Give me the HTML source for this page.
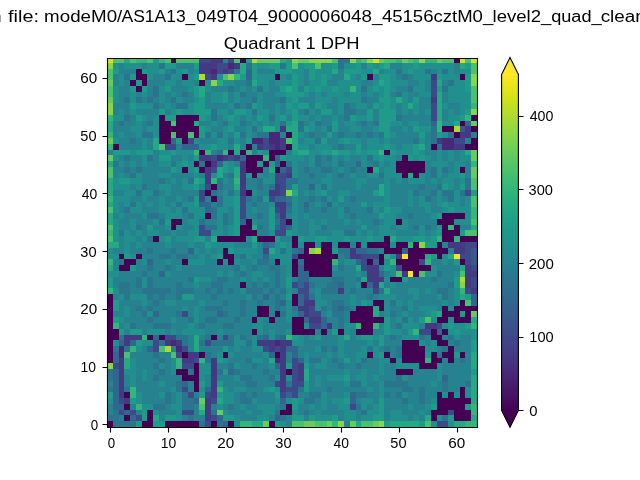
<!DOCTYPE html><html><head><meta charset="utf-8"><style>html,body{margin:0;padding:0;background:#fff;width:640px;height:480px;overflow:hidden}svg{display:block}text{font-family:"Liberation Sans",sans-serif;fill:#000}.tx{opacity:0.999;will-change:transform}</style></head><body>
<svg width="640" height="480" viewBox="0 0 640 480">
<rect width="640" height="480" fill="#fff"/>
<g shape-rendering="crispEdges">
<rect x="107" y="58" width="6" height="5" fill="#d2e21b"/>
<rect x="113" y="58" width="11" height="5" fill="#4ac16d"/>
<rect x="124" y="58" width="6" height="5" fill="#23a983"/>
<rect x="130" y="58" width="6" height="5" fill="#4ac16d"/>
<rect x="136" y="58" width="11" height="5" fill="#32b67a"/>
<rect x="147" y="58" width="6" height="5" fill="#4ac16d"/>
<rect x="153" y="58" width="6" height="5" fill="#1e9c89"/>
<rect x="159" y="58" width="6" height="5" fill="#32b67a"/>
<rect x="165" y="58" width="6" height="5" fill="#4ac16d"/>
<rect x="171" y="58" width="5" height="5" fill="#440154"/>
<rect x="176" y="58" width="23" height="5" fill="#4ac16d"/>
<rect x="199" y="58" width="12" height="5" fill="#3e4989"/>
<rect x="211" y="58" width="12" height="5" fill="#443983"/>
<rect x="223" y="58" width="5" height="5" fill="#26828e"/>
<rect x="228" y="58" width="6" height="5" fill="#3e4989"/>
<rect x="234" y="58" width="6" height="5" fill="#4ac16d"/>
<rect x="240" y="58" width="6" height="5" fill="#440154"/>
<rect x="246" y="58" width="6" height="5" fill="#1e9c89"/>
<rect x="252" y="58" width="5" height="5" fill="#addc30"/>
<rect x="257" y="58" width="23" height="5" fill="#67cc5c"/>
<rect x="280" y="58" width="6" height="5" fill="#23a983"/>
<rect x="286" y="58" width="6" height="5" fill="#1e9c89"/>
<rect x="292" y="58" width="6" height="5" fill="#89d548"/>
<rect x="298" y="58" width="11" height="5" fill="#67cc5c"/>
<rect x="309" y="58" width="23" height="5" fill="#89d548"/>
<rect x="332" y="58" width="6" height="5" fill="#4ac16d"/>
<rect x="338" y="58" width="12" height="5" fill="#2b748e"/>
<rect x="350" y="58" width="6" height="5" fill="#89d548"/>
<rect x="356" y="58" width="5" height="5" fill="#32b67a"/>
<rect x="361" y="58" width="6" height="5" fill="#4ac16d"/>
<rect x="367" y="58" width="6" height="5" fill="#89d548"/>
<rect x="373" y="58" width="6" height="5" fill="#d2e21b"/>
<rect x="379" y="58" width="5" height="5" fill="#67cc5c"/>
<rect x="384" y="58" width="12" height="5" fill="#4ac16d"/>
<rect x="396" y="58" width="6" height="5" fill="#32b67a"/>
<rect x="402" y="58" width="6" height="5" fill="#67cc5c"/>
<rect x="408" y="58" width="5" height="5" fill="#4ac16d"/>
<rect x="413" y="58" width="6" height="5" fill="#32b67a"/>
<rect x="419" y="58" width="6" height="5" fill="#89d548"/>
<rect x="425" y="58" width="12" height="5" fill="#32b67a"/>
<rect x="437" y="58" width="5" height="5" fill="#67cc5c"/>
<rect x="442" y="58" width="12" height="5" fill="#4ac16d"/>
<rect x="454" y="58" width="6" height="5" fill="#440154"/>
<rect x="460" y="58" width="5" height="5" fill="#d2e21b"/>
<rect x="465" y="58" width="6" height="5" fill="#4ac16d"/>
<rect x="471" y="58" width="6" height="5" fill="#d2e21b"/>
<rect x="107" y="63" width="6" height="6" fill="#89d548"/>
<rect x="113" y="63" width="6" height="6" fill="#218f8d"/>
<rect x="119" y="63" width="5" height="6" fill="#26828e"/>
<rect x="124" y="63" width="18" height="6" fill="#218f8d"/>
<rect x="142" y="63" width="5" height="6" fill="#26828e"/>
<rect x="147" y="63" width="12" height="6" fill="#218f8d"/>
<rect x="159" y="63" width="6" height="6" fill="#2b748e"/>
<rect x="165" y="63" width="11" height="6" fill="#1e9c89"/>
<rect x="176" y="63" width="18" height="6" fill="#26828e"/>
<rect x="194" y="63" width="5" height="6" fill="#1e9c89"/>
<rect x="199" y="63" width="18" height="6" fill="#443983"/>
<rect x="217" y="63" width="11" height="6" fill="#3e4989"/>
<rect x="228" y="63" width="6" height="6" fill="#482878"/>
<rect x="234" y="63" width="6" height="6" fill="#443983"/>
<rect x="240" y="63" width="6" height="6" fill="#23a983"/>
<rect x="246" y="63" width="6" height="6" fill="#2b748e"/>
<rect x="252" y="63" width="5" height="6" fill="#1e9c89"/>
<rect x="257" y="63" width="12" height="6" fill="#218f8d"/>
<rect x="269" y="63" width="11" height="6" fill="#1e9c89"/>
<rect x="280" y="63" width="6" height="6" fill="#2b748e"/>
<rect x="286" y="63" width="6" height="6" fill="#1e9c89"/>
<rect x="292" y="63" width="6" height="6" fill="#4ac16d"/>
<rect x="298" y="63" width="6" height="6" fill="#218f8d"/>
<rect x="304" y="63" width="11" height="6" fill="#1e9c89"/>
<rect x="315" y="63" width="6" height="6" fill="#4ac16d"/>
<rect x="321" y="63" width="11" height="6" fill="#218f8d"/>
<rect x="332" y="63" width="6" height="6" fill="#1e9c89"/>
<rect x="338" y="63" width="6" height="6" fill="#2b748e"/>
<rect x="344" y="63" width="12" height="6" fill="#218f8d"/>
<rect x="356" y="63" width="5" height="6" fill="#1e9c89"/>
<rect x="361" y="63" width="6" height="6" fill="#26828e"/>
<rect x="367" y="63" width="6" height="6" fill="#1e9c89"/>
<rect x="373" y="63" width="6" height="6" fill="#218f8d"/>
<rect x="379" y="63" width="5" height="6" fill="#1e9c89"/>
<rect x="384" y="63" width="6" height="6" fill="#23a983"/>
<rect x="390" y="63" width="12" height="6" fill="#26828e"/>
<rect x="402" y="63" width="11" height="6" fill="#218f8d"/>
<rect x="413" y="63" width="6" height="6" fill="#1e9c89"/>
<rect x="419" y="63" width="35" height="6" fill="#218f8d"/>
<rect x="454" y="63" width="6" height="6" fill="#26828e"/>
<rect x="460" y="63" width="5" height="6" fill="#23a983"/>
<rect x="465" y="63" width="6" height="6" fill="#1e9c89"/>
<rect x="471" y="63" width="6" height="6" fill="#4ac16d"/>
<rect x="107" y="69" width="6" height="5" fill="#4ac16d"/>
<rect x="113" y="69" width="6" height="5" fill="#1e9c89"/>
<rect x="119" y="69" width="17" height="5" fill="#26828e"/>
<rect x="136" y="69" width="6" height="5" fill="#440154"/>
<rect x="142" y="69" width="5" height="5" fill="#1e9c89"/>
<rect x="147" y="69" width="12" height="5" fill="#218f8d"/>
<rect x="159" y="69" width="6" height="5" fill="#1e9c89"/>
<rect x="165" y="69" width="6" height="5" fill="#26828e"/>
<rect x="171" y="69" width="5" height="5" fill="#2b748e"/>
<rect x="176" y="69" width="6" height="5" fill="#218f8d"/>
<rect x="182" y="69" width="6" height="5" fill="#1e9c89"/>
<rect x="188" y="69" width="6" height="5" fill="#26828e"/>
<rect x="194" y="69" width="5" height="5" fill="#218f8d"/>
<rect x="199" y="69" width="12" height="5" fill="#443983"/>
<rect x="211" y="69" width="6" height="5" fill="#482878"/>
<rect x="217" y="69" width="6" height="5" fill="#3e4989"/>
<rect x="223" y="69" width="5" height="5" fill="#443983"/>
<rect x="228" y="69" width="6" height="5" fill="#3e4989"/>
<rect x="234" y="69" width="6" height="5" fill="#2b748e"/>
<rect x="240" y="69" width="6" height="5" fill="#23a983"/>
<rect x="246" y="69" width="6" height="5" fill="#31678e"/>
<rect x="252" y="69" width="5" height="5" fill="#1e9c89"/>
<rect x="257" y="69" width="18" height="5" fill="#26828e"/>
<rect x="275" y="69" width="17" height="5" fill="#1e9c89"/>
<rect x="292" y="69" width="12" height="5" fill="#218f8d"/>
<rect x="304" y="69" width="5" height="5" fill="#26828e"/>
<rect x="309" y="69" width="6" height="5" fill="#1e9c89"/>
<rect x="315" y="69" width="17" height="5" fill="#218f8d"/>
<rect x="332" y="69" width="6" height="5" fill="#23a983"/>
<rect x="338" y="69" width="6" height="5" fill="#26828e"/>
<rect x="344" y="69" width="17" height="5" fill="#1e9c89"/>
<rect x="361" y="69" width="12" height="5" fill="#218f8d"/>
<rect x="373" y="69" width="6" height="5" fill="#23a983"/>
<rect x="379" y="69" width="5" height="5" fill="#26828e"/>
<rect x="384" y="69" width="12" height="5" fill="#218f8d"/>
<rect x="396" y="69" width="6" height="5" fill="#2b748e"/>
<rect x="402" y="69" width="6" height="5" fill="#218f8d"/>
<rect x="408" y="69" width="5" height="5" fill="#1e9c89"/>
<rect x="413" y="69" width="12" height="5" fill="#218f8d"/>
<rect x="425" y="69" width="6" height="5" fill="#2b748e"/>
<rect x="431" y="69" width="6" height="5" fill="#26828e"/>
<rect x="437" y="69" width="5" height="5" fill="#218f8d"/>
<rect x="442" y="69" width="6" height="5" fill="#2b748e"/>
<rect x="448" y="69" width="6" height="5" fill="#218f8d"/>
<rect x="454" y="69" width="6" height="5" fill="#26828e"/>
<rect x="460" y="69" width="11" height="5" fill="#218f8d"/>
<rect x="471" y="69" width="6" height="5" fill="#4ac16d"/>
<rect x="107" y="74" width="6" height="6" fill="#4ac16d"/>
<rect x="113" y="74" width="6" height="6" fill="#26828e"/>
<rect x="119" y="74" width="5" height="6" fill="#218f8d"/>
<rect x="124" y="74" width="6" height="6" fill="#2b748e"/>
<rect x="130" y="74" width="6" height="6" fill="#1e9c89"/>
<rect x="136" y="74" width="11" height="6" fill="#440154"/>
<rect x="147" y="74" width="6" height="6" fill="#218f8d"/>
<rect x="153" y="74" width="12" height="6" fill="#26828e"/>
<rect x="165" y="74" width="6" height="6" fill="#2b748e"/>
<rect x="171" y="74" width="11" height="6" fill="#218f8d"/>
<rect x="182" y="74" width="6" height="6" fill="#440154"/>
<rect x="188" y="74" width="6" height="6" fill="#218f8d"/>
<rect x="194" y="74" width="5" height="6" fill="#1e9c89"/>
<rect x="199" y="74" width="6" height="6" fill="#addc30"/>
<rect x="205" y="74" width="6" height="6" fill="#3e4989"/>
<rect x="211" y="74" width="6" height="6" fill="#443983"/>
<rect x="217" y="74" width="6" height="6" fill="#218f8d"/>
<rect x="223" y="74" width="5" height="6" fill="#4ac16d"/>
<rect x="228" y="74" width="6" height="6" fill="#89d548"/>
<rect x="234" y="74" width="6" height="6" fill="#32b67a"/>
<rect x="240" y="74" width="6" height="6" fill="#1e9c89"/>
<rect x="246" y="74" width="6" height="6" fill="#31678e"/>
<rect x="252" y="74" width="5" height="6" fill="#1e9c89"/>
<rect x="257" y="74" width="18" height="6" fill="#218f8d"/>
<rect x="275" y="74" width="5" height="6" fill="#440154"/>
<rect x="280" y="74" width="6" height="6" fill="#218f8d"/>
<rect x="286" y="74" width="6" height="6" fill="#26828e"/>
<rect x="292" y="74" width="6" height="6" fill="#1e9c89"/>
<rect x="298" y="74" width="6" height="6" fill="#218f8d"/>
<rect x="304" y="74" width="5" height="6" fill="#26828e"/>
<rect x="309" y="74" width="6" height="6" fill="#1e9c89"/>
<rect x="315" y="74" width="6" height="6" fill="#218f8d"/>
<rect x="321" y="74" width="6" height="6" fill="#1e9c89"/>
<rect x="327" y="74" width="5" height="6" fill="#218f8d"/>
<rect x="332" y="74" width="12" height="6" fill="#26828e"/>
<rect x="344" y="74" width="6" height="6" fill="#23a983"/>
<rect x="350" y="74" width="6" height="6" fill="#218f8d"/>
<rect x="356" y="74" width="5" height="6" fill="#26828e"/>
<rect x="361" y="74" width="6" height="6" fill="#1e9c89"/>
<rect x="367" y="74" width="6" height="6" fill="#440154"/>
<rect x="373" y="74" width="6" height="6" fill="#26828e"/>
<rect x="379" y="74" width="11" height="6" fill="#1e9c89"/>
<rect x="390" y="74" width="6" height="6" fill="#218f8d"/>
<rect x="396" y="74" width="6" height="6" fill="#26828e"/>
<rect x="402" y="74" width="6" height="6" fill="#2b748e"/>
<rect x="408" y="74" width="5" height="6" fill="#26828e"/>
<rect x="413" y="74" width="18" height="6" fill="#218f8d"/>
<rect x="431" y="74" width="6" height="6" fill="#443983"/>
<rect x="437" y="74" width="5" height="6" fill="#1e9c89"/>
<rect x="442" y="74" width="18" height="6" fill="#218f8d"/>
<rect x="460" y="74" width="5" height="6" fill="#440154"/>
<rect x="465" y="74" width="6" height="6" fill="#1e9c89"/>
<rect x="471" y="74" width="6" height="6" fill="#89d548"/>
<rect x="107" y="80" width="6" height="6" fill="#67cc5c"/>
<rect x="113" y="80" width="6" height="6" fill="#26828e"/>
<rect x="119" y="80" width="5" height="6" fill="#218f8d"/>
<rect x="124" y="80" width="6" height="6" fill="#26828e"/>
<rect x="130" y="80" width="6" height="6" fill="#440154"/>
<rect x="136" y="80" width="6" height="6" fill="#1e9c89"/>
<rect x="142" y="80" width="5" height="6" fill="#440154"/>
<rect x="147" y="80" width="18" height="6" fill="#26828e"/>
<rect x="165" y="80" width="11" height="6" fill="#218f8d"/>
<rect x="176" y="80" width="6" height="6" fill="#26828e"/>
<rect x="182" y="80" width="12" height="6" fill="#218f8d"/>
<rect x="194" y="80" width="5" height="6" fill="#26828e"/>
<rect x="199" y="80" width="6" height="6" fill="#440154"/>
<rect x="205" y="80" width="6" height="6" fill="#218f8d"/>
<rect x="211" y="80" width="6" height="6" fill="#89d548"/>
<rect x="217" y="80" width="6" height="6" fill="#23a983"/>
<rect x="223" y="80" width="11" height="6" fill="#218f8d"/>
<rect x="234" y="80" width="12" height="6" fill="#26828e"/>
<rect x="246" y="80" width="6" height="6" fill="#2b748e"/>
<rect x="252" y="80" width="5" height="6" fill="#23a983"/>
<rect x="257" y="80" width="12" height="6" fill="#218f8d"/>
<rect x="269" y="80" width="6" height="6" fill="#26828e"/>
<rect x="275" y="80" width="17" height="6" fill="#218f8d"/>
<rect x="292" y="80" width="6" height="6" fill="#1e9c89"/>
<rect x="298" y="80" width="6" height="6" fill="#218f8d"/>
<rect x="304" y="80" width="5" height="6" fill="#26828e"/>
<rect x="309" y="80" width="12" height="6" fill="#218f8d"/>
<rect x="321" y="80" width="6" height="6" fill="#1e9c89"/>
<rect x="327" y="80" width="11" height="6" fill="#26828e"/>
<rect x="338" y="80" width="23" height="6" fill="#218f8d"/>
<rect x="361" y="80" width="12" height="6" fill="#26828e"/>
<rect x="373" y="80" width="6" height="6" fill="#218f8d"/>
<rect x="379" y="80" width="5" height="6" fill="#23a983"/>
<rect x="384" y="80" width="6" height="6" fill="#1e9c89"/>
<rect x="390" y="80" width="18" height="6" fill="#218f8d"/>
<rect x="408" y="80" width="11" height="6" fill="#26828e"/>
<rect x="419" y="80" width="6" height="6" fill="#218f8d"/>
<rect x="425" y="80" width="6" height="6" fill="#26828e"/>
<rect x="431" y="80" width="6" height="6" fill="#3e4989"/>
<rect x="437" y="80" width="5" height="6" fill="#23a983"/>
<rect x="442" y="80" width="6" height="6" fill="#26828e"/>
<rect x="448" y="80" width="6" height="6" fill="#2b748e"/>
<rect x="454" y="80" width="11" height="6" fill="#218f8d"/>
<rect x="465" y="80" width="6" height="6" fill="#1e9c89"/>
<rect x="471" y="80" width="6" height="6" fill="#89d548"/>
<rect x="107" y="86" width="6" height="6" fill="#4ac16d"/>
<rect x="113" y="86" width="6" height="6" fill="#218f8d"/>
<rect x="119" y="86" width="11" height="6" fill="#26828e"/>
<rect x="130" y="86" width="6" height="6" fill="#1e9c89"/>
<rect x="136" y="86" width="6" height="6" fill="#440154"/>
<rect x="142" y="86" width="5" height="6" fill="#1e9c89"/>
<rect x="147" y="86" width="6" height="6" fill="#26828e"/>
<rect x="153" y="86" width="6" height="6" fill="#2b748e"/>
<rect x="159" y="86" width="6" height="6" fill="#218f8d"/>
<rect x="165" y="86" width="6" height="6" fill="#1e9c89"/>
<rect x="171" y="86" width="17" height="6" fill="#26828e"/>
<rect x="188" y="86" width="6" height="6" fill="#218f8d"/>
<rect x="194" y="86" width="5" height="6" fill="#1e9c89"/>
<rect x="199" y="86" width="6" height="6" fill="#23a983"/>
<rect x="205" y="86" width="6" height="6" fill="#218f8d"/>
<rect x="211" y="86" width="17" height="6" fill="#26828e"/>
<rect x="228" y="86" width="6" height="6" fill="#2b748e"/>
<rect x="234" y="86" width="6" height="6" fill="#26828e"/>
<rect x="240" y="86" width="6" height="6" fill="#218f8d"/>
<rect x="246" y="86" width="6" height="6" fill="#26828e"/>
<rect x="252" y="86" width="5" height="6" fill="#218f8d"/>
<rect x="257" y="86" width="6" height="6" fill="#2b748e"/>
<rect x="263" y="86" width="6" height="6" fill="#218f8d"/>
<rect x="269" y="86" width="11" height="6" fill="#26828e"/>
<rect x="280" y="86" width="6" height="6" fill="#1e9c89"/>
<rect x="286" y="86" width="6" height="6" fill="#23a983"/>
<rect x="292" y="86" width="6" height="6" fill="#1e9c89"/>
<rect x="298" y="86" width="6" height="6" fill="#26828e"/>
<rect x="304" y="86" width="5" height="6" fill="#1e9c89"/>
<rect x="309" y="86" width="6" height="6" fill="#218f8d"/>
<rect x="315" y="86" width="6" height="6" fill="#1e9c89"/>
<rect x="321" y="86" width="11" height="6" fill="#218f8d"/>
<rect x="332" y="86" width="6" height="6" fill="#1e9c89"/>
<rect x="338" y="86" width="12" height="6" fill="#218f8d"/>
<rect x="350" y="86" width="6" height="6" fill="#32b67a"/>
<rect x="356" y="86" width="5" height="6" fill="#218f8d"/>
<rect x="361" y="86" width="6" height="6" fill="#2b748e"/>
<rect x="367" y="86" width="6" height="6" fill="#218f8d"/>
<rect x="373" y="86" width="6" height="6" fill="#1e9c89"/>
<rect x="379" y="86" width="5" height="6" fill="#218f8d"/>
<rect x="384" y="86" width="6" height="6" fill="#1e9c89"/>
<rect x="390" y="86" width="6" height="6" fill="#218f8d"/>
<rect x="396" y="86" width="12" height="6" fill="#26828e"/>
<rect x="408" y="86" width="5" height="6" fill="#2b748e"/>
<rect x="413" y="86" width="12" height="6" fill="#218f8d"/>
<rect x="425" y="86" width="6" height="6" fill="#26828e"/>
<rect x="431" y="86" width="6" height="6" fill="#3e4989"/>
<rect x="437" y="86" width="5" height="6" fill="#1e9c89"/>
<rect x="442" y="86" width="6" height="6" fill="#2b748e"/>
<rect x="448" y="86" width="17" height="6" fill="#218f8d"/>
<rect x="465" y="86" width="6" height="6" fill="#1e9c89"/>
<rect x="471" y="86" width="6" height="6" fill="#4ac16d"/>
<rect x="107" y="92" width="6" height="5" fill="#4ac16d"/>
<rect x="113" y="92" width="6" height="5" fill="#218f8d"/>
<rect x="119" y="92" width="11" height="5" fill="#26828e"/>
<rect x="130" y="92" width="6" height="5" fill="#218f8d"/>
<rect x="136" y="92" width="6" height="5" fill="#26828e"/>
<rect x="142" y="92" width="5" height="5" fill="#218f8d"/>
<rect x="147" y="92" width="6" height="5" fill="#26828e"/>
<rect x="153" y="92" width="6" height="5" fill="#2b748e"/>
<rect x="159" y="92" width="6" height="5" fill="#218f8d"/>
<rect x="165" y="92" width="6" height="5" fill="#26828e"/>
<rect x="171" y="92" width="5" height="5" fill="#218f8d"/>
<rect x="176" y="92" width="6" height="5" fill="#26828e"/>
<rect x="182" y="92" width="6" height="5" fill="#2b748e"/>
<rect x="188" y="92" width="6" height="5" fill="#26828e"/>
<rect x="194" y="92" width="5" height="5" fill="#1e9c89"/>
<rect x="199" y="92" width="6" height="5" fill="#23a983"/>
<rect x="205" y="92" width="6" height="5" fill="#26828e"/>
<rect x="211" y="92" width="12" height="5" fill="#218f8d"/>
<rect x="223" y="92" width="5" height="5" fill="#1e9c89"/>
<rect x="228" y="92" width="6" height="5" fill="#26828e"/>
<rect x="234" y="92" width="6" height="5" fill="#218f8d"/>
<rect x="240" y="92" width="6" height="5" fill="#2b748e"/>
<rect x="246" y="92" width="11" height="5" fill="#26828e"/>
<rect x="257" y="92" width="6" height="5" fill="#218f8d"/>
<rect x="263" y="92" width="12" height="5" fill="#26828e"/>
<rect x="275" y="92" width="11" height="5" fill="#218f8d"/>
<rect x="286" y="92" width="18" height="5" fill="#1e9c89"/>
<rect x="304" y="92" width="5" height="5" fill="#218f8d"/>
<rect x="309" y="92" width="6" height="5" fill="#26828e"/>
<rect x="315" y="92" width="6" height="5" fill="#218f8d"/>
<rect x="321" y="92" width="6" height="5" fill="#26828e"/>
<rect x="327" y="92" width="17" height="5" fill="#218f8d"/>
<rect x="344" y="92" width="6" height="5" fill="#26828e"/>
<rect x="350" y="92" width="11" height="5" fill="#218f8d"/>
<rect x="361" y="92" width="6" height="5" fill="#26828e"/>
<rect x="367" y="92" width="6" height="5" fill="#218f8d"/>
<rect x="373" y="92" width="6" height="5" fill="#26828e"/>
<rect x="379" y="92" width="5" height="5" fill="#218f8d"/>
<rect x="384" y="92" width="6" height="5" fill="#1e9c89"/>
<rect x="390" y="92" width="6" height="5" fill="#26828e"/>
<rect x="396" y="92" width="6" height="5" fill="#2b748e"/>
<rect x="402" y="92" width="6" height="5" fill="#218f8d"/>
<rect x="408" y="92" width="11" height="5" fill="#26828e"/>
<rect x="419" y="92" width="12" height="5" fill="#218f8d"/>
<rect x="431" y="92" width="6" height="5" fill="#3e4989"/>
<rect x="437" y="92" width="5" height="5" fill="#23a983"/>
<rect x="442" y="92" width="6" height="5" fill="#26828e"/>
<rect x="448" y="92" width="23" height="5" fill="#218f8d"/>
<rect x="471" y="92" width="6" height="5" fill="#4ac16d"/>
<rect x="107" y="97" width="6" height="6" fill="#67cc5c"/>
<rect x="113" y="97" width="6" height="6" fill="#218f8d"/>
<rect x="119" y="97" width="5" height="6" fill="#26828e"/>
<rect x="124" y="97" width="6" height="6" fill="#2b748e"/>
<rect x="130" y="97" width="6" height="6" fill="#218f8d"/>
<rect x="136" y="97" width="6" height="6" fill="#2b748e"/>
<rect x="142" y="97" width="5" height="6" fill="#26828e"/>
<rect x="147" y="97" width="6" height="6" fill="#2b748e"/>
<rect x="153" y="97" width="6" height="6" fill="#26828e"/>
<rect x="159" y="97" width="6" height="6" fill="#218f8d"/>
<rect x="165" y="97" width="6" height="6" fill="#26828e"/>
<rect x="171" y="97" width="5" height="6" fill="#2b748e"/>
<rect x="176" y="97" width="6" height="6" fill="#218f8d"/>
<rect x="182" y="97" width="12" height="6" fill="#26828e"/>
<rect x="194" y="97" width="5" height="6" fill="#218f8d"/>
<rect x="199" y="97" width="6" height="6" fill="#1e9c89"/>
<rect x="205" y="97" width="6" height="6" fill="#26828e"/>
<rect x="211" y="97" width="12" height="6" fill="#218f8d"/>
<rect x="223" y="97" width="5" height="6" fill="#1e9c89"/>
<rect x="228" y="97" width="6" height="6" fill="#26828e"/>
<rect x="234" y="97" width="6" height="6" fill="#218f8d"/>
<rect x="240" y="97" width="12" height="6" fill="#26828e"/>
<rect x="252" y="97" width="5" height="6" fill="#2b748e"/>
<rect x="257" y="97" width="6" height="6" fill="#218f8d"/>
<rect x="263" y="97" width="17" height="6" fill="#26828e"/>
<rect x="280" y="97" width="6" height="6" fill="#2b748e"/>
<rect x="286" y="97" width="6" height="6" fill="#218f8d"/>
<rect x="292" y="97" width="6" height="6" fill="#1e9c89"/>
<rect x="298" y="97" width="17" height="6" fill="#26828e"/>
<rect x="315" y="97" width="17" height="6" fill="#218f8d"/>
<rect x="332" y="97" width="6" height="6" fill="#26828e"/>
<rect x="338" y="97" width="23" height="6" fill="#218f8d"/>
<rect x="361" y="97" width="6" height="6" fill="#2b748e"/>
<rect x="367" y="97" width="12" height="6" fill="#26828e"/>
<rect x="379" y="97" width="11" height="6" fill="#1e9c89"/>
<rect x="390" y="97" width="6" height="6" fill="#218f8d"/>
<rect x="396" y="97" width="6" height="6" fill="#23a983"/>
<rect x="402" y="97" width="6" height="6" fill="#218f8d"/>
<rect x="408" y="97" width="5" height="6" fill="#26828e"/>
<rect x="413" y="97" width="6" height="6" fill="#1e9c89"/>
<rect x="419" y="97" width="12" height="6" fill="#26828e"/>
<rect x="431" y="97" width="6" height="6" fill="#443983"/>
<rect x="437" y="97" width="5" height="6" fill="#23a983"/>
<rect x="442" y="97" width="6" height="6" fill="#26828e"/>
<rect x="448" y="97" width="23" height="6" fill="#218f8d"/>
<rect x="471" y="97" width="6" height="6" fill="#4ac16d"/>
<rect x="107" y="103" width="6" height="6" fill="#89d548"/>
<rect x="113" y="103" width="17" height="6" fill="#26828e"/>
<rect x="130" y="103" width="6" height="6" fill="#1e9c89"/>
<rect x="136" y="103" width="17" height="6" fill="#218f8d"/>
<rect x="153" y="103" width="6" height="6" fill="#2b748e"/>
<rect x="159" y="103" width="6" height="6" fill="#26828e"/>
<rect x="165" y="103" width="6" height="6" fill="#218f8d"/>
<rect x="171" y="103" width="5" height="6" fill="#26828e"/>
<rect x="176" y="103" width="12" height="6" fill="#2b748e"/>
<rect x="188" y="103" width="6" height="6" fill="#218f8d"/>
<rect x="194" y="103" width="11" height="6" fill="#1e9c89"/>
<rect x="205" y="103" width="23" height="6" fill="#26828e"/>
<rect x="228" y="103" width="6" height="6" fill="#218f8d"/>
<rect x="234" y="103" width="6" height="6" fill="#2b748e"/>
<rect x="240" y="103" width="6" height="6" fill="#26828e"/>
<rect x="246" y="103" width="6" height="6" fill="#2b748e"/>
<rect x="252" y="103" width="5" height="6" fill="#1e9c89"/>
<rect x="257" y="103" width="6" height="6" fill="#218f8d"/>
<rect x="263" y="103" width="12" height="6" fill="#26828e"/>
<rect x="275" y="103" width="5" height="6" fill="#218f8d"/>
<rect x="280" y="103" width="6" height="6" fill="#26828e"/>
<rect x="286" y="103" width="6" height="6" fill="#1e9c89"/>
<rect x="292" y="103" width="6" height="6" fill="#218f8d"/>
<rect x="298" y="103" width="11" height="6" fill="#1e9c89"/>
<rect x="309" y="103" width="6" height="6" fill="#26828e"/>
<rect x="315" y="103" width="6" height="6" fill="#1e9c89"/>
<rect x="321" y="103" width="6" height="6" fill="#218f8d"/>
<rect x="327" y="103" width="11" height="6" fill="#26828e"/>
<rect x="338" y="103" width="6" height="6" fill="#218f8d"/>
<rect x="344" y="103" width="6" height="6" fill="#2b748e"/>
<rect x="350" y="103" width="6" height="6" fill="#26828e"/>
<rect x="356" y="103" width="11" height="6" fill="#218f8d"/>
<rect x="367" y="103" width="6" height="6" fill="#26828e"/>
<rect x="373" y="103" width="6" height="6" fill="#1e9c89"/>
<rect x="379" y="103" width="5" height="6" fill="#218f8d"/>
<rect x="384" y="103" width="6" height="6" fill="#1e9c89"/>
<rect x="390" y="103" width="6" height="6" fill="#218f8d"/>
<rect x="396" y="103" width="6" height="6" fill="#26828e"/>
<rect x="402" y="103" width="6" height="6" fill="#218f8d"/>
<rect x="408" y="103" width="5" height="6" fill="#23a983"/>
<rect x="413" y="103" width="6" height="6" fill="#218f8d"/>
<rect x="419" y="103" width="12" height="6" fill="#26828e"/>
<rect x="431" y="103" width="6" height="6" fill="#3e4989"/>
<rect x="437" y="103" width="5" height="6" fill="#23a983"/>
<rect x="442" y="103" width="6" height="6" fill="#218f8d"/>
<rect x="448" y="103" width="12" height="6" fill="#26828e"/>
<rect x="460" y="103" width="11" height="6" fill="#218f8d"/>
<rect x="471" y="103" width="6" height="6" fill="#32b67a"/>
<rect x="107" y="109" width="6" height="6" fill="#89d548"/>
<rect x="113" y="109" width="6" height="6" fill="#26828e"/>
<rect x="119" y="109" width="5" height="6" fill="#218f8d"/>
<rect x="124" y="109" width="6" height="6" fill="#26828e"/>
<rect x="130" y="109" width="6" height="6" fill="#218f8d"/>
<rect x="136" y="109" width="23" height="6" fill="#26828e"/>
<rect x="159" y="109" width="6" height="6" fill="#1e9c89"/>
<rect x="165" y="109" width="6" height="6" fill="#26828e"/>
<rect x="171" y="109" width="5" height="6" fill="#218f8d"/>
<rect x="176" y="109" width="6" height="6" fill="#1e9c89"/>
<rect x="182" y="109" width="12" height="6" fill="#218f8d"/>
<rect x="194" y="109" width="17" height="6" fill="#1e9c89"/>
<rect x="211" y="109" width="6" height="6" fill="#2b748e"/>
<rect x="217" y="109" width="11" height="6" fill="#218f8d"/>
<rect x="228" y="109" width="6" height="6" fill="#26828e"/>
<rect x="234" y="109" width="12" height="6" fill="#1e9c89"/>
<rect x="246" y="109" width="6" height="6" fill="#218f8d"/>
<rect x="252" y="109" width="5" height="6" fill="#2b748e"/>
<rect x="257" y="109" width="12" height="6" fill="#218f8d"/>
<rect x="269" y="109" width="6" height="6" fill="#26828e"/>
<rect x="275" y="109" width="5" height="6" fill="#218f8d"/>
<rect x="280" y="109" width="6" height="6" fill="#26828e"/>
<rect x="286" y="109" width="6" height="6" fill="#218f8d"/>
<rect x="292" y="109" width="6" height="6" fill="#1e9c89"/>
<rect x="298" y="109" width="6" height="6" fill="#26828e"/>
<rect x="304" y="109" width="5" height="6" fill="#2b748e"/>
<rect x="309" y="109" width="6" height="6" fill="#218f8d"/>
<rect x="315" y="109" width="6" height="6" fill="#26828e"/>
<rect x="321" y="109" width="11" height="6" fill="#1e9c89"/>
<rect x="332" y="109" width="6" height="6" fill="#26828e"/>
<rect x="338" y="109" width="6" height="6" fill="#218f8d"/>
<rect x="344" y="109" width="12" height="6" fill="#2b748e"/>
<rect x="356" y="109" width="11" height="6" fill="#26828e"/>
<rect x="367" y="109" width="6" height="6" fill="#1e9c89"/>
<rect x="373" y="109" width="6" height="6" fill="#26828e"/>
<rect x="379" y="109" width="17" height="6" fill="#1e9c89"/>
<rect x="396" y="109" width="6" height="6" fill="#26828e"/>
<rect x="402" y="109" width="6" height="6" fill="#218f8d"/>
<rect x="408" y="109" width="5" height="6" fill="#26828e"/>
<rect x="413" y="109" width="6" height="6" fill="#218f8d"/>
<rect x="419" y="109" width="6" height="6" fill="#26828e"/>
<rect x="425" y="109" width="6" height="6" fill="#218f8d"/>
<rect x="431" y="109" width="6" height="6" fill="#3e4989"/>
<rect x="437" y="109" width="5" height="6" fill="#23a983"/>
<rect x="442" y="109" width="6" height="6" fill="#26828e"/>
<rect x="448" y="109" width="6" height="6" fill="#218f8d"/>
<rect x="454" y="109" width="6" height="6" fill="#26828e"/>
<rect x="460" y="109" width="5" height="6" fill="#218f8d"/>
<rect x="465" y="109" width="6" height="6" fill="#1e9c89"/>
<rect x="471" y="109" width="6" height="6" fill="#89d548"/>
<rect x="107" y="115" width="6" height="6" fill="#32b67a"/>
<rect x="113" y="115" width="11" height="6" fill="#218f8d"/>
<rect x="124" y="115" width="6" height="6" fill="#2b748e"/>
<rect x="130" y="115" width="6" height="6" fill="#26828e"/>
<rect x="136" y="115" width="6" height="6" fill="#1e9c89"/>
<rect x="142" y="115" width="5" height="6" fill="#218f8d"/>
<rect x="147" y="115" width="6" height="6" fill="#26828e"/>
<rect x="153" y="115" width="6" height="6" fill="#218f8d"/>
<rect x="159" y="115" width="6" height="6" fill="#440154"/>
<rect x="165" y="115" width="11" height="6" fill="#1e9c89"/>
<rect x="176" y="115" width="23" height="6" fill="#440154"/>
<rect x="199" y="115" width="6" height="6" fill="#1e9c89"/>
<rect x="205" y="115" width="6" height="6" fill="#218f8d"/>
<rect x="211" y="115" width="6" height="6" fill="#2b748e"/>
<rect x="217" y="115" width="6" height="6" fill="#26828e"/>
<rect x="223" y="115" width="5" height="6" fill="#218f8d"/>
<rect x="228" y="115" width="6" height="6" fill="#1e9c89"/>
<rect x="234" y="115" width="6" height="6" fill="#218f8d"/>
<rect x="240" y="115" width="6" height="6" fill="#26828e"/>
<rect x="246" y="115" width="6" height="6" fill="#218f8d"/>
<rect x="252" y="115" width="5" height="6" fill="#26828e"/>
<rect x="257" y="115" width="6" height="6" fill="#1e9c89"/>
<rect x="263" y="115" width="6" height="6" fill="#218f8d"/>
<rect x="269" y="115" width="6" height="6" fill="#2b748e"/>
<rect x="275" y="115" width="5" height="6" fill="#218f8d"/>
<rect x="280" y="115" width="6" height="6" fill="#1e9c89"/>
<rect x="286" y="115" width="6" height="6" fill="#26828e"/>
<rect x="292" y="115" width="6" height="6" fill="#1e9c89"/>
<rect x="298" y="115" width="11" height="6" fill="#218f8d"/>
<rect x="309" y="115" width="6" height="6" fill="#26828e"/>
<rect x="315" y="115" width="6" height="6" fill="#218f8d"/>
<rect x="321" y="115" width="11" height="6" fill="#26828e"/>
<rect x="332" y="115" width="6" height="6" fill="#218f8d"/>
<rect x="338" y="115" width="6" height="6" fill="#26828e"/>
<rect x="344" y="115" width="6" height="6" fill="#2b748e"/>
<rect x="350" y="115" width="6" height="6" fill="#1e9c89"/>
<rect x="356" y="115" width="11" height="6" fill="#218f8d"/>
<rect x="367" y="115" width="6" height="6" fill="#1e9c89"/>
<rect x="373" y="115" width="6" height="6" fill="#26828e"/>
<rect x="379" y="115" width="17" height="6" fill="#1e9c89"/>
<rect x="396" y="115" width="6" height="6" fill="#2b748e"/>
<rect x="402" y="115" width="29" height="6" fill="#26828e"/>
<rect x="431" y="115" width="6" height="6" fill="#3e4989"/>
<rect x="437" y="115" width="5" height="6" fill="#23a983"/>
<rect x="442" y="115" width="6" height="6" fill="#26828e"/>
<rect x="448" y="115" width="12" height="6" fill="#218f8d"/>
<rect x="460" y="115" width="5" height="6" fill="#1e9c89"/>
<rect x="465" y="115" width="6" height="6" fill="#32b67a"/>
<rect x="471" y="115" width="6" height="6" fill="#440154"/>
<rect x="107" y="121" width="6" height="5" fill="#23a983"/>
<rect x="113" y="121" width="6" height="5" fill="#26828e"/>
<rect x="119" y="121" width="5" height="5" fill="#2b748e"/>
<rect x="124" y="121" width="12" height="5" fill="#26828e"/>
<rect x="136" y="121" width="6" height="5" fill="#218f8d"/>
<rect x="142" y="121" width="5" height="5" fill="#26828e"/>
<rect x="147" y="121" width="6" height="5" fill="#2b748e"/>
<rect x="153" y="121" width="6" height="5" fill="#218f8d"/>
<rect x="159" y="121" width="12" height="5" fill="#440154"/>
<rect x="171" y="121" width="5" height="5" fill="#4ac16d"/>
<rect x="176" y="121" width="18" height="5" fill="#440154"/>
<rect x="194" y="121" width="5" height="5" fill="#23a983"/>
<rect x="199" y="121" width="12" height="5" fill="#26828e"/>
<rect x="211" y="121" width="6" height="5" fill="#218f8d"/>
<rect x="217" y="121" width="6" height="5" fill="#26828e"/>
<rect x="223" y="121" width="5" height="5" fill="#2b748e"/>
<rect x="228" y="121" width="12" height="5" fill="#218f8d"/>
<rect x="240" y="121" width="6" height="5" fill="#2b748e"/>
<rect x="246" y="121" width="6" height="5" fill="#26828e"/>
<rect x="252" y="121" width="5" height="5" fill="#218f8d"/>
<rect x="257" y="121" width="6" height="5" fill="#26828e"/>
<rect x="263" y="121" width="6" height="5" fill="#218f8d"/>
<rect x="269" y="121" width="6" height="5" fill="#26828e"/>
<rect x="275" y="121" width="5" height="5" fill="#218f8d"/>
<rect x="280" y="121" width="6" height="5" fill="#2b748e"/>
<rect x="286" y="121" width="6" height="5" fill="#1e9c89"/>
<rect x="292" y="121" width="6" height="5" fill="#23a983"/>
<rect x="298" y="121" width="6" height="5" fill="#2b748e"/>
<rect x="304" y="121" width="5" height="5" fill="#26828e"/>
<rect x="309" y="121" width="6" height="5" fill="#218f8d"/>
<rect x="315" y="121" width="6" height="5" fill="#2b748e"/>
<rect x="321" y="121" width="11" height="5" fill="#26828e"/>
<rect x="332" y="121" width="6" height="5" fill="#1e9c89"/>
<rect x="338" y="121" width="6" height="5" fill="#26828e"/>
<rect x="344" y="121" width="12" height="5" fill="#218f8d"/>
<rect x="356" y="121" width="5" height="5" fill="#26828e"/>
<rect x="361" y="121" width="6" height="5" fill="#2b748e"/>
<rect x="367" y="121" width="6" height="5" fill="#26828e"/>
<rect x="373" y="121" width="6" height="5" fill="#2b748e"/>
<rect x="379" y="121" width="11" height="5" fill="#1e9c89"/>
<rect x="390" y="121" width="12" height="5" fill="#218f8d"/>
<rect x="402" y="121" width="6" height="5" fill="#26828e"/>
<rect x="408" y="121" width="11" height="5" fill="#218f8d"/>
<rect x="419" y="121" width="12" height="5" fill="#26828e"/>
<rect x="431" y="121" width="6" height="5" fill="#31678e"/>
<rect x="437" y="121" width="5" height="5" fill="#32b67a"/>
<rect x="442" y="121" width="12" height="5" fill="#218f8d"/>
<rect x="454" y="121" width="6" height="5" fill="#23a983"/>
<rect x="460" y="121" width="5" height="5" fill="#440154"/>
<rect x="465" y="121" width="6" height="5" fill="#31678e"/>
<rect x="471" y="121" width="6" height="5" fill="#67cc5c"/>
<rect x="107" y="126" width="6" height="6" fill="#23a983"/>
<rect x="113" y="126" width="17" height="6" fill="#26828e"/>
<rect x="130" y="126" width="12" height="6" fill="#218f8d"/>
<rect x="142" y="126" width="5" height="6" fill="#26828e"/>
<rect x="147" y="126" width="12" height="6" fill="#218f8d"/>
<rect x="159" y="126" width="40" height="6" fill="#440154"/>
<rect x="199" y="126" width="6" height="6" fill="#1e9c89"/>
<rect x="205" y="126" width="6" height="6" fill="#218f8d"/>
<rect x="211" y="126" width="12" height="6" fill="#26828e"/>
<rect x="223" y="126" width="5" height="6" fill="#218f8d"/>
<rect x="228" y="126" width="6" height="6" fill="#1e9c89"/>
<rect x="234" y="126" width="12" height="6" fill="#26828e"/>
<rect x="246" y="126" width="6" height="6" fill="#218f8d"/>
<rect x="252" y="126" width="5" height="6" fill="#2b748e"/>
<rect x="257" y="126" width="6" height="6" fill="#218f8d"/>
<rect x="263" y="126" width="12" height="6" fill="#23a983"/>
<rect x="275" y="126" width="5" height="6" fill="#218f8d"/>
<rect x="280" y="126" width="6" height="6" fill="#443983"/>
<rect x="286" y="126" width="12" height="6" fill="#23a983"/>
<rect x="298" y="126" width="6" height="6" fill="#2b748e"/>
<rect x="304" y="126" width="5" height="6" fill="#1e9c89"/>
<rect x="309" y="126" width="6" height="6" fill="#218f8d"/>
<rect x="315" y="126" width="6" height="6" fill="#26828e"/>
<rect x="321" y="126" width="6" height="6" fill="#218f8d"/>
<rect x="327" y="126" width="5" height="6" fill="#2b748e"/>
<rect x="332" y="126" width="6" height="6" fill="#1e9c89"/>
<rect x="338" y="126" width="12" height="6" fill="#26828e"/>
<rect x="350" y="126" width="11" height="6" fill="#218f8d"/>
<rect x="361" y="126" width="12" height="6" fill="#26828e"/>
<rect x="373" y="126" width="6" height="6" fill="#218f8d"/>
<rect x="379" y="126" width="11" height="6" fill="#1e9c89"/>
<rect x="390" y="126" width="12" height="6" fill="#26828e"/>
<rect x="402" y="126" width="6" height="6" fill="#218f8d"/>
<rect x="408" y="126" width="5" height="6" fill="#26828e"/>
<rect x="413" y="126" width="6" height="6" fill="#1e9c89"/>
<rect x="419" y="126" width="12" height="6" fill="#218f8d"/>
<rect x="431" y="126" width="6" height="6" fill="#2b748e"/>
<rect x="437" y="126" width="5" height="6" fill="#32b67a"/>
<rect x="442" y="126" width="12" height="6" fill="#440154"/>
<rect x="454" y="126" width="6" height="6" fill="#addc30"/>
<rect x="460" y="126" width="5" height="6" fill="#38598c"/>
<rect x="465" y="126" width="6" height="6" fill="#443983"/>
<rect x="471" y="126" width="6" height="6" fill="#440154"/>
<rect x="107" y="132" width="6" height="6" fill="#32b67a"/>
<rect x="113" y="132" width="6" height="6" fill="#26828e"/>
<rect x="119" y="132" width="5" height="6" fill="#218f8d"/>
<rect x="124" y="132" width="12" height="6" fill="#26828e"/>
<rect x="136" y="132" width="6" height="6" fill="#218f8d"/>
<rect x="142" y="132" width="11" height="6" fill="#2b748e"/>
<rect x="153" y="132" width="6" height="6" fill="#218f8d"/>
<rect x="159" y="132" width="12" height="6" fill="#440154"/>
<rect x="171" y="132" width="5" height="6" fill="#4ac16d"/>
<rect x="176" y="132" width="12" height="6" fill="#440154"/>
<rect x="188" y="132" width="6" height="6" fill="#4ac16d"/>
<rect x="194" y="132" width="5" height="6" fill="#440154"/>
<rect x="199" y="132" width="6" height="6" fill="#1e9c89"/>
<rect x="205" y="132" width="6" height="6" fill="#2b748e"/>
<rect x="211" y="132" width="6" height="6" fill="#218f8d"/>
<rect x="217" y="132" width="6" height="6" fill="#2b748e"/>
<rect x="223" y="132" width="5" height="6" fill="#218f8d"/>
<rect x="228" y="132" width="6" height="6" fill="#26828e"/>
<rect x="234" y="132" width="6" height="6" fill="#1e9c89"/>
<rect x="240" y="132" width="6" height="6" fill="#2b748e"/>
<rect x="246" y="132" width="6" height="6" fill="#218f8d"/>
<rect x="252" y="132" width="5" height="6" fill="#26828e"/>
<rect x="257" y="132" width="12" height="6" fill="#2b748e"/>
<rect x="269" y="132" width="11" height="6" fill="#482878"/>
<rect x="280" y="132" width="6" height="6" fill="#26828e"/>
<rect x="286" y="132" width="6" height="6" fill="#440154"/>
<rect x="292" y="132" width="6" height="6" fill="#23a983"/>
<rect x="298" y="132" width="6" height="6" fill="#218f8d"/>
<rect x="304" y="132" width="5" height="6" fill="#26828e"/>
<rect x="309" y="132" width="6" height="6" fill="#2b748e"/>
<rect x="315" y="132" width="12" height="6" fill="#26828e"/>
<rect x="327" y="132" width="5" height="6" fill="#1e9c89"/>
<rect x="332" y="132" width="6" height="6" fill="#26828e"/>
<rect x="338" y="132" width="6" height="6" fill="#2b748e"/>
<rect x="344" y="132" width="12" height="6" fill="#26828e"/>
<rect x="356" y="132" width="5" height="6" fill="#2b748e"/>
<rect x="361" y="132" width="6" height="6" fill="#26828e"/>
<rect x="367" y="132" width="6" height="6" fill="#2b748e"/>
<rect x="373" y="132" width="6" height="6" fill="#26828e"/>
<rect x="379" y="132" width="5" height="6" fill="#2b748e"/>
<rect x="384" y="132" width="6" height="6" fill="#1e9c89"/>
<rect x="390" y="132" width="6" height="6" fill="#218f8d"/>
<rect x="396" y="132" width="23" height="6" fill="#26828e"/>
<rect x="419" y="132" width="6" height="6" fill="#1e9c89"/>
<rect x="425" y="132" width="6" height="6" fill="#26828e"/>
<rect x="431" y="132" width="6" height="6" fill="#2b748e"/>
<rect x="437" y="132" width="5" height="6" fill="#1e9c89"/>
<rect x="442" y="132" width="6" height="6" fill="#218f8d"/>
<rect x="448" y="132" width="6" height="6" fill="#2b748e"/>
<rect x="454" y="132" width="6" height="6" fill="#440154"/>
<rect x="460" y="132" width="11" height="6" fill="#443983"/>
<rect x="471" y="132" width="6" height="6" fill="#26828e"/>
<rect x="107" y="138" width="6" height="6" fill="#67cc5c"/>
<rect x="113" y="138" width="6" height="6" fill="#218f8d"/>
<rect x="119" y="138" width="11" height="6" fill="#26828e"/>
<rect x="130" y="138" width="6" height="6" fill="#2b748e"/>
<rect x="136" y="138" width="6" height="6" fill="#26828e"/>
<rect x="142" y="138" width="5" height="6" fill="#218f8d"/>
<rect x="147" y="138" width="6" height="6" fill="#26828e"/>
<rect x="153" y="138" width="6" height="6" fill="#23a983"/>
<rect x="159" y="138" width="12" height="6" fill="#440154"/>
<rect x="171" y="138" width="5" height="6" fill="#31678e"/>
<rect x="176" y="138" width="6" height="6" fill="#1e9c89"/>
<rect x="182" y="138" width="6" height="6" fill="#440154"/>
<rect x="188" y="138" width="6" height="6" fill="#3e4989"/>
<rect x="194" y="138" width="5" height="6" fill="#218f8d"/>
<rect x="199" y="138" width="18" height="6" fill="#26828e"/>
<rect x="217" y="138" width="11" height="6" fill="#218f8d"/>
<rect x="228" y="138" width="6" height="6" fill="#2b748e"/>
<rect x="234" y="138" width="6" height="6" fill="#218f8d"/>
<rect x="240" y="138" width="6" height="6" fill="#26828e"/>
<rect x="246" y="138" width="6" height="6" fill="#1e9c89"/>
<rect x="252" y="138" width="11" height="6" fill="#482878"/>
<rect x="263" y="138" width="6" height="6" fill="#3e4989"/>
<rect x="269" y="138" width="11" height="6" fill="#482878"/>
<rect x="280" y="138" width="6" height="6" fill="#443983"/>
<rect x="286" y="138" width="6" height="6" fill="#4ac16d"/>
<rect x="292" y="138" width="6" height="6" fill="#23a983"/>
<rect x="298" y="138" width="6" height="6" fill="#26828e"/>
<rect x="304" y="138" width="11" height="6" fill="#218f8d"/>
<rect x="315" y="138" width="6" height="6" fill="#2b748e"/>
<rect x="321" y="138" width="6" height="6" fill="#1e9c89"/>
<rect x="327" y="138" width="11" height="6" fill="#26828e"/>
<rect x="338" y="138" width="6" height="6" fill="#218f8d"/>
<rect x="344" y="138" width="6" height="6" fill="#1e9c89"/>
<rect x="350" y="138" width="11" height="6" fill="#218f8d"/>
<rect x="361" y="138" width="6" height="6" fill="#26828e"/>
<rect x="367" y="138" width="12" height="6" fill="#218f8d"/>
<rect x="379" y="138" width="5" height="6" fill="#26828e"/>
<rect x="384" y="138" width="6" height="6" fill="#218f8d"/>
<rect x="390" y="138" width="23" height="6" fill="#26828e"/>
<rect x="413" y="138" width="6" height="6" fill="#2b748e"/>
<rect x="419" y="138" width="6" height="6" fill="#218f8d"/>
<rect x="425" y="138" width="6" height="6" fill="#26828e"/>
<rect x="431" y="138" width="6" height="6" fill="#2b748e"/>
<rect x="437" y="138" width="5" height="6" fill="#443983"/>
<rect x="442" y="138" width="12" height="6" fill="#482878"/>
<rect x="454" y="138" width="11" height="6" fill="#3e4989"/>
<rect x="465" y="138" width="6" height="6" fill="#26828e"/>
<rect x="471" y="138" width="6" height="6" fill="#440154"/>
<rect x="107" y="144" width="6" height="6" fill="#32b67a"/>
<rect x="113" y="144" width="6" height="6" fill="#440154"/>
<rect x="119" y="144" width="23" height="6" fill="#26828e"/>
<rect x="142" y="144" width="5" height="6" fill="#218f8d"/>
<rect x="147" y="144" width="6" height="6" fill="#26828e"/>
<rect x="153" y="144" width="6" height="6" fill="#23a983"/>
<rect x="159" y="144" width="6" height="6" fill="#4ac16d"/>
<rect x="165" y="144" width="11" height="6" fill="#3e4989"/>
<rect x="176" y="144" width="6" height="6" fill="#26828e"/>
<rect x="182" y="144" width="17" height="6" fill="#31678e"/>
<rect x="199" y="144" width="12" height="6" fill="#218f8d"/>
<rect x="211" y="144" width="6" height="6" fill="#1e9c89"/>
<rect x="217" y="144" width="11" height="6" fill="#218f8d"/>
<rect x="228" y="144" width="6" height="6" fill="#26828e"/>
<rect x="234" y="144" width="6" height="6" fill="#23a983"/>
<rect x="240" y="144" width="6" height="6" fill="#26828e"/>
<rect x="246" y="144" width="6" height="6" fill="#440154"/>
<rect x="252" y="144" width="5" height="6" fill="#26828e"/>
<rect x="257" y="144" width="6" height="6" fill="#443983"/>
<rect x="263" y="144" width="6" height="6" fill="#3e4989"/>
<rect x="269" y="144" width="6" height="6" fill="#443983"/>
<rect x="275" y="144" width="5" height="6" fill="#482878"/>
<rect x="280" y="144" width="6" height="6" fill="#443983"/>
<rect x="286" y="144" width="6" height="6" fill="#440154"/>
<rect x="292" y="144" width="6" height="6" fill="#23a983"/>
<rect x="298" y="144" width="11" height="6" fill="#218f8d"/>
<rect x="309" y="144" width="6" height="6" fill="#26828e"/>
<rect x="315" y="144" width="17" height="6" fill="#218f8d"/>
<rect x="332" y="144" width="6" height="6" fill="#26828e"/>
<rect x="338" y="144" width="6" height="6" fill="#2b748e"/>
<rect x="344" y="144" width="12" height="6" fill="#26828e"/>
<rect x="356" y="144" width="5" height="6" fill="#1e9c89"/>
<rect x="361" y="144" width="6" height="6" fill="#26828e"/>
<rect x="367" y="144" width="17" height="6" fill="#218f8d"/>
<rect x="384" y="144" width="6" height="6" fill="#1e9c89"/>
<rect x="390" y="144" width="6" height="6" fill="#218f8d"/>
<rect x="396" y="144" width="6" height="6" fill="#26828e"/>
<rect x="402" y="144" width="11" height="6" fill="#218f8d"/>
<rect x="413" y="144" width="6" height="6" fill="#1e9c89"/>
<rect x="419" y="144" width="6" height="6" fill="#23a983"/>
<rect x="425" y="144" width="6" height="6" fill="#26828e"/>
<rect x="431" y="144" width="6" height="6" fill="#440154"/>
<rect x="437" y="144" width="5" height="6" fill="#2b748e"/>
<rect x="442" y="144" width="12" height="6" fill="#482878"/>
<rect x="454" y="144" width="11" height="6" fill="#443983"/>
<rect x="465" y="144" width="12" height="6" fill="#440154"/>
<rect x="107" y="150" width="6" height="5" fill="#26828e"/>
<rect x="113" y="150" width="17" height="5" fill="#1e9c89"/>
<rect x="130" y="150" width="6" height="5" fill="#218f8d"/>
<rect x="136" y="150" width="17" height="5" fill="#1e9c89"/>
<rect x="153" y="150" width="6" height="5" fill="#26828e"/>
<rect x="159" y="150" width="12" height="5" fill="#218f8d"/>
<rect x="171" y="150" width="5" height="5" fill="#1e9c89"/>
<rect x="176" y="150" width="18" height="5" fill="#218f8d"/>
<rect x="194" y="150" width="5" height="5" fill="#32b67a"/>
<rect x="199" y="150" width="6" height="5" fill="#440154"/>
<rect x="205" y="150" width="6" height="5" fill="#32b67a"/>
<rect x="211" y="150" width="6" height="5" fill="#26828e"/>
<rect x="217" y="150" width="6" height="5" fill="#2b748e"/>
<rect x="223" y="150" width="5" height="5" fill="#32b67a"/>
<rect x="228" y="150" width="6" height="5" fill="#440154"/>
<rect x="234" y="150" width="6" height="5" fill="#23a983"/>
<rect x="240" y="150" width="6" height="5" fill="#440154"/>
<rect x="246" y="150" width="6" height="5" fill="#32b67a"/>
<rect x="252" y="150" width="5" height="5" fill="#26828e"/>
<rect x="257" y="150" width="6" height="5" fill="#1e9c89"/>
<rect x="263" y="150" width="6" height="5" fill="#218f8d"/>
<rect x="269" y="150" width="17" height="5" fill="#440154"/>
<rect x="286" y="150" width="6" height="5" fill="#26828e"/>
<rect x="292" y="150" width="6" height="5" fill="#1e9c89"/>
<rect x="298" y="150" width="11" height="5" fill="#23a983"/>
<rect x="309" y="150" width="12" height="5" fill="#218f8d"/>
<rect x="321" y="150" width="11" height="5" fill="#1e9c89"/>
<rect x="332" y="150" width="6" height="5" fill="#23a983"/>
<rect x="338" y="150" width="12" height="5" fill="#1e9c89"/>
<rect x="350" y="150" width="6" height="5" fill="#218f8d"/>
<rect x="356" y="150" width="5" height="5" fill="#1e9c89"/>
<rect x="361" y="150" width="6" height="5" fill="#218f8d"/>
<rect x="367" y="150" width="12" height="5" fill="#1e9c89"/>
<rect x="379" y="150" width="5" height="5" fill="#32b67a"/>
<rect x="384" y="150" width="6" height="5" fill="#440154"/>
<rect x="390" y="150" width="6" height="5" fill="#1e9c89"/>
<rect x="396" y="150" width="17" height="5" fill="#218f8d"/>
<rect x="413" y="150" width="6" height="5" fill="#1e9c89"/>
<rect x="419" y="150" width="6" height="5" fill="#218f8d"/>
<rect x="425" y="150" width="12" height="5" fill="#26828e"/>
<rect x="437" y="150" width="5" height="5" fill="#218f8d"/>
<rect x="442" y="150" width="6" height="5" fill="#26828e"/>
<rect x="448" y="150" width="6" height="5" fill="#218f8d"/>
<rect x="454" y="150" width="6" height="5" fill="#26828e"/>
<rect x="460" y="150" width="5" height="5" fill="#218f8d"/>
<rect x="465" y="150" width="6" height="5" fill="#23a983"/>
<rect x="471" y="150" width="6" height="5" fill="#67cc5c"/>
<rect x="107" y="155" width="6" height="6" fill="#67cc5c"/>
<rect x="113" y="155" width="6" height="6" fill="#218f8d"/>
<rect x="119" y="155" width="5" height="6" fill="#26828e"/>
<rect x="124" y="155" width="6" height="6" fill="#2b748e"/>
<rect x="130" y="155" width="12" height="6" fill="#26828e"/>
<rect x="142" y="155" width="5" height="6" fill="#218f8d"/>
<rect x="147" y="155" width="6" height="6" fill="#2b748e"/>
<rect x="153" y="155" width="6" height="6" fill="#26828e"/>
<rect x="159" y="155" width="12" height="6" fill="#1e9c89"/>
<rect x="171" y="155" width="11" height="6" fill="#26828e"/>
<rect x="182" y="155" width="6" height="6" fill="#218f8d"/>
<rect x="188" y="155" width="6" height="6" fill="#26828e"/>
<rect x="194" y="155" width="5" height="6" fill="#1e9c89"/>
<rect x="199" y="155" width="12" height="6" fill="#443983"/>
<rect x="211" y="155" width="6" height="6" fill="#3e4989"/>
<rect x="217" y="155" width="6" height="6" fill="#482878"/>
<rect x="223" y="155" width="5" height="6" fill="#443983"/>
<rect x="228" y="155" width="6" height="6" fill="#3e4989"/>
<rect x="234" y="155" width="6" height="6" fill="#443983"/>
<rect x="240" y="155" width="6" height="6" fill="#31678e"/>
<rect x="246" y="155" width="17" height="6" fill="#440154"/>
<rect x="263" y="155" width="6" height="6" fill="#32b67a"/>
<rect x="269" y="155" width="6" height="6" fill="#440154"/>
<rect x="275" y="155" width="5" height="6" fill="#31678e"/>
<rect x="280" y="155" width="6" height="6" fill="#1e9c89"/>
<rect x="286" y="155" width="18" height="6" fill="#218f8d"/>
<rect x="304" y="155" width="5" height="6" fill="#26828e"/>
<rect x="309" y="155" width="6" height="6" fill="#218f8d"/>
<rect x="315" y="155" width="6" height="6" fill="#2b748e"/>
<rect x="321" y="155" width="6" height="6" fill="#26828e"/>
<rect x="327" y="155" width="5" height="6" fill="#2b748e"/>
<rect x="332" y="155" width="6" height="6" fill="#218f8d"/>
<rect x="338" y="155" width="6" height="6" fill="#26828e"/>
<rect x="344" y="155" width="6" height="6" fill="#218f8d"/>
<rect x="350" y="155" width="11" height="6" fill="#26828e"/>
<rect x="361" y="155" width="6" height="6" fill="#218f8d"/>
<rect x="367" y="155" width="6" height="6" fill="#2b748e"/>
<rect x="373" y="155" width="6" height="6" fill="#218f8d"/>
<rect x="379" y="155" width="5" height="6" fill="#1e9c89"/>
<rect x="384" y="155" width="12" height="6" fill="#218f8d"/>
<rect x="396" y="155" width="6" height="6" fill="#26828e"/>
<rect x="402" y="155" width="6" height="6" fill="#440154"/>
<rect x="408" y="155" width="5" height="6" fill="#1e9c89"/>
<rect x="413" y="155" width="6" height="6" fill="#218f8d"/>
<rect x="419" y="155" width="6" height="6" fill="#1e9c89"/>
<rect x="425" y="155" width="6" height="6" fill="#218f8d"/>
<rect x="431" y="155" width="6" height="6" fill="#26828e"/>
<rect x="437" y="155" width="5" height="6" fill="#218f8d"/>
<rect x="442" y="155" width="6" height="6" fill="#26828e"/>
<rect x="448" y="155" width="6" height="6" fill="#218f8d"/>
<rect x="454" y="155" width="6" height="6" fill="#26828e"/>
<rect x="460" y="155" width="11" height="6" fill="#218f8d"/>
<rect x="471" y="155" width="6" height="6" fill="#67cc5c"/>
<rect x="107" y="161" width="6" height="6" fill="#23a983"/>
<rect x="113" y="161" width="6" height="6" fill="#2b748e"/>
<rect x="119" y="161" width="5" height="6" fill="#218f8d"/>
<rect x="124" y="161" width="6" height="6" fill="#26828e"/>
<rect x="130" y="161" width="6" height="6" fill="#218f8d"/>
<rect x="136" y="161" width="6" height="6" fill="#26828e"/>
<rect x="142" y="161" width="5" height="6" fill="#218f8d"/>
<rect x="147" y="161" width="12" height="6" fill="#26828e"/>
<rect x="159" y="161" width="12" height="6" fill="#218f8d"/>
<rect x="171" y="161" width="5" height="6" fill="#2b748e"/>
<rect x="176" y="161" width="6" height="6" fill="#218f8d"/>
<rect x="182" y="161" width="6" height="6" fill="#1e9c89"/>
<rect x="188" y="161" width="6" height="6" fill="#218f8d"/>
<rect x="194" y="161" width="5" height="6" fill="#440154"/>
<rect x="199" y="161" width="6" height="6" fill="#2b748e"/>
<rect x="205" y="161" width="6" height="6" fill="#440154"/>
<rect x="211" y="161" width="6" height="6" fill="#443983"/>
<rect x="217" y="161" width="6" height="6" fill="#31678e"/>
<rect x="223" y="161" width="5" height="6" fill="#1e9c89"/>
<rect x="228" y="161" width="6" height="6" fill="#218f8d"/>
<rect x="234" y="161" width="6" height="6" fill="#26828e"/>
<rect x="240" y="161" width="6" height="6" fill="#443983"/>
<rect x="246" y="161" width="11" height="6" fill="#440154"/>
<rect x="257" y="161" width="6" height="6" fill="#1e9c89"/>
<rect x="263" y="161" width="6" height="6" fill="#440154"/>
<rect x="269" y="161" width="6" height="6" fill="#1e9c89"/>
<rect x="275" y="161" width="5" height="6" fill="#31678e"/>
<rect x="280" y="161" width="6" height="6" fill="#440154"/>
<rect x="286" y="161" width="6" height="6" fill="#2b748e"/>
<rect x="292" y="161" width="6" height="6" fill="#218f8d"/>
<rect x="298" y="161" width="11" height="6" fill="#26828e"/>
<rect x="309" y="161" width="6" height="6" fill="#218f8d"/>
<rect x="315" y="161" width="6" height="6" fill="#2b748e"/>
<rect x="321" y="161" width="11" height="6" fill="#26828e"/>
<rect x="332" y="161" width="6" height="6" fill="#218f8d"/>
<rect x="338" y="161" width="6" height="6" fill="#2b748e"/>
<rect x="344" y="161" width="12" height="6" fill="#26828e"/>
<rect x="356" y="161" width="5" height="6" fill="#31678e"/>
<rect x="361" y="161" width="6" height="6" fill="#218f8d"/>
<rect x="367" y="161" width="6" height="6" fill="#26828e"/>
<rect x="373" y="161" width="6" height="6" fill="#2b748e"/>
<rect x="379" y="161" width="5" height="6" fill="#218f8d"/>
<rect x="384" y="161" width="6" height="6" fill="#26828e"/>
<rect x="390" y="161" width="6" height="6" fill="#218f8d"/>
<rect x="396" y="161" width="29" height="6" fill="#440154"/>
<rect x="425" y="161" width="6" height="6" fill="#26828e"/>
<rect x="431" y="161" width="17" height="6" fill="#218f8d"/>
<rect x="448" y="161" width="6" height="6" fill="#26828e"/>
<rect x="454" y="161" width="11" height="6" fill="#218f8d"/>
<rect x="465" y="161" width="6" height="6" fill="#26828e"/>
<rect x="471" y="161" width="6" height="6" fill="#32b67a"/>
<rect x="107" y="167" width="6" height="6" fill="#4ac16d"/>
<rect x="113" y="167" width="11" height="6" fill="#26828e"/>
<rect x="124" y="167" width="6" height="6" fill="#2b748e"/>
<rect x="130" y="167" width="6" height="6" fill="#26828e"/>
<rect x="136" y="167" width="6" height="6" fill="#2b748e"/>
<rect x="142" y="167" width="29" height="6" fill="#26828e"/>
<rect x="171" y="167" width="5" height="6" fill="#1e9c89"/>
<rect x="176" y="167" width="6" height="6" fill="#218f8d"/>
<rect x="182" y="167" width="6" height="6" fill="#440154"/>
<rect x="188" y="167" width="6" height="6" fill="#218f8d"/>
<rect x="194" y="167" width="5" height="6" fill="#1e9c89"/>
<rect x="199" y="167" width="6" height="6" fill="#440154"/>
<rect x="205" y="167" width="6" height="6" fill="#443983"/>
<rect x="211" y="167" width="6" height="6" fill="#3e4989"/>
<rect x="217" y="167" width="6" height="6" fill="#23a983"/>
<rect x="223" y="167" width="5" height="6" fill="#1e9c89"/>
<rect x="228" y="167" width="6" height="6" fill="#218f8d"/>
<rect x="234" y="167" width="6" height="6" fill="#23a983"/>
<rect x="240" y="167" width="6" height="6" fill="#443983"/>
<rect x="246" y="167" width="17" height="6" fill="#440154"/>
<rect x="263" y="167" width="6" height="6" fill="#26828e"/>
<rect x="269" y="167" width="6" height="6" fill="#23a983"/>
<rect x="275" y="167" width="5" height="6" fill="#440154"/>
<rect x="280" y="167" width="6" height="6" fill="#31678e"/>
<rect x="286" y="167" width="6" height="6" fill="#3e4989"/>
<rect x="292" y="167" width="6" height="6" fill="#218f8d"/>
<rect x="298" y="167" width="6" height="6" fill="#26828e"/>
<rect x="304" y="167" width="5" height="6" fill="#2b748e"/>
<rect x="309" y="167" width="12" height="6" fill="#26828e"/>
<rect x="321" y="167" width="11" height="6" fill="#2b748e"/>
<rect x="332" y="167" width="6" height="6" fill="#26828e"/>
<rect x="338" y="167" width="6" height="6" fill="#218f8d"/>
<rect x="344" y="167" width="6" height="6" fill="#26828e"/>
<rect x="350" y="167" width="6" height="6" fill="#2b748e"/>
<rect x="356" y="167" width="11" height="6" fill="#26828e"/>
<rect x="367" y="167" width="6" height="6" fill="#440154"/>
<rect x="373" y="167" width="6" height="6" fill="#23a983"/>
<rect x="379" y="167" width="5" height="6" fill="#26828e"/>
<rect x="384" y="167" width="12" height="6" fill="#218f8d"/>
<rect x="396" y="167" width="29" height="6" fill="#440154"/>
<rect x="425" y="167" width="6" height="6" fill="#26828e"/>
<rect x="431" y="167" width="6" height="6" fill="#2b748e"/>
<rect x="437" y="167" width="5" height="6" fill="#218f8d"/>
<rect x="442" y="167" width="6" height="6" fill="#2b748e"/>
<rect x="448" y="167" width="6" height="6" fill="#26828e"/>
<rect x="454" y="167" width="6" height="6" fill="#218f8d"/>
<rect x="460" y="167" width="5" height="6" fill="#440154"/>
<rect x="465" y="167" width="6" height="6" fill="#26828e"/>
<rect x="471" y="167" width="6" height="6" fill="#67cc5c"/>
<rect x="107" y="173" width="6" height="5" fill="#4ac16d"/>
<rect x="113" y="173" width="6" height="5" fill="#26828e"/>
<rect x="119" y="173" width="5" height="5" fill="#218f8d"/>
<rect x="124" y="173" width="6" height="5" fill="#26828e"/>
<rect x="130" y="173" width="6" height="5" fill="#2b748e"/>
<rect x="136" y="173" width="6" height="5" fill="#218f8d"/>
<rect x="142" y="173" width="17" height="5" fill="#26828e"/>
<rect x="159" y="173" width="12" height="5" fill="#218f8d"/>
<rect x="171" y="173" width="23" height="5" fill="#26828e"/>
<rect x="194" y="173" width="5" height="5" fill="#218f8d"/>
<rect x="199" y="173" width="6" height="5" fill="#26828e"/>
<rect x="205" y="173" width="6" height="5" fill="#443983"/>
<rect x="211" y="173" width="6" height="5" fill="#218f8d"/>
<rect x="217" y="173" width="6" height="5" fill="#23a983"/>
<rect x="223" y="173" width="5" height="5" fill="#26828e"/>
<rect x="228" y="173" width="6" height="5" fill="#2b748e"/>
<rect x="234" y="173" width="6" height="5" fill="#23a983"/>
<rect x="240" y="173" width="6" height="5" fill="#443983"/>
<rect x="246" y="173" width="6" height="5" fill="#1e9c89"/>
<rect x="252" y="173" width="5" height="5" fill="#440154"/>
<rect x="257" y="173" width="6" height="5" fill="#218f8d"/>
<rect x="263" y="173" width="6" height="5" fill="#26828e"/>
<rect x="269" y="173" width="6" height="5" fill="#218f8d"/>
<rect x="275" y="173" width="11" height="5" fill="#3e4989"/>
<rect x="286" y="173" width="6" height="5" fill="#443983"/>
<rect x="292" y="173" width="6" height="5" fill="#218f8d"/>
<rect x="298" y="173" width="11" height="5" fill="#26828e"/>
<rect x="309" y="173" width="6" height="5" fill="#2b748e"/>
<rect x="315" y="173" width="12" height="5" fill="#26828e"/>
<rect x="327" y="173" width="5" height="5" fill="#218f8d"/>
<rect x="332" y="173" width="6" height="5" fill="#26828e"/>
<rect x="338" y="173" width="6" height="5" fill="#2b748e"/>
<rect x="344" y="173" width="6" height="5" fill="#26828e"/>
<rect x="350" y="173" width="6" height="5" fill="#218f8d"/>
<rect x="356" y="173" width="11" height="5" fill="#26828e"/>
<rect x="367" y="173" width="12" height="5" fill="#218f8d"/>
<rect x="379" y="173" width="5" height="5" fill="#2b748e"/>
<rect x="384" y="173" width="18" height="5" fill="#218f8d"/>
<rect x="402" y="173" width="6" height="5" fill="#440154"/>
<rect x="408" y="173" width="5" height="5" fill="#23a983"/>
<rect x="413" y="173" width="6" height="5" fill="#440154"/>
<rect x="419" y="173" width="6" height="5" fill="#218f8d"/>
<rect x="425" y="173" width="6" height="5" fill="#26828e"/>
<rect x="431" y="173" width="6" height="5" fill="#2b748e"/>
<rect x="437" y="173" width="5" height="5" fill="#218f8d"/>
<rect x="442" y="173" width="6" height="5" fill="#26828e"/>
<rect x="448" y="173" width="12" height="5" fill="#218f8d"/>
<rect x="460" y="173" width="5" height="5" fill="#1e9c89"/>
<rect x="465" y="173" width="6" height="5" fill="#26828e"/>
<rect x="471" y="173" width="6" height="5" fill="#67cc5c"/>
<rect x="107" y="178" width="6" height="6" fill="#23a983"/>
<rect x="113" y="178" width="6" height="6" fill="#218f8d"/>
<rect x="119" y="178" width="11" height="6" fill="#1e9c89"/>
<rect x="130" y="178" width="12" height="6" fill="#218f8d"/>
<rect x="142" y="178" width="17" height="6" fill="#26828e"/>
<rect x="159" y="178" width="6" height="6" fill="#2b748e"/>
<rect x="165" y="178" width="6" height="6" fill="#26828e"/>
<rect x="171" y="178" width="5" height="6" fill="#218f8d"/>
<rect x="176" y="178" width="6" height="6" fill="#26828e"/>
<rect x="182" y="178" width="6" height="6" fill="#218f8d"/>
<rect x="188" y="178" width="6" height="6" fill="#2b748e"/>
<rect x="194" y="178" width="5" height="6" fill="#23a983"/>
<rect x="199" y="178" width="6" height="6" fill="#1e9c89"/>
<rect x="205" y="178" width="6" height="6" fill="#443983"/>
<rect x="211" y="178" width="6" height="6" fill="#32b67a"/>
<rect x="217" y="178" width="6" height="6" fill="#2b748e"/>
<rect x="223" y="178" width="5" height="6" fill="#218f8d"/>
<rect x="228" y="178" width="6" height="6" fill="#26828e"/>
<rect x="234" y="178" width="6" height="6" fill="#32b67a"/>
<rect x="240" y="178" width="6" height="6" fill="#443983"/>
<rect x="246" y="178" width="11" height="6" fill="#26828e"/>
<rect x="257" y="178" width="6" height="6" fill="#2b748e"/>
<rect x="263" y="178" width="12" height="6" fill="#218f8d"/>
<rect x="275" y="178" width="11" height="6" fill="#3e4989"/>
<rect x="286" y="178" width="12" height="6" fill="#2b748e"/>
<rect x="298" y="178" width="23" height="6" fill="#26828e"/>
<rect x="321" y="178" width="11" height="6" fill="#218f8d"/>
<rect x="332" y="178" width="24" height="6" fill="#26828e"/>
<rect x="356" y="178" width="11" height="6" fill="#218f8d"/>
<rect x="367" y="178" width="17" height="6" fill="#26828e"/>
<rect x="384" y="178" width="6" height="6" fill="#218f8d"/>
<rect x="390" y="178" width="6" height="6" fill="#26828e"/>
<rect x="396" y="178" width="6" height="6" fill="#218f8d"/>
<rect x="402" y="178" width="6" height="6" fill="#26828e"/>
<rect x="408" y="178" width="17" height="6" fill="#218f8d"/>
<rect x="425" y="178" width="6" height="6" fill="#26828e"/>
<rect x="431" y="178" width="6" height="6" fill="#218f8d"/>
<rect x="437" y="178" width="5" height="6" fill="#26828e"/>
<rect x="442" y="178" width="12" height="6" fill="#218f8d"/>
<rect x="454" y="178" width="6" height="6" fill="#26828e"/>
<rect x="460" y="178" width="5" height="6" fill="#218f8d"/>
<rect x="465" y="178" width="6" height="6" fill="#2b748e"/>
<rect x="471" y="178" width="6" height="6" fill="#4ac16d"/>
<rect x="107" y="184" width="6" height="6" fill="#23a983"/>
<rect x="113" y="184" width="17" height="6" fill="#218f8d"/>
<rect x="130" y="184" width="6" height="6" fill="#26828e"/>
<rect x="136" y="184" width="6" height="6" fill="#218f8d"/>
<rect x="142" y="184" width="5" height="6" fill="#2b748e"/>
<rect x="147" y="184" width="12" height="6" fill="#26828e"/>
<rect x="159" y="184" width="12" height="6" fill="#218f8d"/>
<rect x="171" y="184" width="11" height="6" fill="#26828e"/>
<rect x="182" y="184" width="12" height="6" fill="#218f8d"/>
<rect x="194" y="184" width="5" height="6" fill="#1e9c89"/>
<rect x="199" y="184" width="6" height="6" fill="#26828e"/>
<rect x="205" y="184" width="6" height="6" fill="#3e4989"/>
<rect x="211" y="184" width="6" height="6" fill="#440154"/>
<rect x="217" y="184" width="6" height="6" fill="#2b748e"/>
<rect x="223" y="184" width="11" height="6" fill="#26828e"/>
<rect x="234" y="184" width="6" height="6" fill="#23a983"/>
<rect x="240" y="184" width="6" height="6" fill="#443983"/>
<rect x="246" y="184" width="11" height="6" fill="#26828e"/>
<rect x="257" y="184" width="6" height="6" fill="#2b748e"/>
<rect x="263" y="184" width="6" height="6" fill="#26828e"/>
<rect x="269" y="184" width="6" height="6" fill="#2b748e"/>
<rect x="275" y="184" width="5" height="6" fill="#443983"/>
<rect x="280" y="184" width="6" height="6" fill="#3e4989"/>
<rect x="286" y="184" width="6" height="6" fill="#2b748e"/>
<rect x="292" y="184" width="6" height="6" fill="#1e9c89"/>
<rect x="298" y="184" width="11" height="6" fill="#26828e"/>
<rect x="309" y="184" width="6" height="6" fill="#31678e"/>
<rect x="315" y="184" width="6" height="6" fill="#218f8d"/>
<rect x="321" y="184" width="6" height="6" fill="#2b748e"/>
<rect x="327" y="184" width="5" height="6" fill="#218f8d"/>
<rect x="332" y="184" width="24" height="6" fill="#26828e"/>
<rect x="356" y="184" width="5" height="6" fill="#218f8d"/>
<rect x="361" y="184" width="18" height="6" fill="#26828e"/>
<rect x="379" y="184" width="5" height="6" fill="#23a983"/>
<rect x="384" y="184" width="6" height="6" fill="#218f8d"/>
<rect x="390" y="184" width="29" height="6" fill="#26828e"/>
<rect x="419" y="184" width="6" height="6" fill="#2b748e"/>
<rect x="425" y="184" width="12" height="6" fill="#26828e"/>
<rect x="437" y="184" width="5" height="6" fill="#2b748e"/>
<rect x="442" y="184" width="6" height="6" fill="#1e9c89"/>
<rect x="448" y="184" width="6" height="6" fill="#218f8d"/>
<rect x="454" y="184" width="6" height="6" fill="#26828e"/>
<rect x="460" y="184" width="5" height="6" fill="#1e9c89"/>
<rect x="465" y="184" width="6" height="6" fill="#2b748e"/>
<rect x="471" y="184" width="6" height="6" fill="#4ac16d"/>
<rect x="107" y="190" width="6" height="6" fill="#23a983"/>
<rect x="113" y="190" width="11" height="6" fill="#26828e"/>
<rect x="124" y="190" width="12" height="6" fill="#218f8d"/>
<rect x="136" y="190" width="6" height="6" fill="#2b748e"/>
<rect x="142" y="190" width="11" height="6" fill="#218f8d"/>
<rect x="153" y="190" width="6" height="6" fill="#2b748e"/>
<rect x="159" y="190" width="6" height="6" fill="#26828e"/>
<rect x="165" y="190" width="6" height="6" fill="#218f8d"/>
<rect x="171" y="190" width="28" height="6" fill="#26828e"/>
<rect x="199" y="190" width="6" height="6" fill="#3e4989"/>
<rect x="205" y="190" width="6" height="6" fill="#440154"/>
<rect x="211" y="190" width="6" height="6" fill="#2b748e"/>
<rect x="217" y="190" width="6" height="6" fill="#26828e"/>
<rect x="223" y="190" width="5" height="6" fill="#218f8d"/>
<rect x="228" y="190" width="6" height="6" fill="#2b748e"/>
<rect x="234" y="190" width="6" height="6" fill="#218f8d"/>
<rect x="240" y="190" width="6" height="6" fill="#443983"/>
<rect x="246" y="190" width="6" height="6" fill="#440154"/>
<rect x="252" y="190" width="5" height="6" fill="#218f8d"/>
<rect x="257" y="190" width="12" height="6" fill="#26828e"/>
<rect x="269" y="190" width="11" height="6" fill="#443983"/>
<rect x="280" y="190" width="6" height="6" fill="#3e4989"/>
<rect x="286" y="190" width="6" height="6" fill="#89d548"/>
<rect x="292" y="190" width="6" height="6" fill="#23a983"/>
<rect x="298" y="190" width="6" height="6" fill="#26828e"/>
<rect x="304" y="190" width="5" height="6" fill="#218f8d"/>
<rect x="309" y="190" width="6" height="6" fill="#26828e"/>
<rect x="315" y="190" width="6" height="6" fill="#218f8d"/>
<rect x="321" y="190" width="6" height="6" fill="#1e9c89"/>
<rect x="327" y="190" width="11" height="6" fill="#26828e"/>
<rect x="338" y="190" width="12" height="6" fill="#218f8d"/>
<rect x="350" y="190" width="23" height="6" fill="#26828e"/>
<rect x="373" y="190" width="6" height="6" fill="#1e9c89"/>
<rect x="379" y="190" width="5" height="6" fill="#23a983"/>
<rect x="384" y="190" width="6" height="6" fill="#218f8d"/>
<rect x="390" y="190" width="18" height="6" fill="#26828e"/>
<rect x="408" y="190" width="5" height="6" fill="#218f8d"/>
<rect x="413" y="190" width="6" height="6" fill="#2b748e"/>
<rect x="419" y="190" width="12" height="6" fill="#26828e"/>
<rect x="431" y="190" width="6" height="6" fill="#2b748e"/>
<rect x="437" y="190" width="5" height="6" fill="#218f8d"/>
<rect x="442" y="190" width="12" height="6" fill="#2b748e"/>
<rect x="454" y="190" width="6" height="6" fill="#218f8d"/>
<rect x="460" y="190" width="5" height="6" fill="#2b748e"/>
<rect x="465" y="190" width="6" height="6" fill="#3e4989"/>
<rect x="471" y="190" width="6" height="6" fill="#1e9c89"/>
<rect x="107" y="196" width="6" height="6" fill="#32b67a"/>
<rect x="113" y="196" width="17" height="6" fill="#218f8d"/>
<rect x="130" y="196" width="12" height="6" fill="#26828e"/>
<rect x="142" y="196" width="5" height="6" fill="#218f8d"/>
<rect x="147" y="196" width="12" height="6" fill="#26828e"/>
<rect x="159" y="196" width="6" height="6" fill="#218f8d"/>
<rect x="165" y="196" width="11" height="6" fill="#26828e"/>
<rect x="176" y="196" width="6" height="6" fill="#218f8d"/>
<rect x="182" y="196" width="6" height="6" fill="#26828e"/>
<rect x="188" y="196" width="6" height="6" fill="#2b748e"/>
<rect x="194" y="196" width="5" height="6" fill="#1e9c89"/>
<rect x="199" y="196" width="6" height="6" fill="#3e4989"/>
<rect x="205" y="196" width="6" height="6" fill="#26828e"/>
<rect x="211" y="196" width="6" height="6" fill="#440154"/>
<rect x="217" y="196" width="6" height="6" fill="#2b748e"/>
<rect x="223" y="196" width="11" height="6" fill="#218f8d"/>
<rect x="234" y="196" width="6" height="6" fill="#1e9c89"/>
<rect x="240" y="196" width="6" height="6" fill="#3e4989"/>
<rect x="246" y="196" width="6" height="6" fill="#2b748e"/>
<rect x="252" y="196" width="5" height="6" fill="#26828e"/>
<rect x="257" y="196" width="6" height="6" fill="#2b748e"/>
<rect x="263" y="196" width="6" height="6" fill="#1e9c89"/>
<rect x="269" y="196" width="6" height="6" fill="#3e4989"/>
<rect x="275" y="196" width="11" height="6" fill="#31678e"/>
<rect x="286" y="196" width="6" height="6" fill="#2b748e"/>
<rect x="292" y="196" width="6" height="6" fill="#218f8d"/>
<rect x="298" y="196" width="11" height="6" fill="#26828e"/>
<rect x="309" y="196" width="6" height="6" fill="#2b748e"/>
<rect x="315" y="196" width="6" height="6" fill="#26828e"/>
<rect x="321" y="196" width="6" height="6" fill="#2b748e"/>
<rect x="327" y="196" width="5" height="6" fill="#218f8d"/>
<rect x="332" y="196" width="6" height="6" fill="#26828e"/>
<rect x="338" y="196" width="6" height="6" fill="#1e9c89"/>
<rect x="344" y="196" width="6" height="6" fill="#26828e"/>
<rect x="350" y="196" width="6" height="6" fill="#2b748e"/>
<rect x="356" y="196" width="28" height="6" fill="#26828e"/>
<rect x="384" y="196" width="6" height="6" fill="#218f8d"/>
<rect x="390" y="196" width="18" height="6" fill="#26828e"/>
<rect x="408" y="196" width="5" height="6" fill="#218f8d"/>
<rect x="413" y="196" width="6" height="6" fill="#26828e"/>
<rect x="419" y="196" width="6" height="6" fill="#218f8d"/>
<rect x="425" y="196" width="6" height="6" fill="#2b748e"/>
<rect x="431" y="196" width="6" height="6" fill="#26828e"/>
<rect x="437" y="196" width="5" height="6" fill="#218f8d"/>
<rect x="442" y="196" width="6" height="6" fill="#26828e"/>
<rect x="448" y="196" width="6" height="6" fill="#2b748e"/>
<rect x="454" y="196" width="6" height="6" fill="#218f8d"/>
<rect x="460" y="196" width="5" height="6" fill="#26828e"/>
<rect x="465" y="196" width="6" height="6" fill="#218f8d"/>
<rect x="471" y="196" width="6" height="6" fill="#4ac16d"/>
<rect x="107" y="202" width="6" height="5" fill="#23a983"/>
<rect x="113" y="202" width="6" height="5" fill="#218f8d"/>
<rect x="119" y="202" width="5" height="5" fill="#26828e"/>
<rect x="124" y="202" width="6" height="5" fill="#218f8d"/>
<rect x="130" y="202" width="6" height="5" fill="#2b748e"/>
<rect x="136" y="202" width="6" height="5" fill="#218f8d"/>
<rect x="142" y="202" width="5" height="5" fill="#26828e"/>
<rect x="147" y="202" width="6" height="5" fill="#218f8d"/>
<rect x="153" y="202" width="6" height="5" fill="#26828e"/>
<rect x="159" y="202" width="6" height="5" fill="#218f8d"/>
<rect x="165" y="202" width="6" height="5" fill="#26828e"/>
<rect x="171" y="202" width="5" height="5" fill="#218f8d"/>
<rect x="176" y="202" width="6" height="5" fill="#2b748e"/>
<rect x="182" y="202" width="12" height="5" fill="#218f8d"/>
<rect x="194" y="202" width="5" height="5" fill="#1e9c89"/>
<rect x="199" y="202" width="12" height="5" fill="#31678e"/>
<rect x="211" y="202" width="6" height="5" fill="#26828e"/>
<rect x="217" y="202" width="6" height="5" fill="#2b748e"/>
<rect x="223" y="202" width="11" height="5" fill="#218f8d"/>
<rect x="234" y="202" width="6" height="5" fill="#1e9c89"/>
<rect x="240" y="202" width="6" height="5" fill="#3e4989"/>
<rect x="246" y="202" width="6" height="5" fill="#26828e"/>
<rect x="252" y="202" width="5" height="5" fill="#2b748e"/>
<rect x="257" y="202" width="12" height="5" fill="#26828e"/>
<rect x="269" y="202" width="6" height="5" fill="#218f8d"/>
<rect x="275" y="202" width="11" height="5" fill="#443983"/>
<rect x="286" y="202" width="6" height="5" fill="#31678e"/>
<rect x="292" y="202" width="6" height="5" fill="#218f8d"/>
<rect x="298" y="202" width="6" height="5" fill="#26828e"/>
<rect x="304" y="202" width="5" height="5" fill="#31678e"/>
<rect x="309" y="202" width="6" height="5" fill="#26828e"/>
<rect x="315" y="202" width="6" height="5" fill="#218f8d"/>
<rect x="321" y="202" width="6" height="5" fill="#26828e"/>
<rect x="327" y="202" width="5" height="5" fill="#31678e"/>
<rect x="332" y="202" width="6" height="5" fill="#218f8d"/>
<rect x="338" y="202" width="23" height="5" fill="#26828e"/>
<rect x="361" y="202" width="6" height="5" fill="#1e9c89"/>
<rect x="367" y="202" width="6" height="5" fill="#26828e"/>
<rect x="373" y="202" width="17" height="5" fill="#218f8d"/>
<rect x="390" y="202" width="18" height="5" fill="#26828e"/>
<rect x="408" y="202" width="5" height="5" fill="#218f8d"/>
<rect x="413" y="202" width="6" height="5" fill="#26828e"/>
<rect x="419" y="202" width="12" height="5" fill="#218f8d"/>
<rect x="431" y="202" width="6" height="5" fill="#26828e"/>
<rect x="437" y="202" width="5" height="5" fill="#218f8d"/>
<rect x="442" y="202" width="6" height="5" fill="#1e9c89"/>
<rect x="448" y="202" width="12" height="5" fill="#218f8d"/>
<rect x="460" y="202" width="5" height="5" fill="#26828e"/>
<rect x="465" y="202" width="6" height="5" fill="#218f8d"/>
<rect x="471" y="202" width="6" height="5" fill="#4ac16d"/>
<rect x="107" y="207" width="6" height="6" fill="#4ac16d"/>
<rect x="113" y="207" width="6" height="6" fill="#218f8d"/>
<rect x="119" y="207" width="5" height="6" fill="#26828e"/>
<rect x="124" y="207" width="6" height="6" fill="#2b748e"/>
<rect x="130" y="207" width="12" height="6" fill="#218f8d"/>
<rect x="142" y="207" width="17" height="6" fill="#26828e"/>
<rect x="159" y="207" width="12" height="6" fill="#218f8d"/>
<rect x="171" y="207" width="5" height="6" fill="#26828e"/>
<rect x="176" y="207" width="6" height="6" fill="#218f8d"/>
<rect x="182" y="207" width="6" height="6" fill="#2b748e"/>
<rect x="188" y="207" width="17" height="6" fill="#218f8d"/>
<rect x="205" y="207" width="6" height="6" fill="#31678e"/>
<rect x="211" y="207" width="6" height="6" fill="#2b748e"/>
<rect x="217" y="207" width="11" height="6" fill="#218f8d"/>
<rect x="228" y="207" width="6" height="6" fill="#26828e"/>
<rect x="234" y="207" width="6" height="6" fill="#1e9c89"/>
<rect x="240" y="207" width="6" height="6" fill="#3e4989"/>
<rect x="246" y="207" width="6" height="6" fill="#26828e"/>
<rect x="252" y="207" width="5" height="6" fill="#218f8d"/>
<rect x="257" y="207" width="12" height="6" fill="#26828e"/>
<rect x="269" y="207" width="6" height="6" fill="#1e9c89"/>
<rect x="275" y="207" width="5" height="6" fill="#3e4989"/>
<rect x="280" y="207" width="6" height="6" fill="#443983"/>
<rect x="286" y="207" width="6" height="6" fill="#2b748e"/>
<rect x="292" y="207" width="6" height="6" fill="#218f8d"/>
<rect x="298" y="207" width="6" height="6" fill="#26828e"/>
<rect x="304" y="207" width="5" height="6" fill="#2b748e"/>
<rect x="309" y="207" width="12" height="6" fill="#26828e"/>
<rect x="321" y="207" width="6" height="6" fill="#2b748e"/>
<rect x="327" y="207" width="11" height="6" fill="#26828e"/>
<rect x="338" y="207" width="6" height="6" fill="#218f8d"/>
<rect x="344" y="207" width="6" height="6" fill="#2b748e"/>
<rect x="350" y="207" width="17" height="6" fill="#26828e"/>
<rect x="367" y="207" width="6" height="6" fill="#2b748e"/>
<rect x="373" y="207" width="6" height="6" fill="#218f8d"/>
<rect x="379" y="207" width="5" height="6" fill="#26828e"/>
<rect x="384" y="207" width="6" height="6" fill="#1e9c89"/>
<rect x="390" y="207" width="12" height="6" fill="#218f8d"/>
<rect x="402" y="207" width="23" height="6" fill="#26828e"/>
<rect x="425" y="207" width="6" height="6" fill="#218f8d"/>
<rect x="431" y="207" width="11" height="6" fill="#26828e"/>
<rect x="442" y="207" width="6" height="6" fill="#218f8d"/>
<rect x="448" y="207" width="6" height="6" fill="#1e9c89"/>
<rect x="454" y="207" width="17" height="6" fill="#218f8d"/>
<rect x="471" y="207" width="6" height="6" fill="#32b67a"/>
<rect x="107" y="213" width="6" height="6" fill="#23a983"/>
<rect x="113" y="213" width="6" height="6" fill="#26828e"/>
<rect x="119" y="213" width="5" height="6" fill="#218f8d"/>
<rect x="124" y="213" width="18" height="6" fill="#26828e"/>
<rect x="142" y="213" width="5" height="6" fill="#218f8d"/>
<rect x="147" y="213" width="12" height="6" fill="#2b748e"/>
<rect x="159" y="213" width="6" height="6" fill="#26828e"/>
<rect x="165" y="213" width="17" height="6" fill="#218f8d"/>
<rect x="182" y="213" width="6" height="6" fill="#26828e"/>
<rect x="188" y="213" width="6" height="6" fill="#2b748e"/>
<rect x="194" y="213" width="11" height="6" fill="#218f8d"/>
<rect x="205" y="213" width="6" height="6" fill="#440154"/>
<rect x="211" y="213" width="6" height="6" fill="#2b748e"/>
<rect x="217" y="213" width="6" height="6" fill="#218f8d"/>
<rect x="223" y="213" width="5" height="6" fill="#2b748e"/>
<rect x="228" y="213" width="6" height="6" fill="#26828e"/>
<rect x="234" y="213" width="6" height="6" fill="#1e9c89"/>
<rect x="240" y="213" width="6" height="6" fill="#3e4989"/>
<rect x="246" y="213" width="11" height="6" fill="#26828e"/>
<rect x="257" y="213" width="6" height="6" fill="#2b748e"/>
<rect x="263" y="213" width="6" height="6" fill="#26828e"/>
<rect x="269" y="213" width="6" height="6" fill="#1e9c89"/>
<rect x="275" y="213" width="5" height="6" fill="#31678e"/>
<rect x="280" y="213" width="6" height="6" fill="#443983"/>
<rect x="286" y="213" width="6" height="6" fill="#26828e"/>
<rect x="292" y="213" width="6" height="6" fill="#218f8d"/>
<rect x="298" y="213" width="6" height="6" fill="#26828e"/>
<rect x="304" y="213" width="5" height="6" fill="#218f8d"/>
<rect x="309" y="213" width="29" height="6" fill="#26828e"/>
<rect x="338" y="213" width="6" height="6" fill="#218f8d"/>
<rect x="344" y="213" width="6" height="6" fill="#26828e"/>
<rect x="350" y="213" width="6" height="6" fill="#2b748e"/>
<rect x="356" y="213" width="23" height="6" fill="#26828e"/>
<rect x="379" y="213" width="5" height="6" fill="#1e9c89"/>
<rect x="384" y="213" width="12" height="6" fill="#218f8d"/>
<rect x="396" y="213" width="12" height="6" fill="#26828e"/>
<rect x="408" y="213" width="5" height="6" fill="#2b748e"/>
<rect x="413" y="213" width="18" height="6" fill="#26828e"/>
<rect x="431" y="213" width="6" height="6" fill="#218f8d"/>
<rect x="437" y="213" width="5" height="6" fill="#1e9c89"/>
<rect x="442" y="213" width="23" height="6" fill="#440154"/>
<rect x="465" y="213" width="6" height="6" fill="#218f8d"/>
<rect x="471" y="213" width="6" height="6" fill="#32b67a"/>
<rect x="107" y="219" width="6" height="6" fill="#23a983"/>
<rect x="113" y="219" width="6" height="6" fill="#218f8d"/>
<rect x="119" y="219" width="11" height="6" fill="#26828e"/>
<rect x="130" y="219" width="6" height="6" fill="#218f8d"/>
<rect x="136" y="219" width="17" height="6" fill="#26828e"/>
<rect x="153" y="219" width="6" height="6" fill="#218f8d"/>
<rect x="159" y="219" width="6" height="6" fill="#2b748e"/>
<rect x="165" y="219" width="6" height="6" fill="#1e9c89"/>
<rect x="171" y="219" width="11" height="6" fill="#440154"/>
<rect x="182" y="219" width="6" height="6" fill="#26828e"/>
<rect x="188" y="219" width="11" height="6" fill="#218f8d"/>
<rect x="199" y="219" width="6" height="6" fill="#2b748e"/>
<rect x="205" y="219" width="12" height="6" fill="#26828e"/>
<rect x="217" y="219" width="6" height="6" fill="#218f8d"/>
<rect x="223" y="219" width="5" height="6" fill="#2b748e"/>
<rect x="228" y="219" width="6" height="6" fill="#26828e"/>
<rect x="234" y="219" width="6" height="6" fill="#1e9c89"/>
<rect x="240" y="219" width="6" height="6" fill="#31678e"/>
<rect x="246" y="219" width="6" height="6" fill="#440154"/>
<rect x="252" y="219" width="5" height="6" fill="#218f8d"/>
<rect x="257" y="219" width="12" height="6" fill="#26828e"/>
<rect x="269" y="219" width="6" height="6" fill="#1e9c89"/>
<rect x="275" y="219" width="5" height="6" fill="#2b748e"/>
<rect x="280" y="219" width="6" height="6" fill="#3e4989"/>
<rect x="286" y="219" width="6" height="6" fill="#440154"/>
<rect x="292" y="219" width="6" height="6" fill="#218f8d"/>
<rect x="298" y="219" width="11" height="6" fill="#26828e"/>
<rect x="309" y="219" width="6" height="6" fill="#218f8d"/>
<rect x="315" y="219" width="6" height="6" fill="#26828e"/>
<rect x="321" y="219" width="6" height="6" fill="#218f8d"/>
<rect x="327" y="219" width="17" height="6" fill="#26828e"/>
<rect x="344" y="219" width="6" height="6" fill="#218f8d"/>
<rect x="350" y="219" width="6" height="6" fill="#26828e"/>
<rect x="356" y="219" width="5" height="6" fill="#218f8d"/>
<rect x="361" y="219" width="12" height="6" fill="#26828e"/>
<rect x="373" y="219" width="6" height="6" fill="#2b748e"/>
<rect x="379" y="219" width="5" height="6" fill="#26828e"/>
<rect x="384" y="219" width="12" height="6" fill="#218f8d"/>
<rect x="396" y="219" width="6" height="6" fill="#440154"/>
<rect x="402" y="219" width="6" height="6" fill="#218f8d"/>
<rect x="408" y="219" width="29" height="6" fill="#26828e"/>
<rect x="437" y="219" width="17" height="6" fill="#440154"/>
<rect x="454" y="219" width="17" height="6" fill="#218f8d"/>
<rect x="471" y="219" width="6" height="6" fill="#4ac16d"/>
<rect x="107" y="225" width="6" height="5" fill="#4ac16d"/>
<rect x="113" y="225" width="6" height="5" fill="#218f8d"/>
<rect x="119" y="225" width="11" height="5" fill="#26828e"/>
<rect x="130" y="225" width="6" height="5" fill="#218f8d"/>
<rect x="136" y="225" width="6" height="5" fill="#2b748e"/>
<rect x="142" y="225" width="5" height="5" fill="#26828e"/>
<rect x="147" y="225" width="6" height="5" fill="#1e9c89"/>
<rect x="153" y="225" width="12" height="5" fill="#26828e"/>
<rect x="165" y="225" width="6" height="5" fill="#218f8d"/>
<rect x="171" y="225" width="5" height="5" fill="#440154"/>
<rect x="176" y="225" width="6" height="5" fill="#218f8d"/>
<rect x="182" y="225" width="12" height="5" fill="#26828e"/>
<rect x="194" y="225" width="5" height="5" fill="#218f8d"/>
<rect x="199" y="225" width="6" height="5" fill="#3e4989"/>
<rect x="205" y="225" width="12" height="5" fill="#2b748e"/>
<rect x="217" y="225" width="6" height="5" fill="#218f8d"/>
<rect x="223" y="225" width="5" height="5" fill="#26828e"/>
<rect x="228" y="225" width="6" height="5" fill="#218f8d"/>
<rect x="234" y="225" width="6" height="5" fill="#1e9c89"/>
<rect x="240" y="225" width="12" height="5" fill="#440154"/>
<rect x="252" y="225" width="5" height="5" fill="#23a983"/>
<rect x="257" y="225" width="6" height="5" fill="#2b748e"/>
<rect x="263" y="225" width="6" height="5" fill="#26828e"/>
<rect x="269" y="225" width="6" height="5" fill="#1e9c89"/>
<rect x="275" y="225" width="5" height="5" fill="#31678e"/>
<rect x="280" y="225" width="6" height="5" fill="#3e4989"/>
<rect x="286" y="225" width="6" height="5" fill="#31678e"/>
<rect x="292" y="225" width="6" height="5" fill="#218f8d"/>
<rect x="298" y="225" width="11" height="5" fill="#26828e"/>
<rect x="309" y="225" width="12" height="5" fill="#218f8d"/>
<rect x="321" y="225" width="6" height="5" fill="#2b748e"/>
<rect x="327" y="225" width="34" height="5" fill="#26828e"/>
<rect x="361" y="225" width="6" height="5" fill="#1e9c89"/>
<rect x="367" y="225" width="12" height="5" fill="#26828e"/>
<rect x="379" y="225" width="11" height="5" fill="#218f8d"/>
<rect x="390" y="225" width="6" height="5" fill="#26828e"/>
<rect x="396" y="225" width="12" height="5" fill="#218f8d"/>
<rect x="408" y="225" width="5" height="5" fill="#26828e"/>
<rect x="413" y="225" width="6" height="5" fill="#2b748e"/>
<rect x="419" y="225" width="6" height="5" fill="#218f8d"/>
<rect x="425" y="225" width="6" height="5" fill="#2b748e"/>
<rect x="431" y="225" width="6" height="5" fill="#26828e"/>
<rect x="437" y="225" width="5" height="5" fill="#1e9c89"/>
<rect x="442" y="225" width="6" height="5" fill="#440154"/>
<rect x="448" y="225" width="6" height="5" fill="#32b67a"/>
<rect x="454" y="225" width="6" height="5" fill="#440154"/>
<rect x="460" y="225" width="11" height="5" fill="#26828e"/>
<rect x="471" y="225" width="6" height="5" fill="#23a983"/>
<rect x="107" y="230" width="6" height="6" fill="#32b67a"/>
<rect x="113" y="230" width="6" height="6" fill="#218f8d"/>
<rect x="119" y="230" width="5" height="6" fill="#2b748e"/>
<rect x="124" y="230" width="6" height="6" fill="#218f8d"/>
<rect x="130" y="230" width="6" height="6" fill="#26828e"/>
<rect x="136" y="230" width="6" height="6" fill="#218f8d"/>
<rect x="142" y="230" width="5" height="6" fill="#26828e"/>
<rect x="147" y="230" width="12" height="6" fill="#218f8d"/>
<rect x="159" y="230" width="12" height="6" fill="#26828e"/>
<rect x="171" y="230" width="5" height="6" fill="#218f8d"/>
<rect x="176" y="230" width="12" height="6" fill="#26828e"/>
<rect x="188" y="230" width="11" height="6" fill="#218f8d"/>
<rect x="199" y="230" width="12" height="6" fill="#3e4989"/>
<rect x="211" y="230" width="12" height="6" fill="#218f8d"/>
<rect x="223" y="230" width="5" height="6" fill="#26828e"/>
<rect x="228" y="230" width="6" height="6" fill="#218f8d"/>
<rect x="234" y="230" width="6" height="6" fill="#1e9c89"/>
<rect x="240" y="230" width="17" height="6" fill="#440154"/>
<rect x="257" y="230" width="12" height="6" fill="#26828e"/>
<rect x="269" y="230" width="6" height="6" fill="#218f8d"/>
<rect x="275" y="230" width="11" height="6" fill="#3e4989"/>
<rect x="286" y="230" width="6" height="6" fill="#1e9c89"/>
<rect x="292" y="230" width="6" height="6" fill="#218f8d"/>
<rect x="298" y="230" width="11" height="6" fill="#26828e"/>
<rect x="309" y="230" width="6" height="6" fill="#218f8d"/>
<rect x="315" y="230" width="17" height="6" fill="#26828e"/>
<rect x="332" y="230" width="12" height="6" fill="#218f8d"/>
<rect x="344" y="230" width="12" height="6" fill="#2b748e"/>
<rect x="356" y="230" width="5" height="6" fill="#218f8d"/>
<rect x="361" y="230" width="6" height="6" fill="#26828e"/>
<rect x="367" y="230" width="6" height="6" fill="#218f8d"/>
<rect x="373" y="230" width="6" height="6" fill="#26828e"/>
<rect x="379" y="230" width="17" height="6" fill="#218f8d"/>
<rect x="396" y="230" width="23" height="6" fill="#26828e"/>
<rect x="419" y="230" width="6" height="6" fill="#218f8d"/>
<rect x="425" y="230" width="6" height="6" fill="#26828e"/>
<rect x="431" y="230" width="6" height="6" fill="#218f8d"/>
<rect x="437" y="230" width="5" height="6" fill="#1e9c89"/>
<rect x="442" y="230" width="18" height="6" fill="#440154"/>
<rect x="460" y="230" width="5" height="6" fill="#1e9c89"/>
<rect x="465" y="230" width="12" height="6" fill="#4ac16d"/>
<rect x="107" y="236" width="6" height="6" fill="#4ac16d"/>
<rect x="113" y="236" width="6" height="6" fill="#218f8d"/>
<rect x="119" y="236" width="5" height="6" fill="#26828e"/>
<rect x="124" y="236" width="12" height="6" fill="#218f8d"/>
<rect x="136" y="236" width="6" height="6" fill="#26828e"/>
<rect x="142" y="236" width="5" height="6" fill="#218f8d"/>
<rect x="147" y="236" width="6" height="6" fill="#2b748e"/>
<rect x="153" y="236" width="6" height="6" fill="#440154"/>
<rect x="159" y="236" width="6" height="6" fill="#218f8d"/>
<rect x="165" y="236" width="6" height="6" fill="#1e9c89"/>
<rect x="171" y="236" width="5" height="6" fill="#26828e"/>
<rect x="176" y="236" width="18" height="6" fill="#218f8d"/>
<rect x="194" y="236" width="11" height="6" fill="#1e9c89"/>
<rect x="205" y="236" width="6" height="6" fill="#26828e"/>
<rect x="211" y="236" width="6" height="6" fill="#23a983"/>
<rect x="217" y="236" width="29" height="6" fill="#440154"/>
<rect x="246" y="236" width="6" height="6" fill="#218f8d"/>
<rect x="252" y="236" width="5" height="6" fill="#23a983"/>
<rect x="257" y="236" width="18" height="6" fill="#440154"/>
<rect x="275" y="236" width="5" height="6" fill="#1e9c89"/>
<rect x="280" y="236" width="12" height="6" fill="#26828e"/>
<rect x="292" y="236" width="6" height="6" fill="#440154"/>
<rect x="298" y="236" width="6" height="6" fill="#1e9c89"/>
<rect x="304" y="236" width="11" height="6" fill="#218f8d"/>
<rect x="315" y="236" width="12" height="6" fill="#1e9c89"/>
<rect x="327" y="236" width="17" height="6" fill="#218f8d"/>
<rect x="344" y="236" width="6" height="6" fill="#1e9c89"/>
<rect x="350" y="236" width="17" height="6" fill="#218f8d"/>
<rect x="367" y="236" width="6" height="6" fill="#1e9c89"/>
<rect x="373" y="236" width="11" height="6" fill="#218f8d"/>
<rect x="384" y="236" width="6" height="6" fill="#440154"/>
<rect x="390" y="236" width="6" height="6" fill="#23a983"/>
<rect x="396" y="236" width="17" height="6" fill="#218f8d"/>
<rect x="413" y="236" width="12" height="6" fill="#1e9c89"/>
<rect x="425" y="236" width="6" height="6" fill="#218f8d"/>
<rect x="431" y="236" width="6" height="6" fill="#1e9c89"/>
<rect x="437" y="236" width="5" height="6" fill="#32b67a"/>
<rect x="442" y="236" width="12" height="6" fill="#440154"/>
<rect x="454" y="236" width="6" height="6" fill="#32b67a"/>
<rect x="460" y="236" width="17" height="6" fill="#440154"/>
<rect x="107" y="242" width="12" height="6" fill="#23a983"/>
<rect x="119" y="242" width="5" height="6" fill="#26828e"/>
<rect x="124" y="242" width="6" height="6" fill="#218f8d"/>
<rect x="130" y="242" width="6" height="6" fill="#26828e"/>
<rect x="136" y="242" width="6" height="6" fill="#218f8d"/>
<rect x="142" y="242" width="23" height="6" fill="#26828e"/>
<rect x="165" y="242" width="6" height="6" fill="#218f8d"/>
<rect x="171" y="242" width="17" height="6" fill="#26828e"/>
<rect x="188" y="242" width="6" height="6" fill="#218f8d"/>
<rect x="194" y="242" width="11" height="6" fill="#26828e"/>
<rect x="205" y="242" width="6" height="6" fill="#1e9c89"/>
<rect x="211" y="242" width="23" height="6" fill="#218f8d"/>
<rect x="234" y="242" width="18" height="6" fill="#26828e"/>
<rect x="252" y="242" width="5" height="6" fill="#1e9c89"/>
<rect x="257" y="242" width="6" height="6" fill="#26828e"/>
<rect x="263" y="242" width="6" height="6" fill="#31678e"/>
<rect x="269" y="242" width="6" height="6" fill="#2b748e"/>
<rect x="275" y="242" width="5" height="6" fill="#218f8d"/>
<rect x="280" y="242" width="6" height="6" fill="#1e9c89"/>
<rect x="286" y="242" width="6" height="6" fill="#218f8d"/>
<rect x="292" y="242" width="6" height="6" fill="#440154"/>
<rect x="298" y="242" width="6" height="6" fill="#218f8d"/>
<rect x="304" y="242" width="11" height="6" fill="#440154"/>
<rect x="315" y="242" width="6" height="6" fill="#218f8d"/>
<rect x="321" y="242" width="11" height="6" fill="#440154"/>
<rect x="332" y="242" width="6" height="6" fill="#218f8d"/>
<rect x="338" y="242" width="12" height="6" fill="#440154"/>
<rect x="350" y="242" width="6" height="6" fill="#26828e"/>
<rect x="356" y="242" width="5" height="6" fill="#440154"/>
<rect x="361" y="242" width="6" height="6" fill="#218f8d"/>
<rect x="367" y="242" width="23" height="6" fill="#440154"/>
<rect x="390" y="242" width="6" height="6" fill="#218f8d"/>
<rect x="396" y="242" width="12" height="6" fill="#440154"/>
<rect x="408" y="242" width="5" height="6" fill="#32b67a"/>
<rect x="413" y="242" width="6" height="6" fill="#440154"/>
<rect x="419" y="242" width="6" height="6" fill="#89d548"/>
<rect x="425" y="242" width="12" height="6" fill="#1e9c89"/>
<rect x="437" y="242" width="5" height="6" fill="#440154"/>
<rect x="442" y="242" width="6" height="6" fill="#26828e"/>
<rect x="448" y="242" width="17" height="6" fill="#443983"/>
<rect x="465" y="242" width="12" height="6" fill="#3e4989"/>
<rect x="107" y="248" width="6" height="6" fill="#218f8d"/>
<rect x="113" y="248" width="11" height="6" fill="#26828e"/>
<rect x="124" y="248" width="6" height="6" fill="#218f8d"/>
<rect x="130" y="248" width="17" height="6" fill="#26828e"/>
<rect x="147" y="248" width="6" height="6" fill="#2b748e"/>
<rect x="153" y="248" width="18" height="6" fill="#26828e"/>
<rect x="171" y="248" width="5" height="6" fill="#2b748e"/>
<rect x="176" y="248" width="12" height="6" fill="#26828e"/>
<rect x="188" y="248" width="6" height="6" fill="#31678e"/>
<rect x="194" y="248" width="5" height="6" fill="#218f8d"/>
<rect x="199" y="248" width="6" height="6" fill="#26828e"/>
<rect x="205" y="248" width="6" height="6" fill="#218f8d"/>
<rect x="211" y="248" width="6" height="6" fill="#26828e"/>
<rect x="217" y="248" width="6" height="6" fill="#218f8d"/>
<rect x="223" y="248" width="5" height="6" fill="#440154"/>
<rect x="228" y="248" width="6" height="6" fill="#1e9c89"/>
<rect x="234" y="248" width="23" height="6" fill="#218f8d"/>
<rect x="257" y="248" width="6" height="6" fill="#26828e"/>
<rect x="263" y="248" width="6" height="6" fill="#3e4989"/>
<rect x="269" y="248" width="6" height="6" fill="#23a983"/>
<rect x="275" y="248" width="5" height="6" fill="#218f8d"/>
<rect x="280" y="248" width="6" height="6" fill="#2b748e"/>
<rect x="286" y="248" width="6" height="6" fill="#218f8d"/>
<rect x="292" y="248" width="6" height="6" fill="#2b748e"/>
<rect x="298" y="248" width="6" height="6" fill="#31678e"/>
<rect x="304" y="248" width="5" height="6" fill="#440154"/>
<rect x="309" y="248" width="6" height="6" fill="#89d548"/>
<rect x="315" y="248" width="6" height="6" fill="#addc30"/>
<rect x="321" y="248" width="11" height="6" fill="#440154"/>
<rect x="332" y="248" width="6" height="6" fill="#1e9c89"/>
<rect x="338" y="248" width="12" height="6" fill="#2b748e"/>
<rect x="350" y="248" width="6" height="6" fill="#443983"/>
<rect x="356" y="248" width="11" height="6" fill="#31678e"/>
<rect x="367" y="248" width="12" height="6" fill="#2b748e"/>
<rect x="379" y="248" width="5" height="6" fill="#26828e"/>
<rect x="384" y="248" width="18" height="6" fill="#440154"/>
<rect x="402" y="248" width="6" height="6" fill="#31678e"/>
<rect x="408" y="248" width="40" height="6" fill="#440154"/>
<rect x="448" y="248" width="6" height="6" fill="#26828e"/>
<rect x="454" y="248" width="11" height="6" fill="#443983"/>
<rect x="465" y="248" width="6" height="6" fill="#3e4989"/>
<rect x="471" y="248" width="6" height="6" fill="#38598c"/>
<rect x="107" y="254" width="12" height="5" fill="#218f8d"/>
<rect x="119" y="254" width="5" height="5" fill="#440154"/>
<rect x="124" y="254" width="6" height="5" fill="#1e9c89"/>
<rect x="130" y="254" width="6" height="5" fill="#218f8d"/>
<rect x="136" y="254" width="6" height="5" fill="#440154"/>
<rect x="142" y="254" width="17" height="5" fill="#26828e"/>
<rect x="159" y="254" width="12" height="5" fill="#2b748e"/>
<rect x="171" y="254" width="5" height="5" fill="#26828e"/>
<rect x="176" y="254" width="12" height="5" fill="#2b748e"/>
<rect x="188" y="254" width="11" height="5" fill="#26828e"/>
<rect x="199" y="254" width="6" height="5" fill="#218f8d"/>
<rect x="205" y="254" width="6" height="5" fill="#26828e"/>
<rect x="211" y="254" width="6" height="5" fill="#218f8d"/>
<rect x="217" y="254" width="6" height="5" fill="#1e9c89"/>
<rect x="223" y="254" width="11" height="5" fill="#440154"/>
<rect x="234" y="254" width="6" height="5" fill="#26828e"/>
<rect x="240" y="254" width="6" height="5" fill="#2b748e"/>
<rect x="246" y="254" width="6" height="5" fill="#218f8d"/>
<rect x="252" y="254" width="11" height="5" fill="#26828e"/>
<rect x="263" y="254" width="6" height="5" fill="#31678e"/>
<rect x="269" y="254" width="23" height="5" fill="#218f8d"/>
<rect x="292" y="254" width="6" height="5" fill="#3e4989"/>
<rect x="298" y="254" width="40" height="5" fill="#440154"/>
<rect x="338" y="254" width="6" height="5" fill="#26828e"/>
<rect x="344" y="254" width="6" height="5" fill="#2b748e"/>
<rect x="350" y="254" width="11" height="5" fill="#443983"/>
<rect x="361" y="254" width="18" height="5" fill="#3e4989"/>
<rect x="379" y="254" width="5" height="5" fill="#440154"/>
<rect x="384" y="254" width="6" height="5" fill="#23a983"/>
<rect x="390" y="254" width="6" height="5" fill="#218f8d"/>
<rect x="396" y="254" width="6" height="5" fill="#443983"/>
<rect x="402" y="254" width="6" height="5" fill="#f6e620"/>
<rect x="408" y="254" width="17" height="5" fill="#440154"/>
<rect x="425" y="254" width="6" height="5" fill="#23a983"/>
<rect x="431" y="254" width="6" height="5" fill="#1e9c89"/>
<rect x="437" y="254" width="5" height="5" fill="#440154"/>
<rect x="442" y="254" width="6" height="5" fill="#218f8d"/>
<rect x="448" y="254" width="6" height="5" fill="#23a983"/>
<rect x="454" y="254" width="6" height="5" fill="#f6e620"/>
<rect x="460" y="254" width="11" height="5" fill="#3e4989"/>
<rect x="471" y="254" width="6" height="5" fill="#38598c"/>
<rect x="107" y="259" width="6" height="6" fill="#32b67a"/>
<rect x="113" y="259" width="6" height="6" fill="#26828e"/>
<rect x="119" y="259" width="5" height="6" fill="#2b748e"/>
<rect x="124" y="259" width="12" height="6" fill="#440154"/>
<rect x="136" y="259" width="6" height="6" fill="#26828e"/>
<rect x="142" y="259" width="5" height="6" fill="#218f8d"/>
<rect x="147" y="259" width="6" height="6" fill="#31678e"/>
<rect x="153" y="259" width="12" height="6" fill="#26828e"/>
<rect x="165" y="259" width="6" height="6" fill="#218f8d"/>
<rect x="171" y="259" width="11" height="6" fill="#26828e"/>
<rect x="182" y="259" width="6" height="6" fill="#440154"/>
<rect x="188" y="259" width="17" height="6" fill="#218f8d"/>
<rect x="205" y="259" width="12" height="6" fill="#26828e"/>
<rect x="217" y="259" width="6" height="6" fill="#440154"/>
<rect x="223" y="259" width="5" height="6" fill="#218f8d"/>
<rect x="228" y="259" width="6" height="6" fill="#440154"/>
<rect x="234" y="259" width="6" height="6" fill="#218f8d"/>
<rect x="240" y="259" width="12" height="6" fill="#26828e"/>
<rect x="252" y="259" width="5" height="6" fill="#218f8d"/>
<rect x="257" y="259" width="12" height="6" fill="#2b748e"/>
<rect x="269" y="259" width="6" height="6" fill="#26828e"/>
<rect x="275" y="259" width="5" height="6" fill="#440154"/>
<rect x="280" y="259" width="12" height="6" fill="#218f8d"/>
<rect x="292" y="259" width="6" height="6" fill="#440154"/>
<rect x="298" y="259" width="6" height="6" fill="#2b748e"/>
<rect x="304" y="259" width="28" height="6" fill="#440154"/>
<rect x="332" y="259" width="6" height="6" fill="#32b67a"/>
<rect x="338" y="259" width="6" height="6" fill="#26828e"/>
<rect x="344" y="259" width="12" height="6" fill="#218f8d"/>
<rect x="356" y="259" width="5" height="6" fill="#31678e"/>
<rect x="361" y="259" width="6" height="6" fill="#3e4989"/>
<rect x="367" y="259" width="6" height="6" fill="#440154"/>
<rect x="373" y="259" width="6" height="6" fill="#31678e"/>
<rect x="379" y="259" width="5" height="6" fill="#440154"/>
<rect x="384" y="259" width="6" height="6" fill="#218f8d"/>
<rect x="390" y="259" width="6" height="6" fill="#32b67a"/>
<rect x="396" y="259" width="23" height="6" fill="#440154"/>
<rect x="419" y="259" width="6" height="6" fill="#3e4989"/>
<rect x="425" y="259" width="6" height="6" fill="#32b67a"/>
<rect x="431" y="259" width="11" height="6" fill="#26828e"/>
<rect x="442" y="259" width="6" height="6" fill="#218f8d"/>
<rect x="448" y="259" width="6" height="6" fill="#26828e"/>
<rect x="454" y="259" width="6" height="6" fill="#1e9c89"/>
<rect x="460" y="259" width="5" height="6" fill="#440154"/>
<rect x="465" y="259" width="6" height="6" fill="#3e4989"/>
<rect x="471" y="259" width="6" height="6" fill="#38598c"/>
<rect x="107" y="265" width="6" height="6" fill="#23a983"/>
<rect x="113" y="265" width="6" height="6" fill="#26828e"/>
<rect x="119" y="265" width="11" height="6" fill="#440154"/>
<rect x="130" y="265" width="6" height="6" fill="#1e9c89"/>
<rect x="136" y="265" width="11" height="6" fill="#26828e"/>
<rect x="147" y="265" width="6" height="6" fill="#2b748e"/>
<rect x="153" y="265" width="12" height="6" fill="#26828e"/>
<rect x="165" y="265" width="6" height="6" fill="#2b748e"/>
<rect x="171" y="265" width="5" height="6" fill="#26828e"/>
<rect x="176" y="265" width="6" height="6" fill="#218f8d"/>
<rect x="182" y="265" width="52" height="6" fill="#26828e"/>
<rect x="234" y="265" width="6" height="6" fill="#2b748e"/>
<rect x="240" y="265" width="6" height="6" fill="#218f8d"/>
<rect x="246" y="265" width="6" height="6" fill="#26828e"/>
<rect x="252" y="265" width="5" height="6" fill="#2b748e"/>
<rect x="257" y="265" width="12" height="6" fill="#26828e"/>
<rect x="269" y="265" width="11" height="6" fill="#2b748e"/>
<rect x="280" y="265" width="6" height="6" fill="#26828e"/>
<rect x="286" y="265" width="6" height="6" fill="#218f8d"/>
<rect x="292" y="265" width="6" height="6" fill="#440154"/>
<rect x="298" y="265" width="6" height="6" fill="#31678e"/>
<rect x="304" y="265" width="28" height="6" fill="#440154"/>
<rect x="332" y="265" width="6" height="6" fill="#218f8d"/>
<rect x="338" y="265" width="6" height="6" fill="#2b748e"/>
<rect x="344" y="265" width="12" height="6" fill="#26828e"/>
<rect x="356" y="265" width="5" height="6" fill="#23a983"/>
<rect x="361" y="265" width="6" height="6" fill="#3e4989"/>
<rect x="367" y="265" width="12" height="6" fill="#443983"/>
<rect x="379" y="265" width="5" height="6" fill="#26828e"/>
<rect x="384" y="265" width="6" height="6" fill="#1e9c89"/>
<rect x="390" y="265" width="6" height="6" fill="#218f8d"/>
<rect x="396" y="265" width="6" height="6" fill="#3e4989"/>
<rect x="402" y="265" width="29" height="6" fill="#440154"/>
<rect x="431" y="265" width="6" height="6" fill="#218f8d"/>
<rect x="437" y="265" width="23" height="6" fill="#26828e"/>
<rect x="460" y="265" width="5" height="6" fill="#23a983"/>
<rect x="465" y="265" width="6" height="6" fill="#443983"/>
<rect x="471" y="265" width="6" height="6" fill="#3e4989"/>
<rect x="107" y="271" width="12" height="6" fill="#218f8d"/>
<rect x="119" y="271" width="23" height="6" fill="#26828e"/>
<rect x="142" y="271" width="5" height="6" fill="#2b748e"/>
<rect x="147" y="271" width="12" height="6" fill="#26828e"/>
<rect x="159" y="271" width="6" height="6" fill="#31678e"/>
<rect x="165" y="271" width="6" height="6" fill="#218f8d"/>
<rect x="171" y="271" width="46" height="6" fill="#26828e"/>
<rect x="217" y="271" width="6" height="6" fill="#218f8d"/>
<rect x="223" y="271" width="5" height="6" fill="#26828e"/>
<rect x="228" y="271" width="6" height="6" fill="#218f8d"/>
<rect x="234" y="271" width="6" height="6" fill="#26828e"/>
<rect x="240" y="271" width="6" height="6" fill="#2b748e"/>
<rect x="246" y="271" width="6" height="6" fill="#26828e"/>
<rect x="252" y="271" width="11" height="6" fill="#218f8d"/>
<rect x="263" y="271" width="12" height="6" fill="#26828e"/>
<rect x="275" y="271" width="5" height="6" fill="#2b748e"/>
<rect x="280" y="271" width="6" height="6" fill="#26828e"/>
<rect x="286" y="271" width="6" height="6" fill="#218f8d"/>
<rect x="292" y="271" width="6" height="6" fill="#440154"/>
<rect x="298" y="271" width="11" height="6" fill="#31678e"/>
<rect x="309" y="271" width="23" height="6" fill="#440154"/>
<rect x="332" y="271" width="24" height="6" fill="#26828e"/>
<rect x="356" y="271" width="5" height="6" fill="#218f8d"/>
<rect x="361" y="271" width="6" height="6" fill="#26828e"/>
<rect x="367" y="271" width="12" height="6" fill="#443983"/>
<rect x="379" y="271" width="5" height="6" fill="#31678e"/>
<rect x="384" y="271" width="6" height="6" fill="#26828e"/>
<rect x="390" y="271" width="6" height="6" fill="#218f8d"/>
<rect x="396" y="271" width="6" height="6" fill="#4ac16d"/>
<rect x="402" y="271" width="6" height="6" fill="#443983"/>
<rect x="408" y="271" width="5" height="6" fill="#f6e620"/>
<rect x="413" y="271" width="6" height="6" fill="#440154"/>
<rect x="419" y="271" width="6" height="6" fill="#4ac16d"/>
<rect x="425" y="271" width="12" height="6" fill="#218f8d"/>
<rect x="437" y="271" width="5" height="6" fill="#2b748e"/>
<rect x="442" y="271" width="12" height="6" fill="#26828e"/>
<rect x="454" y="271" width="6" height="6" fill="#218f8d"/>
<rect x="460" y="271" width="5" height="6" fill="#4ac16d"/>
<rect x="465" y="271" width="12" height="6" fill="#443983"/>
<rect x="107" y="277" width="6" height="5" fill="#1e9c89"/>
<rect x="113" y="277" width="23" height="5" fill="#26828e"/>
<rect x="136" y="277" width="6" height="5" fill="#2b748e"/>
<rect x="142" y="277" width="5" height="5" fill="#218f8d"/>
<rect x="147" y="277" width="6" height="5" fill="#2b748e"/>
<rect x="153" y="277" width="35" height="5" fill="#26828e"/>
<rect x="188" y="277" width="6" height="5" fill="#2b748e"/>
<rect x="194" y="277" width="5" height="5" fill="#1e9c89"/>
<rect x="199" y="277" width="12" height="5" fill="#218f8d"/>
<rect x="211" y="277" width="6" height="5" fill="#26828e"/>
<rect x="217" y="277" width="11" height="5" fill="#2b748e"/>
<rect x="228" y="277" width="12" height="5" fill="#26828e"/>
<rect x="240" y="277" width="6" height="5" fill="#218f8d"/>
<rect x="246" y="277" width="6" height="5" fill="#26828e"/>
<rect x="252" y="277" width="5" height="5" fill="#218f8d"/>
<rect x="257" y="277" width="6" height="5" fill="#26828e"/>
<rect x="263" y="277" width="6" height="5" fill="#218f8d"/>
<rect x="269" y="277" width="6" height="5" fill="#26828e"/>
<rect x="275" y="277" width="5" height="5" fill="#2b748e"/>
<rect x="280" y="277" width="6" height="5" fill="#26828e"/>
<rect x="286" y="277" width="6" height="5" fill="#1e9c89"/>
<rect x="292" y="277" width="6" height="5" fill="#26828e"/>
<rect x="298" y="277" width="11" height="5" fill="#31678e"/>
<rect x="309" y="277" width="23" height="5" fill="#26828e"/>
<rect x="332" y="277" width="12" height="5" fill="#2b748e"/>
<rect x="344" y="277" width="12" height="5" fill="#26828e"/>
<rect x="356" y="277" width="5" height="5" fill="#2b748e"/>
<rect x="361" y="277" width="6" height="5" fill="#23a983"/>
<rect x="367" y="277" width="17" height="5" fill="#443983"/>
<rect x="384" y="277" width="6" height="5" fill="#218f8d"/>
<rect x="390" y="277" width="12" height="5" fill="#440154"/>
<rect x="402" y="277" width="6" height="5" fill="#1e9c89"/>
<rect x="408" y="277" width="23" height="5" fill="#26828e"/>
<rect x="431" y="277" width="6" height="5" fill="#2b748e"/>
<rect x="437" y="277" width="17" height="5" fill="#26828e"/>
<rect x="454" y="277" width="6" height="5" fill="#1e9c89"/>
<rect x="460" y="277" width="5" height="5" fill="#addc30"/>
<rect x="465" y="277" width="6" height="5" fill="#443983"/>
<rect x="471" y="277" width="6" height="5" fill="#3e4989"/>
<rect x="107" y="282" width="6" height="6" fill="#1e9c89"/>
<rect x="113" y="282" width="6" height="6" fill="#26828e"/>
<rect x="119" y="282" width="11" height="6" fill="#2b748e"/>
<rect x="130" y="282" width="6" height="6" fill="#26828e"/>
<rect x="136" y="282" width="6" height="6" fill="#2b748e"/>
<rect x="142" y="282" width="5" height="6" fill="#218f8d"/>
<rect x="147" y="282" width="6" height="6" fill="#2b748e"/>
<rect x="153" y="282" width="23" height="6" fill="#26828e"/>
<rect x="176" y="282" width="6" height="6" fill="#2b748e"/>
<rect x="182" y="282" width="12" height="6" fill="#26828e"/>
<rect x="194" y="282" width="5" height="6" fill="#218f8d"/>
<rect x="199" y="282" width="12" height="6" fill="#26828e"/>
<rect x="211" y="282" width="12" height="6" fill="#2b748e"/>
<rect x="223" y="282" width="17" height="6" fill="#26828e"/>
<rect x="240" y="282" width="6" height="6" fill="#440154"/>
<rect x="246" y="282" width="6" height="6" fill="#26828e"/>
<rect x="252" y="282" width="5" height="6" fill="#2b748e"/>
<rect x="257" y="282" width="6" height="6" fill="#26828e"/>
<rect x="263" y="282" width="6" height="6" fill="#2b748e"/>
<rect x="269" y="282" width="6" height="6" fill="#26828e"/>
<rect x="275" y="282" width="5" height="6" fill="#2b748e"/>
<rect x="280" y="282" width="6" height="6" fill="#26828e"/>
<rect x="286" y="282" width="6" height="6" fill="#1e9c89"/>
<rect x="292" y="282" width="6" height="6" fill="#3e4989"/>
<rect x="298" y="282" width="6" height="6" fill="#31678e"/>
<rect x="304" y="282" width="5" height="6" fill="#3e4989"/>
<rect x="309" y="282" width="6" height="6" fill="#2b748e"/>
<rect x="315" y="282" width="12" height="6" fill="#26828e"/>
<rect x="327" y="282" width="11" height="6" fill="#2b748e"/>
<rect x="338" y="282" width="6" height="6" fill="#31678e"/>
<rect x="344" y="282" width="12" height="6" fill="#26828e"/>
<rect x="356" y="282" width="5" height="6" fill="#218f8d"/>
<rect x="361" y="282" width="6" height="6" fill="#440154"/>
<rect x="367" y="282" width="6" height="6" fill="#31678e"/>
<rect x="373" y="282" width="6" height="6" fill="#443983"/>
<rect x="379" y="282" width="5" height="6" fill="#23a983"/>
<rect x="384" y="282" width="6" height="6" fill="#26828e"/>
<rect x="390" y="282" width="6" height="6" fill="#218f8d"/>
<rect x="396" y="282" width="52" height="6" fill="#26828e"/>
<rect x="448" y="282" width="6" height="6" fill="#2b748e"/>
<rect x="454" y="282" width="6" height="6" fill="#1e9c89"/>
<rect x="460" y="282" width="5" height="6" fill="#89d548"/>
<rect x="465" y="282" width="6" height="6" fill="#443983"/>
<rect x="471" y="282" width="6" height="6" fill="#3e4989"/>
<rect x="107" y="288" width="6" height="6" fill="#32b67a"/>
<rect x="113" y="288" width="6" height="6" fill="#218f8d"/>
<rect x="119" y="288" width="11" height="6" fill="#2b748e"/>
<rect x="130" y="288" width="12" height="6" fill="#26828e"/>
<rect x="142" y="288" width="29" height="6" fill="#2b748e"/>
<rect x="171" y="288" width="5" height="6" fill="#26828e"/>
<rect x="176" y="288" width="18" height="6" fill="#2b748e"/>
<rect x="194" y="288" width="11" height="6" fill="#26828e"/>
<rect x="205" y="288" width="6" height="6" fill="#2b748e"/>
<rect x="211" y="288" width="6" height="6" fill="#26828e"/>
<rect x="217" y="288" width="6" height="6" fill="#2b748e"/>
<rect x="223" y="288" width="5" height="6" fill="#26828e"/>
<rect x="228" y="288" width="6" height="6" fill="#2b748e"/>
<rect x="234" y="288" width="6" height="6" fill="#26828e"/>
<rect x="240" y="288" width="6" height="6" fill="#218f8d"/>
<rect x="246" y="288" width="17" height="6" fill="#2b748e"/>
<rect x="263" y="288" width="6" height="6" fill="#26828e"/>
<rect x="269" y="288" width="6" height="6" fill="#2b748e"/>
<rect x="275" y="288" width="5" height="6" fill="#26828e"/>
<rect x="280" y="288" width="6" height="6" fill="#2b748e"/>
<rect x="286" y="288" width="6" height="6" fill="#218f8d"/>
<rect x="292" y="288" width="6" height="6" fill="#26828e"/>
<rect x="298" y="288" width="11" height="6" fill="#3e4989"/>
<rect x="309" y="288" width="6" height="6" fill="#26828e"/>
<rect x="315" y="288" width="6" height="6" fill="#218f8d"/>
<rect x="321" y="288" width="17" height="6" fill="#2b748e"/>
<rect x="338" y="288" width="6" height="6" fill="#443983"/>
<rect x="344" y="288" width="6" height="6" fill="#26828e"/>
<rect x="350" y="288" width="6" height="6" fill="#2b748e"/>
<rect x="356" y="288" width="17" height="6" fill="#26828e"/>
<rect x="373" y="288" width="6" height="6" fill="#3e4989"/>
<rect x="379" y="288" width="5" height="6" fill="#2b748e"/>
<rect x="384" y="288" width="6" height="6" fill="#23a983"/>
<rect x="390" y="288" width="18" height="6" fill="#26828e"/>
<rect x="408" y="288" width="11" height="6" fill="#218f8d"/>
<rect x="419" y="288" width="6" height="6" fill="#26828e"/>
<rect x="425" y="288" width="6" height="6" fill="#218f8d"/>
<rect x="431" y="288" width="6" height="6" fill="#26828e"/>
<rect x="437" y="288" width="11" height="6" fill="#2b748e"/>
<rect x="448" y="288" width="6" height="6" fill="#26828e"/>
<rect x="454" y="288" width="6" height="6" fill="#218f8d"/>
<rect x="460" y="288" width="5" height="6" fill="#32b67a"/>
<rect x="465" y="288" width="6" height="6" fill="#3e4989"/>
<rect x="471" y="288" width="6" height="6" fill="#443983"/>
<rect x="107" y="294" width="6" height="6" fill="#440154"/>
<rect x="113" y="294" width="6" height="6" fill="#26828e"/>
<rect x="119" y="294" width="5" height="6" fill="#218f8d"/>
<rect x="124" y="294" width="6" height="6" fill="#2b748e"/>
<rect x="130" y="294" width="17" height="6" fill="#218f8d"/>
<rect x="147" y="294" width="6" height="6" fill="#2b748e"/>
<rect x="153" y="294" width="6" height="6" fill="#26828e"/>
<rect x="159" y="294" width="6" height="6" fill="#2b748e"/>
<rect x="165" y="294" width="11" height="6" fill="#26828e"/>
<rect x="176" y="294" width="6" height="6" fill="#2b748e"/>
<rect x="182" y="294" width="12" height="6" fill="#1e9c89"/>
<rect x="194" y="294" width="17" height="6" fill="#26828e"/>
<rect x="211" y="294" width="6" height="6" fill="#2b748e"/>
<rect x="217" y="294" width="29" height="6" fill="#26828e"/>
<rect x="246" y="294" width="6" height="6" fill="#218f8d"/>
<rect x="252" y="294" width="5" height="6" fill="#2b748e"/>
<rect x="257" y="294" width="6" height="6" fill="#26828e"/>
<rect x="263" y="294" width="6" height="6" fill="#31678e"/>
<rect x="269" y="294" width="6" height="6" fill="#26828e"/>
<rect x="275" y="294" width="5" height="6" fill="#2b748e"/>
<rect x="280" y="294" width="6" height="6" fill="#26828e"/>
<rect x="286" y="294" width="6" height="6" fill="#1e9c89"/>
<rect x="292" y="294" width="6" height="6" fill="#440154"/>
<rect x="298" y="294" width="6" height="6" fill="#31678e"/>
<rect x="304" y="294" width="5" height="6" fill="#3e4989"/>
<rect x="309" y="294" width="6" height="6" fill="#2b748e"/>
<rect x="315" y="294" width="6" height="6" fill="#218f8d"/>
<rect x="321" y="294" width="29" height="6" fill="#26828e"/>
<rect x="350" y="294" width="6" height="6" fill="#218f8d"/>
<rect x="356" y="294" width="11" height="6" fill="#26828e"/>
<rect x="367" y="294" width="6" height="6" fill="#2b748e"/>
<rect x="373" y="294" width="6" height="6" fill="#26828e"/>
<rect x="379" y="294" width="17" height="6" fill="#218f8d"/>
<rect x="396" y="294" width="17" height="6" fill="#26828e"/>
<rect x="413" y="294" width="6" height="6" fill="#218f8d"/>
<rect x="419" y="294" width="18" height="6" fill="#26828e"/>
<rect x="437" y="294" width="5" height="6" fill="#218f8d"/>
<rect x="442" y="294" width="6" height="6" fill="#2b748e"/>
<rect x="448" y="294" width="6" height="6" fill="#26828e"/>
<rect x="454" y="294" width="6" height="6" fill="#218f8d"/>
<rect x="460" y="294" width="5" height="6" fill="#23a983"/>
<rect x="465" y="294" width="6" height="6" fill="#1e9c89"/>
<rect x="471" y="294" width="6" height="6" fill="#31678e"/>
<rect x="107" y="300" width="6" height="6" fill="#440154"/>
<rect x="113" y="300" width="6" height="6" fill="#1e9c89"/>
<rect x="119" y="300" width="23" height="6" fill="#26828e"/>
<rect x="142" y="300" width="5" height="6" fill="#218f8d"/>
<rect x="147" y="300" width="6" height="6" fill="#26828e"/>
<rect x="153" y="300" width="6" height="6" fill="#2b748e"/>
<rect x="159" y="300" width="6" height="6" fill="#26828e"/>
<rect x="165" y="300" width="11" height="6" fill="#218f8d"/>
<rect x="176" y="300" width="23" height="6" fill="#26828e"/>
<rect x="199" y="300" width="6" height="6" fill="#218f8d"/>
<rect x="205" y="300" width="18" height="6" fill="#26828e"/>
<rect x="223" y="300" width="5" height="6" fill="#2b748e"/>
<rect x="228" y="300" width="12" height="6" fill="#26828e"/>
<rect x="240" y="300" width="6" height="6" fill="#2b748e"/>
<rect x="246" y="300" width="11" height="6" fill="#26828e"/>
<rect x="257" y="300" width="6" height="6" fill="#2b748e"/>
<rect x="263" y="300" width="12" height="6" fill="#26828e"/>
<rect x="275" y="300" width="5" height="6" fill="#2b748e"/>
<rect x="280" y="300" width="6" height="6" fill="#31678e"/>
<rect x="286" y="300" width="6" height="6" fill="#218f8d"/>
<rect x="292" y="300" width="6" height="6" fill="#440154"/>
<rect x="298" y="300" width="6" height="6" fill="#31678e"/>
<rect x="304" y="300" width="11" height="6" fill="#443983"/>
<rect x="315" y="300" width="12" height="6" fill="#218f8d"/>
<rect x="327" y="300" width="5" height="6" fill="#26828e"/>
<rect x="332" y="300" width="12" height="6" fill="#2b748e"/>
<rect x="344" y="300" width="6" height="6" fill="#26828e"/>
<rect x="350" y="300" width="6" height="6" fill="#218f8d"/>
<rect x="356" y="300" width="5" height="6" fill="#26828e"/>
<rect x="361" y="300" width="6" height="6" fill="#1e9c89"/>
<rect x="367" y="300" width="6" height="6" fill="#218f8d"/>
<rect x="373" y="300" width="11" height="6" fill="#440154"/>
<rect x="384" y="300" width="6" height="6" fill="#218f8d"/>
<rect x="390" y="300" width="6" height="6" fill="#2b748e"/>
<rect x="396" y="300" width="6" height="6" fill="#218f8d"/>
<rect x="402" y="300" width="6" height="6" fill="#26828e"/>
<rect x="408" y="300" width="5" height="6" fill="#218f8d"/>
<rect x="413" y="300" width="29" height="6" fill="#26828e"/>
<rect x="442" y="300" width="6" height="6" fill="#218f8d"/>
<rect x="448" y="300" width="6" height="6" fill="#26828e"/>
<rect x="454" y="300" width="6" height="6" fill="#218f8d"/>
<rect x="460" y="300" width="5" height="6" fill="#440154"/>
<rect x="465" y="300" width="6" height="6" fill="#4ac16d"/>
<rect x="471" y="300" width="6" height="6" fill="#31678e"/>
<rect x="107" y="306" width="6" height="5" fill="#440154"/>
<rect x="113" y="306" width="6" height="5" fill="#1e9c89"/>
<rect x="119" y="306" width="5" height="5" fill="#26828e"/>
<rect x="124" y="306" width="6" height="5" fill="#218f8d"/>
<rect x="130" y="306" width="6" height="5" fill="#26828e"/>
<rect x="136" y="306" width="6" height="5" fill="#2b748e"/>
<rect x="142" y="306" width="5" height="5" fill="#26828e"/>
<rect x="147" y="306" width="6" height="5" fill="#2b748e"/>
<rect x="153" y="306" width="29" height="5" fill="#26828e"/>
<rect x="182" y="306" width="6" height="5" fill="#218f8d"/>
<rect x="188" y="306" width="6" height="5" fill="#26828e"/>
<rect x="194" y="306" width="5" height="5" fill="#218f8d"/>
<rect x="199" y="306" width="6" height="5" fill="#26828e"/>
<rect x="205" y="306" width="18" height="5" fill="#2b748e"/>
<rect x="223" y="306" width="17" height="5" fill="#26828e"/>
<rect x="240" y="306" width="6" height="5" fill="#2b748e"/>
<rect x="246" y="306" width="11" height="5" fill="#26828e"/>
<rect x="257" y="306" width="12" height="5" fill="#440154"/>
<rect x="269" y="306" width="6" height="5" fill="#26828e"/>
<rect x="275" y="306" width="5" height="5" fill="#2b748e"/>
<rect x="280" y="306" width="6" height="5" fill="#26828e"/>
<rect x="286" y="306" width="6" height="5" fill="#218f8d"/>
<rect x="292" y="306" width="6" height="5" fill="#2b748e"/>
<rect x="298" y="306" width="11" height="5" fill="#443983"/>
<rect x="309" y="306" width="6" height="5" fill="#3e4989"/>
<rect x="315" y="306" width="6" height="5" fill="#218f8d"/>
<rect x="321" y="306" width="6" height="5" fill="#2b748e"/>
<rect x="327" y="306" width="5" height="5" fill="#26828e"/>
<rect x="332" y="306" width="6" height="5" fill="#2b748e"/>
<rect x="338" y="306" width="6" height="5" fill="#31678e"/>
<rect x="344" y="306" width="6" height="5" fill="#2b748e"/>
<rect x="350" y="306" width="6" height="5" fill="#26828e"/>
<rect x="356" y="306" width="17" height="5" fill="#440154"/>
<rect x="373" y="306" width="6" height="5" fill="#23a983"/>
<rect x="379" y="306" width="5" height="5" fill="#440154"/>
<rect x="384" y="306" width="6" height="5" fill="#218f8d"/>
<rect x="390" y="306" width="12" height="5" fill="#26828e"/>
<rect x="402" y="306" width="6" height="5" fill="#2b748e"/>
<rect x="408" y="306" width="5" height="5" fill="#218f8d"/>
<rect x="413" y="306" width="6" height="5" fill="#26828e"/>
<rect x="419" y="306" width="18" height="5" fill="#218f8d"/>
<rect x="437" y="306" width="5" height="5" fill="#26828e"/>
<rect x="442" y="306" width="6" height="5" fill="#440154"/>
<rect x="448" y="306" width="6" height="5" fill="#218f8d"/>
<rect x="454" y="306" width="23" height="5" fill="#440154"/>
<rect x="107" y="311" width="6" height="6" fill="#440154"/>
<rect x="113" y="311" width="11" height="6" fill="#26828e"/>
<rect x="124" y="311" width="6" height="6" fill="#218f8d"/>
<rect x="130" y="311" width="12" height="6" fill="#26828e"/>
<rect x="142" y="311" width="5" height="6" fill="#2b748e"/>
<rect x="147" y="311" width="6" height="6" fill="#218f8d"/>
<rect x="153" y="311" width="6" height="6" fill="#31678e"/>
<rect x="159" y="311" width="17" height="6" fill="#26828e"/>
<rect x="176" y="311" width="6" height="6" fill="#2b748e"/>
<rect x="182" y="311" width="6" height="6" fill="#3e4989"/>
<rect x="188" y="311" width="6" height="6" fill="#26828e"/>
<rect x="194" y="311" width="5" height="6" fill="#218f8d"/>
<rect x="199" y="311" width="18" height="6" fill="#26828e"/>
<rect x="217" y="311" width="6" height="6" fill="#31678e"/>
<rect x="223" y="311" width="5" height="6" fill="#2b748e"/>
<rect x="228" y="311" width="12" height="6" fill="#26828e"/>
<rect x="240" y="311" width="6" height="6" fill="#2b748e"/>
<rect x="246" y="311" width="11" height="6" fill="#26828e"/>
<rect x="257" y="311" width="12" height="6" fill="#440154"/>
<rect x="269" y="311" width="6" height="6" fill="#26828e"/>
<rect x="275" y="311" width="5" height="6" fill="#440154"/>
<rect x="280" y="311" width="6" height="6" fill="#2b748e"/>
<rect x="286" y="311" width="6" height="6" fill="#218f8d"/>
<rect x="292" y="311" width="6" height="6" fill="#26828e"/>
<rect x="298" y="311" width="6" height="6" fill="#31678e"/>
<rect x="304" y="311" width="5" height="6" fill="#443983"/>
<rect x="309" y="311" width="12" height="6" fill="#3e4989"/>
<rect x="321" y="311" width="6" height="6" fill="#26828e"/>
<rect x="327" y="311" width="5" height="6" fill="#218f8d"/>
<rect x="332" y="311" width="12" height="6" fill="#2b748e"/>
<rect x="344" y="311" width="6" height="6" fill="#26828e"/>
<rect x="350" y="311" width="23" height="6" fill="#440154"/>
<rect x="373" y="311" width="6" height="6" fill="#23a983"/>
<rect x="379" y="311" width="5" height="6" fill="#26828e"/>
<rect x="384" y="311" width="6" height="6" fill="#218f8d"/>
<rect x="390" y="311" width="6" height="6" fill="#2b748e"/>
<rect x="396" y="311" width="6" height="6" fill="#26828e"/>
<rect x="402" y="311" width="6" height="6" fill="#218f8d"/>
<rect x="408" y="311" width="17" height="6" fill="#26828e"/>
<rect x="425" y="311" width="6" height="6" fill="#218f8d"/>
<rect x="431" y="311" width="6" height="6" fill="#1e9c89"/>
<rect x="437" y="311" width="5" height="6" fill="#23a983"/>
<rect x="442" y="311" width="18" height="6" fill="#440154"/>
<rect x="460" y="311" width="5" height="6" fill="#1e9c89"/>
<rect x="465" y="311" width="6" height="6" fill="#440154"/>
<rect x="471" y="311" width="6" height="6" fill="#67cc5c"/>
<rect x="107" y="317" width="6" height="6" fill="#440154"/>
<rect x="113" y="317" width="6" height="6" fill="#1e9c89"/>
<rect x="119" y="317" width="5" height="6" fill="#218f8d"/>
<rect x="124" y="317" width="23" height="6" fill="#26828e"/>
<rect x="147" y="317" width="6" height="6" fill="#2b748e"/>
<rect x="153" y="317" width="18" height="6" fill="#26828e"/>
<rect x="171" y="317" width="5" height="6" fill="#218f8d"/>
<rect x="176" y="317" width="12" height="6" fill="#26828e"/>
<rect x="188" y="317" width="6" height="6" fill="#2b748e"/>
<rect x="194" y="317" width="5" height="6" fill="#218f8d"/>
<rect x="199" y="317" width="6" height="6" fill="#26828e"/>
<rect x="205" y="317" width="12" height="6" fill="#2b748e"/>
<rect x="217" y="317" width="17" height="6" fill="#26828e"/>
<rect x="234" y="317" width="6" height="6" fill="#2b748e"/>
<rect x="240" y="317" width="12" height="6" fill="#26828e"/>
<rect x="252" y="317" width="5" height="6" fill="#440154"/>
<rect x="257" y="317" width="6" height="6" fill="#218f8d"/>
<rect x="263" y="317" width="6" height="6" fill="#26828e"/>
<rect x="269" y="317" width="6" height="6" fill="#440154"/>
<rect x="275" y="317" width="11" height="6" fill="#26828e"/>
<rect x="286" y="317" width="6" height="6" fill="#218f8d"/>
<rect x="292" y="317" width="12" height="6" fill="#440154"/>
<rect x="304" y="317" width="5" height="6" fill="#31678e"/>
<rect x="309" y="317" width="12" height="6" fill="#443983"/>
<rect x="321" y="317" width="6" height="6" fill="#31678e"/>
<rect x="327" y="317" width="11" height="6" fill="#26828e"/>
<rect x="338" y="317" width="6" height="6" fill="#2b748e"/>
<rect x="344" y="317" width="6" height="6" fill="#26828e"/>
<rect x="350" y="317" width="34" height="6" fill="#440154"/>
<rect x="384" y="317" width="6" height="6" fill="#1e9c89"/>
<rect x="390" y="317" width="6" height="6" fill="#26828e"/>
<rect x="396" y="317" width="6" height="6" fill="#218f8d"/>
<rect x="402" y="317" width="6" height="6" fill="#2b748e"/>
<rect x="408" y="317" width="5" height="6" fill="#218f8d"/>
<rect x="413" y="317" width="6" height="6" fill="#26828e"/>
<rect x="419" y="317" width="6" height="6" fill="#1e9c89"/>
<rect x="425" y="317" width="6" height="6" fill="#4ac16d"/>
<rect x="431" y="317" width="6" height="6" fill="#218f8d"/>
<rect x="437" y="317" width="11" height="6" fill="#440154"/>
<rect x="448" y="317" width="6" height="6" fill="#218f8d"/>
<rect x="454" y="317" width="17" height="6" fill="#440154"/>
<rect x="471" y="317" width="6" height="6" fill="#23a983"/>
<rect x="107" y="323" width="6" height="6" fill="#440154"/>
<rect x="113" y="323" width="6" height="6" fill="#32b67a"/>
<rect x="119" y="323" width="5" height="6" fill="#26828e"/>
<rect x="124" y="323" width="6" height="6" fill="#218f8d"/>
<rect x="130" y="323" width="6" height="6" fill="#2b748e"/>
<rect x="136" y="323" width="17" height="6" fill="#26828e"/>
<rect x="153" y="323" width="18" height="6" fill="#2b748e"/>
<rect x="171" y="323" width="17" height="6" fill="#26828e"/>
<rect x="188" y="323" width="6" height="6" fill="#218f8d"/>
<rect x="194" y="323" width="5" height="6" fill="#26828e"/>
<rect x="199" y="323" width="6" height="6" fill="#2b748e"/>
<rect x="205" y="323" width="18" height="6" fill="#26828e"/>
<rect x="223" y="323" width="11" height="6" fill="#2b748e"/>
<rect x="234" y="323" width="18" height="6" fill="#26828e"/>
<rect x="252" y="323" width="11" height="6" fill="#218f8d"/>
<rect x="263" y="323" width="29" height="6" fill="#26828e"/>
<rect x="292" y="323" width="12" height="6" fill="#440154"/>
<rect x="304" y="323" width="5" height="6" fill="#218f8d"/>
<rect x="309" y="323" width="12" height="6" fill="#3e4989"/>
<rect x="321" y="323" width="6" height="6" fill="#31678e"/>
<rect x="327" y="323" width="5" height="6" fill="#443983"/>
<rect x="332" y="323" width="6" height="6" fill="#26828e"/>
<rect x="338" y="323" width="6" height="6" fill="#2b748e"/>
<rect x="344" y="323" width="12" height="6" fill="#218f8d"/>
<rect x="356" y="323" width="5" height="6" fill="#32b67a"/>
<rect x="361" y="323" width="12" height="6" fill="#440154"/>
<rect x="373" y="323" width="6" height="6" fill="#32b67a"/>
<rect x="379" y="323" width="5" height="6" fill="#26828e"/>
<rect x="384" y="323" width="6" height="6" fill="#1e9c89"/>
<rect x="390" y="323" width="6" height="6" fill="#26828e"/>
<rect x="396" y="323" width="6" height="6" fill="#2b748e"/>
<rect x="402" y="323" width="17" height="6" fill="#218f8d"/>
<rect x="419" y="323" width="6" height="6" fill="#26828e"/>
<rect x="425" y="323" width="12" height="6" fill="#443983"/>
<rect x="437" y="323" width="5" height="6" fill="#3e4989"/>
<rect x="442" y="323" width="6" height="6" fill="#218f8d"/>
<rect x="448" y="323" width="6" height="6" fill="#1e9c89"/>
<rect x="454" y="323" width="11" height="6" fill="#218f8d"/>
<rect x="465" y="323" width="6" height="6" fill="#1e9c89"/>
<rect x="471" y="323" width="6" height="6" fill="#32b67a"/>
<rect x="107" y="329" width="12" height="6" fill="#440154"/>
<rect x="119" y="329" width="5" height="6" fill="#1e9c89"/>
<rect x="124" y="329" width="6" height="6" fill="#26828e"/>
<rect x="130" y="329" width="12" height="6" fill="#1e9c89"/>
<rect x="142" y="329" width="5" height="6" fill="#26828e"/>
<rect x="147" y="329" width="18" height="6" fill="#218f8d"/>
<rect x="165" y="329" width="6" height="6" fill="#26828e"/>
<rect x="171" y="329" width="5" height="6" fill="#218f8d"/>
<rect x="176" y="329" width="6" height="6" fill="#26828e"/>
<rect x="182" y="329" width="23" height="6" fill="#218f8d"/>
<rect x="205" y="329" width="12" height="6" fill="#26828e"/>
<rect x="217" y="329" width="6" height="6" fill="#218f8d"/>
<rect x="223" y="329" width="29" height="6" fill="#26828e"/>
<rect x="252" y="329" width="5" height="6" fill="#440154"/>
<rect x="257" y="329" width="6" height="6" fill="#218f8d"/>
<rect x="263" y="329" width="6" height="6" fill="#26828e"/>
<rect x="269" y="329" width="6" height="6" fill="#218f8d"/>
<rect x="275" y="329" width="11" height="6" fill="#26828e"/>
<rect x="286" y="329" width="6" height="6" fill="#218f8d"/>
<rect x="292" y="329" width="23" height="6" fill="#440154"/>
<rect x="315" y="329" width="6" height="6" fill="#26828e"/>
<rect x="321" y="329" width="6" height="6" fill="#440154"/>
<rect x="327" y="329" width="5" height="6" fill="#26828e"/>
<rect x="332" y="329" width="6" height="6" fill="#1e9c89"/>
<rect x="338" y="329" width="6" height="6" fill="#440154"/>
<rect x="344" y="329" width="6" height="6" fill="#218f8d"/>
<rect x="350" y="329" width="6" height="6" fill="#26828e"/>
<rect x="356" y="329" width="17" height="6" fill="#440154"/>
<rect x="373" y="329" width="11" height="6" fill="#26828e"/>
<rect x="384" y="329" width="6" height="6" fill="#1e9c89"/>
<rect x="390" y="329" width="12" height="6" fill="#218f8d"/>
<rect x="402" y="329" width="6" height="6" fill="#26828e"/>
<rect x="408" y="329" width="5" height="6" fill="#1e9c89"/>
<rect x="413" y="329" width="6" height="6" fill="#32b67a"/>
<rect x="419" y="329" width="12" height="6" fill="#3e4989"/>
<rect x="431" y="329" width="6" height="6" fill="#440154"/>
<rect x="437" y="329" width="5" height="6" fill="#31678e"/>
<rect x="442" y="329" width="6" height="6" fill="#440154"/>
<rect x="448" y="329" width="6" height="6" fill="#218f8d"/>
<rect x="454" y="329" width="6" height="6" fill="#1e9c89"/>
<rect x="460" y="329" width="17" height="6" fill="#218f8d"/>
<rect x="107" y="335" width="12" height="5" fill="#440154"/>
<rect x="119" y="335" width="5" height="5" fill="#2b748e"/>
<rect x="124" y="335" width="18" height="5" fill="#443983"/>
<rect x="142" y="335" width="5" height="5" fill="#32b67a"/>
<rect x="147" y="335" width="6" height="5" fill="#440154"/>
<rect x="153" y="335" width="6" height="5" fill="#31678e"/>
<rect x="159" y="335" width="6" height="5" fill="#440154"/>
<rect x="165" y="335" width="11" height="5" fill="#3e4989"/>
<rect x="176" y="335" width="12" height="5" fill="#2b748e"/>
<rect x="188" y="335" width="6" height="5" fill="#26828e"/>
<rect x="194" y="335" width="5" height="5" fill="#23a983"/>
<rect x="199" y="335" width="6" height="5" fill="#26828e"/>
<rect x="205" y="335" width="6" height="5" fill="#2b748e"/>
<rect x="211" y="335" width="6" height="5" fill="#440154"/>
<rect x="217" y="335" width="6" height="5" fill="#26828e"/>
<rect x="223" y="335" width="5" height="5" fill="#3e4989"/>
<rect x="228" y="335" width="6" height="5" fill="#2b748e"/>
<rect x="234" y="335" width="6" height="5" fill="#218f8d"/>
<rect x="240" y="335" width="6" height="5" fill="#2b748e"/>
<rect x="246" y="335" width="6" height="5" fill="#26828e"/>
<rect x="252" y="335" width="5" height="5" fill="#218f8d"/>
<rect x="257" y="335" width="6" height="5" fill="#2b748e"/>
<rect x="263" y="335" width="6" height="5" fill="#31678e"/>
<rect x="269" y="335" width="6" height="5" fill="#218f8d"/>
<rect x="275" y="335" width="5" height="5" fill="#2b748e"/>
<rect x="280" y="335" width="6" height="5" fill="#31678e"/>
<rect x="286" y="335" width="6" height="5" fill="#32b67a"/>
<rect x="292" y="335" width="6" height="5" fill="#1e9c89"/>
<rect x="298" y="335" width="6" height="5" fill="#218f8d"/>
<rect x="304" y="335" width="5" height="5" fill="#26828e"/>
<rect x="309" y="335" width="6" height="5" fill="#218f8d"/>
<rect x="315" y="335" width="6" height="5" fill="#1e9c89"/>
<rect x="321" y="335" width="17" height="5" fill="#26828e"/>
<rect x="338" y="335" width="6" height="5" fill="#218f8d"/>
<rect x="344" y="335" width="6" height="5" fill="#23a983"/>
<rect x="350" y="335" width="6" height="5" fill="#26828e"/>
<rect x="356" y="335" width="5" height="5" fill="#218f8d"/>
<rect x="361" y="335" width="12" height="5" fill="#1e9c89"/>
<rect x="373" y="335" width="6" height="5" fill="#218f8d"/>
<rect x="379" y="335" width="5" height="5" fill="#1e9c89"/>
<rect x="384" y="335" width="6" height="5" fill="#26828e"/>
<rect x="390" y="335" width="6" height="5" fill="#2b748e"/>
<rect x="396" y="335" width="6" height="5" fill="#26828e"/>
<rect x="402" y="335" width="17" height="5" fill="#218f8d"/>
<rect x="419" y="335" width="6" height="5" fill="#2b748e"/>
<rect x="425" y="335" width="6" height="5" fill="#26828e"/>
<rect x="431" y="335" width="11" height="5" fill="#440154"/>
<rect x="442" y="335" width="6" height="5" fill="#26828e"/>
<rect x="448" y="335" width="6" height="5" fill="#2b748e"/>
<rect x="454" y="335" width="6" height="5" fill="#218f8d"/>
<rect x="460" y="335" width="11" height="5" fill="#26828e"/>
<rect x="471" y="335" width="6" height="5" fill="#218f8d"/>
<rect x="107" y="340" width="6" height="6" fill="#440154"/>
<rect x="113" y="340" width="6" height="6" fill="#218f8d"/>
<rect x="119" y="340" width="5" height="6" fill="#31678e"/>
<rect x="124" y="340" width="6" height="6" fill="#443983"/>
<rect x="130" y="340" width="6" height="6" fill="#31678e"/>
<rect x="136" y="340" width="6" height="6" fill="#1e9c89"/>
<rect x="142" y="340" width="11" height="6" fill="#218f8d"/>
<rect x="153" y="340" width="6" height="6" fill="#3e4989"/>
<rect x="159" y="340" width="6" height="6" fill="#2b748e"/>
<rect x="165" y="340" width="6" height="6" fill="#443983"/>
<rect x="171" y="340" width="5" height="6" fill="#482878"/>
<rect x="176" y="340" width="6" height="6" fill="#443983"/>
<rect x="182" y="340" width="6" height="6" fill="#2b748e"/>
<rect x="188" y="340" width="6" height="6" fill="#26828e"/>
<rect x="194" y="340" width="5" height="6" fill="#23a983"/>
<rect x="199" y="340" width="6" height="6" fill="#2b748e"/>
<rect x="205" y="340" width="6" height="6" fill="#3e4989"/>
<rect x="211" y="340" width="23" height="6" fill="#2b748e"/>
<rect x="234" y="340" width="12" height="6" fill="#218f8d"/>
<rect x="246" y="340" width="6" height="6" fill="#2b748e"/>
<rect x="252" y="340" width="5" height="6" fill="#218f8d"/>
<rect x="257" y="340" width="18" height="6" fill="#443983"/>
<rect x="275" y="340" width="5" height="6" fill="#482878"/>
<rect x="280" y="340" width="12" height="6" fill="#443983"/>
<rect x="292" y="340" width="12" height="6" fill="#218f8d"/>
<rect x="304" y="340" width="34" height="6" fill="#26828e"/>
<rect x="338" y="340" width="6" height="6" fill="#218f8d"/>
<rect x="344" y="340" width="23" height="6" fill="#26828e"/>
<rect x="367" y="340" width="6" height="6" fill="#218f8d"/>
<rect x="373" y="340" width="6" height="6" fill="#26828e"/>
<rect x="379" y="340" width="5" height="6" fill="#1e9c89"/>
<rect x="384" y="340" width="18" height="6" fill="#26828e"/>
<rect x="402" y="340" width="17" height="6" fill="#440154"/>
<rect x="419" y="340" width="6" height="6" fill="#218f8d"/>
<rect x="425" y="340" width="6" height="6" fill="#26828e"/>
<rect x="431" y="340" width="6" height="6" fill="#218f8d"/>
<rect x="437" y="340" width="11" height="6" fill="#440154"/>
<rect x="448" y="340" width="6" height="6" fill="#26828e"/>
<rect x="454" y="340" width="6" height="6" fill="#2b748e"/>
<rect x="460" y="340" width="11" height="6" fill="#26828e"/>
<rect x="471" y="340" width="6" height="6" fill="#1e9c89"/>
<rect x="107" y="346" width="6" height="6" fill="#440154"/>
<rect x="113" y="346" width="6" height="6" fill="#2b748e"/>
<rect x="119" y="346" width="5" height="6" fill="#482878"/>
<rect x="124" y="346" width="6" height="6" fill="#2b748e"/>
<rect x="130" y="346" width="6" height="6" fill="#32b67a"/>
<rect x="136" y="346" width="6" height="6" fill="#218f8d"/>
<rect x="142" y="346" width="5" height="6" fill="#26828e"/>
<rect x="147" y="346" width="6" height="6" fill="#31678e"/>
<rect x="153" y="346" width="6" height="6" fill="#3e4989"/>
<rect x="159" y="346" width="6" height="6" fill="#4ac16d"/>
<rect x="165" y="346" width="6" height="6" fill="#addc30"/>
<rect x="171" y="346" width="5" height="6" fill="#26828e"/>
<rect x="176" y="346" width="6" height="6" fill="#482878"/>
<rect x="182" y="346" width="6" height="6" fill="#3e4989"/>
<rect x="188" y="346" width="6" height="6" fill="#26828e"/>
<rect x="194" y="346" width="5" height="6" fill="#23a983"/>
<rect x="199" y="346" width="24" height="6" fill="#26828e"/>
<rect x="223" y="346" width="5" height="6" fill="#1e9c89"/>
<rect x="228" y="346" width="6" height="6" fill="#26828e"/>
<rect x="234" y="346" width="6" height="6" fill="#218f8d"/>
<rect x="240" y="346" width="12" height="6" fill="#26828e"/>
<rect x="252" y="346" width="11" height="6" fill="#218f8d"/>
<rect x="263" y="346" width="6" height="6" fill="#3e4989"/>
<rect x="269" y="346" width="6" height="6" fill="#443983"/>
<rect x="275" y="346" width="5" height="6" fill="#3e4989"/>
<rect x="280" y="346" width="6" height="6" fill="#443983"/>
<rect x="286" y="346" width="12" height="6" fill="#31678e"/>
<rect x="298" y="346" width="17" height="6" fill="#26828e"/>
<rect x="315" y="346" width="6" height="6" fill="#218f8d"/>
<rect x="321" y="346" width="6" height="6" fill="#2b748e"/>
<rect x="327" y="346" width="5" height="6" fill="#26828e"/>
<rect x="332" y="346" width="6" height="6" fill="#2b748e"/>
<rect x="338" y="346" width="6" height="6" fill="#218f8d"/>
<rect x="344" y="346" width="17" height="6" fill="#26828e"/>
<rect x="361" y="346" width="6" height="6" fill="#218f8d"/>
<rect x="367" y="346" width="6" height="6" fill="#2b748e"/>
<rect x="373" y="346" width="6" height="6" fill="#218f8d"/>
<rect x="379" y="346" width="5" height="6" fill="#26828e"/>
<rect x="384" y="346" width="6" height="6" fill="#2b748e"/>
<rect x="390" y="346" width="6" height="6" fill="#26828e"/>
<rect x="396" y="346" width="6" height="6" fill="#2b748e"/>
<rect x="402" y="346" width="23" height="6" fill="#440154"/>
<rect x="425" y="346" width="12" height="6" fill="#218f8d"/>
<rect x="437" y="346" width="5" height="6" fill="#26828e"/>
<rect x="442" y="346" width="6" height="6" fill="#2b748e"/>
<rect x="448" y="346" width="6" height="6" fill="#440154"/>
<rect x="454" y="346" width="17" height="6" fill="#26828e"/>
<rect x="471" y="346" width="6" height="6" fill="#1e9c89"/>
<rect x="107" y="352" width="6" height="6" fill="#440154"/>
<rect x="113" y="352" width="6" height="6" fill="#31678e"/>
<rect x="119" y="352" width="5" height="6" fill="#482878"/>
<rect x="124" y="352" width="6" height="6" fill="#4ac16d"/>
<rect x="130" y="352" width="23" height="6" fill="#26828e"/>
<rect x="153" y="352" width="6" height="6" fill="#2b748e"/>
<rect x="159" y="352" width="12" height="6" fill="#26828e"/>
<rect x="171" y="352" width="5" height="6" fill="#4ac16d"/>
<rect x="176" y="352" width="6" height="6" fill="#3e4989"/>
<rect x="182" y="352" width="6" height="6" fill="#440154"/>
<rect x="188" y="352" width="11" height="6" fill="#443983"/>
<rect x="199" y="352" width="6" height="6" fill="#440154"/>
<rect x="205" y="352" width="6" height="6" fill="#2b748e"/>
<rect x="211" y="352" width="6" height="6" fill="#26828e"/>
<rect x="217" y="352" width="6" height="6" fill="#218f8d"/>
<rect x="223" y="352" width="5" height="6" fill="#440154"/>
<rect x="228" y="352" width="6" height="6" fill="#218f8d"/>
<rect x="234" y="352" width="29" height="6" fill="#26828e"/>
<rect x="263" y="352" width="6" height="6" fill="#218f8d"/>
<rect x="269" y="352" width="6" height="6" fill="#31678e"/>
<rect x="275" y="352" width="5" height="6" fill="#440154"/>
<rect x="280" y="352" width="6" height="6" fill="#443983"/>
<rect x="286" y="352" width="6" height="6" fill="#26828e"/>
<rect x="292" y="352" width="6" height="6" fill="#31678e"/>
<rect x="298" y="352" width="6" height="6" fill="#26828e"/>
<rect x="304" y="352" width="5" height="6" fill="#218f8d"/>
<rect x="309" y="352" width="18" height="6" fill="#26828e"/>
<rect x="327" y="352" width="5" height="6" fill="#218f8d"/>
<rect x="332" y="352" width="6" height="6" fill="#26828e"/>
<rect x="338" y="352" width="6" height="6" fill="#218f8d"/>
<rect x="344" y="352" width="12" height="6" fill="#26828e"/>
<rect x="356" y="352" width="11" height="6" fill="#218f8d"/>
<rect x="367" y="352" width="6" height="6" fill="#440154"/>
<rect x="373" y="352" width="6" height="6" fill="#218f8d"/>
<rect x="379" y="352" width="5" height="6" fill="#1e9c89"/>
<rect x="384" y="352" width="6" height="6" fill="#440154"/>
<rect x="390" y="352" width="6" height="6" fill="#26828e"/>
<rect x="396" y="352" width="6" height="6" fill="#2b748e"/>
<rect x="402" y="352" width="23" height="6" fill="#440154"/>
<rect x="425" y="352" width="6" height="6" fill="#1e9c89"/>
<rect x="431" y="352" width="6" height="6" fill="#440154"/>
<rect x="437" y="352" width="5" height="6" fill="#2b748e"/>
<rect x="442" y="352" width="12" height="6" fill="#440154"/>
<rect x="454" y="352" width="6" height="6" fill="#1e9c89"/>
<rect x="460" y="352" width="5" height="6" fill="#440154"/>
<rect x="465" y="352" width="6" height="6" fill="#26828e"/>
<rect x="471" y="352" width="6" height="6" fill="#23a983"/>
<rect x="107" y="358" width="6" height="5" fill="#440154"/>
<rect x="113" y="358" width="6" height="5" fill="#31678e"/>
<rect x="119" y="358" width="5" height="5" fill="#443983"/>
<rect x="124" y="358" width="6" height="5" fill="#23a983"/>
<rect x="130" y="358" width="6" height="5" fill="#218f8d"/>
<rect x="136" y="358" width="23" height="5" fill="#26828e"/>
<rect x="159" y="358" width="6" height="5" fill="#2b748e"/>
<rect x="165" y="358" width="6" height="5" fill="#26828e"/>
<rect x="171" y="358" width="5" height="5" fill="#218f8d"/>
<rect x="176" y="358" width="6" height="5" fill="#32b67a"/>
<rect x="182" y="358" width="12" height="5" fill="#443983"/>
<rect x="194" y="358" width="5" height="5" fill="#3e4989"/>
<rect x="199" y="358" width="6" height="5" fill="#32b67a"/>
<rect x="205" y="358" width="6" height="5" fill="#2b748e"/>
<rect x="211" y="358" width="6" height="5" fill="#443983"/>
<rect x="217" y="358" width="6" height="5" fill="#1e9c89"/>
<rect x="223" y="358" width="5" height="5" fill="#218f8d"/>
<rect x="228" y="358" width="18" height="5" fill="#26828e"/>
<rect x="246" y="358" width="6" height="5" fill="#2b748e"/>
<rect x="252" y="358" width="11" height="5" fill="#218f8d"/>
<rect x="263" y="358" width="6" height="5" fill="#26828e"/>
<rect x="269" y="358" width="6" height="5" fill="#23a983"/>
<rect x="275" y="358" width="5" height="5" fill="#482878"/>
<rect x="280" y="358" width="6" height="5" fill="#443983"/>
<rect x="286" y="358" width="6" height="5" fill="#26828e"/>
<rect x="292" y="358" width="6" height="5" fill="#3e4989"/>
<rect x="298" y="358" width="6" height="5" fill="#31678e"/>
<rect x="304" y="358" width="5" height="5" fill="#218f8d"/>
<rect x="309" y="358" width="12" height="5" fill="#2b748e"/>
<rect x="321" y="358" width="6" height="5" fill="#218f8d"/>
<rect x="327" y="358" width="5" height="5" fill="#26828e"/>
<rect x="332" y="358" width="6" height="5" fill="#2b748e"/>
<rect x="338" y="358" width="6" height="5" fill="#26828e"/>
<rect x="344" y="358" width="6" height="5" fill="#1e9c89"/>
<rect x="350" y="358" width="6" height="5" fill="#26828e"/>
<rect x="356" y="358" width="5" height="5" fill="#218f8d"/>
<rect x="361" y="358" width="6" height="5" fill="#2b748e"/>
<rect x="367" y="358" width="12" height="5" fill="#26828e"/>
<rect x="379" y="358" width="11" height="5" fill="#218f8d"/>
<rect x="390" y="358" width="6" height="5" fill="#440154"/>
<rect x="396" y="358" width="6" height="5" fill="#218f8d"/>
<rect x="402" y="358" width="23" height="5" fill="#440154"/>
<rect x="425" y="358" width="6" height="5" fill="#32b67a"/>
<rect x="431" y="358" width="11" height="5" fill="#440154"/>
<rect x="442" y="358" width="6" height="5" fill="#26828e"/>
<rect x="448" y="358" width="6" height="5" fill="#440154"/>
<rect x="454" y="358" width="6" height="5" fill="#26828e"/>
<rect x="460" y="358" width="5" height="5" fill="#2b748e"/>
<rect x="465" y="358" width="6" height="5" fill="#26828e"/>
<rect x="471" y="358" width="6" height="5" fill="#23a983"/>
<rect x="107" y="363" width="6" height="6" fill="#89d548"/>
<rect x="113" y="363" width="6" height="6" fill="#3e4989"/>
<rect x="119" y="363" width="5" height="6" fill="#443983"/>
<rect x="124" y="363" width="6" height="6" fill="#23a983"/>
<rect x="130" y="363" width="6" height="6" fill="#218f8d"/>
<rect x="136" y="363" width="17" height="6" fill="#26828e"/>
<rect x="153" y="363" width="6" height="6" fill="#2b748e"/>
<rect x="159" y="363" width="6" height="6" fill="#218f8d"/>
<rect x="165" y="363" width="6" height="6" fill="#26828e"/>
<rect x="171" y="363" width="5" height="6" fill="#218f8d"/>
<rect x="176" y="363" width="6" height="6" fill="#32b67a"/>
<rect x="182" y="363" width="12" height="6" fill="#3e4989"/>
<rect x="194" y="363" width="5" height="6" fill="#440154"/>
<rect x="199" y="363" width="12" height="6" fill="#218f8d"/>
<rect x="211" y="363" width="6" height="6" fill="#443983"/>
<rect x="217" y="363" width="11" height="6" fill="#26828e"/>
<rect x="228" y="363" width="6" height="6" fill="#2b748e"/>
<rect x="234" y="363" width="6" height="6" fill="#218f8d"/>
<rect x="240" y="363" width="12" height="6" fill="#26828e"/>
<rect x="252" y="363" width="5" height="6" fill="#2b748e"/>
<rect x="257" y="363" width="12" height="6" fill="#26828e"/>
<rect x="269" y="363" width="6" height="6" fill="#218f8d"/>
<rect x="275" y="363" width="5" height="6" fill="#31678e"/>
<rect x="280" y="363" width="6" height="6" fill="#443983"/>
<rect x="286" y="363" width="6" height="6" fill="#1e9c89"/>
<rect x="292" y="363" width="6" height="6" fill="#3e4989"/>
<rect x="298" y="363" width="6" height="6" fill="#443983"/>
<rect x="304" y="363" width="5" height="6" fill="#1e9c89"/>
<rect x="309" y="363" width="6" height="6" fill="#26828e"/>
<rect x="315" y="363" width="12" height="6" fill="#218f8d"/>
<rect x="327" y="363" width="11" height="6" fill="#26828e"/>
<rect x="338" y="363" width="6" height="6" fill="#2b748e"/>
<rect x="344" y="363" width="12" height="6" fill="#26828e"/>
<rect x="356" y="363" width="5" height="6" fill="#2b748e"/>
<rect x="361" y="363" width="18" height="6" fill="#26828e"/>
<rect x="379" y="363" width="5" height="6" fill="#218f8d"/>
<rect x="384" y="363" width="12" height="6" fill="#26828e"/>
<rect x="396" y="363" width="23" height="6" fill="#218f8d"/>
<rect x="419" y="363" width="18" height="6" fill="#440154"/>
<rect x="437" y="363" width="5" height="6" fill="#218f8d"/>
<rect x="442" y="363" width="29" height="6" fill="#26828e"/>
<rect x="471" y="363" width="6" height="6" fill="#23a983"/>
<rect x="107" y="369" width="6" height="6" fill="#2b748e"/>
<rect x="113" y="369" width="6" height="6" fill="#31678e"/>
<rect x="119" y="369" width="5" height="6" fill="#443983"/>
<rect x="124" y="369" width="12" height="6" fill="#218f8d"/>
<rect x="136" y="369" width="6" height="6" fill="#26828e"/>
<rect x="142" y="369" width="5" height="6" fill="#218f8d"/>
<rect x="147" y="369" width="12" height="6" fill="#26828e"/>
<rect x="159" y="369" width="6" height="6" fill="#2b748e"/>
<rect x="165" y="369" width="6" height="6" fill="#26828e"/>
<rect x="171" y="369" width="5" height="6" fill="#218f8d"/>
<rect x="176" y="369" width="12" height="6" fill="#440154"/>
<rect x="188" y="369" width="6" height="6" fill="#2b748e"/>
<rect x="194" y="369" width="5" height="6" fill="#440154"/>
<rect x="199" y="369" width="12" height="6" fill="#218f8d"/>
<rect x="211" y="369" width="6" height="6" fill="#443983"/>
<rect x="217" y="369" width="6" height="6" fill="#2b748e"/>
<rect x="223" y="369" width="5" height="6" fill="#1e9c89"/>
<rect x="228" y="369" width="6" height="6" fill="#31678e"/>
<rect x="234" y="369" width="6" height="6" fill="#2b748e"/>
<rect x="240" y="369" width="23" height="6" fill="#26828e"/>
<rect x="263" y="369" width="6" height="6" fill="#2b748e"/>
<rect x="269" y="369" width="11" height="6" fill="#26828e"/>
<rect x="280" y="369" width="6" height="6" fill="#443983"/>
<rect x="286" y="369" width="6" height="6" fill="#440154"/>
<rect x="292" y="369" width="6" height="6" fill="#3e4989"/>
<rect x="298" y="369" width="6" height="6" fill="#443983"/>
<rect x="304" y="369" width="5" height="6" fill="#23a983"/>
<rect x="309" y="369" width="35" height="6" fill="#26828e"/>
<rect x="344" y="369" width="6" height="6" fill="#218f8d"/>
<rect x="350" y="369" width="11" height="6" fill="#26828e"/>
<rect x="361" y="369" width="6" height="6" fill="#218f8d"/>
<rect x="367" y="369" width="12" height="6" fill="#26828e"/>
<rect x="379" y="369" width="5" height="6" fill="#218f8d"/>
<rect x="384" y="369" width="12" height="6" fill="#26828e"/>
<rect x="396" y="369" width="17" height="6" fill="#440154"/>
<rect x="413" y="369" width="24" height="6" fill="#26828e"/>
<rect x="437" y="369" width="5" height="6" fill="#218f8d"/>
<rect x="442" y="369" width="29" height="6" fill="#26828e"/>
<rect x="471" y="369" width="6" height="6" fill="#1e9c89"/>
<rect x="107" y="375" width="6" height="6" fill="#2b748e"/>
<rect x="113" y="375" width="6" height="6" fill="#31678e"/>
<rect x="119" y="375" width="5" height="6" fill="#443983"/>
<rect x="124" y="375" width="6" height="6" fill="#26828e"/>
<rect x="130" y="375" width="6" height="6" fill="#218f8d"/>
<rect x="136" y="375" width="6" height="6" fill="#26828e"/>
<rect x="142" y="375" width="5" height="6" fill="#218f8d"/>
<rect x="147" y="375" width="6" height="6" fill="#26828e"/>
<rect x="153" y="375" width="6" height="6" fill="#2b748e"/>
<rect x="159" y="375" width="23" height="6" fill="#26828e"/>
<rect x="182" y="375" width="17" height="6" fill="#440154"/>
<rect x="199" y="375" width="6" height="6" fill="#218f8d"/>
<rect x="205" y="375" width="6" height="6" fill="#26828e"/>
<rect x="211" y="375" width="6" height="6" fill="#443983"/>
<rect x="217" y="375" width="17" height="6" fill="#26828e"/>
<rect x="234" y="375" width="6" height="6" fill="#218f8d"/>
<rect x="240" y="375" width="12" height="6" fill="#2b748e"/>
<rect x="252" y="375" width="17" height="6" fill="#26828e"/>
<rect x="269" y="375" width="6" height="6" fill="#2b748e"/>
<rect x="275" y="375" width="5" height="6" fill="#218f8d"/>
<rect x="280" y="375" width="6" height="6" fill="#443983"/>
<rect x="286" y="375" width="6" height="6" fill="#218f8d"/>
<rect x="292" y="375" width="6" height="6" fill="#3e4989"/>
<rect x="298" y="375" width="6" height="6" fill="#443983"/>
<rect x="304" y="375" width="5" height="6" fill="#23a983"/>
<rect x="309" y="375" width="6" height="6" fill="#26828e"/>
<rect x="315" y="375" width="6" height="6" fill="#218f8d"/>
<rect x="321" y="375" width="6" height="6" fill="#26828e"/>
<rect x="327" y="375" width="17" height="6" fill="#218f8d"/>
<rect x="344" y="375" width="6" height="6" fill="#1e9c89"/>
<rect x="350" y="375" width="6" height="6" fill="#26828e"/>
<rect x="356" y="375" width="11" height="6" fill="#218f8d"/>
<rect x="367" y="375" width="6" height="6" fill="#26828e"/>
<rect x="373" y="375" width="6" height="6" fill="#218f8d"/>
<rect x="379" y="375" width="17" height="6" fill="#26828e"/>
<rect x="396" y="375" width="6" height="6" fill="#2b748e"/>
<rect x="402" y="375" width="6" height="6" fill="#218f8d"/>
<rect x="408" y="375" width="29" height="6" fill="#26828e"/>
<rect x="437" y="375" width="5" height="6" fill="#218f8d"/>
<rect x="442" y="375" width="6" height="6" fill="#31678e"/>
<rect x="448" y="375" width="23" height="6" fill="#26828e"/>
<rect x="471" y="375" width="6" height="6" fill="#23a983"/>
<rect x="107" y="381" width="6" height="6" fill="#26828e"/>
<rect x="113" y="381" width="6" height="6" fill="#31678e"/>
<rect x="119" y="381" width="5" height="6" fill="#443983"/>
<rect x="124" y="381" width="6" height="6" fill="#26828e"/>
<rect x="130" y="381" width="6" height="6" fill="#218f8d"/>
<rect x="136" y="381" width="23" height="6" fill="#26828e"/>
<rect x="159" y="381" width="6" height="6" fill="#218f8d"/>
<rect x="165" y="381" width="11" height="6" fill="#26828e"/>
<rect x="176" y="381" width="6" height="6" fill="#2b748e"/>
<rect x="182" y="381" width="6" height="6" fill="#31678e"/>
<rect x="188" y="381" width="6" height="6" fill="#26828e"/>
<rect x="194" y="381" width="5" height="6" fill="#440154"/>
<rect x="199" y="381" width="6" height="6" fill="#1e9c89"/>
<rect x="205" y="381" width="6" height="6" fill="#26828e"/>
<rect x="211" y="381" width="6" height="6" fill="#443983"/>
<rect x="217" y="381" width="6" height="6" fill="#1e9c89"/>
<rect x="223" y="381" width="23" height="6" fill="#26828e"/>
<rect x="246" y="381" width="11" height="6" fill="#2b748e"/>
<rect x="257" y="381" width="18" height="6" fill="#26828e"/>
<rect x="275" y="381" width="5" height="6" fill="#3e4989"/>
<rect x="280" y="381" width="6" height="6" fill="#443983"/>
<rect x="286" y="381" width="6" height="6" fill="#2b748e"/>
<rect x="292" y="381" width="12" height="6" fill="#3e4989"/>
<rect x="304" y="381" width="5" height="6" fill="#1e9c89"/>
<rect x="309" y="381" width="6" height="6" fill="#26828e"/>
<rect x="315" y="381" width="6" height="6" fill="#218f8d"/>
<rect x="321" y="381" width="23" height="6" fill="#26828e"/>
<rect x="344" y="381" width="6" height="6" fill="#218f8d"/>
<rect x="350" y="381" width="11" height="6" fill="#2b748e"/>
<rect x="361" y="381" width="6" height="6" fill="#218f8d"/>
<rect x="367" y="381" width="12" height="6" fill="#26828e"/>
<rect x="379" y="381" width="5" height="6" fill="#218f8d"/>
<rect x="384" y="381" width="24" height="6" fill="#2b748e"/>
<rect x="408" y="381" width="23" height="6" fill="#26828e"/>
<rect x="431" y="381" width="6" height="6" fill="#218f8d"/>
<rect x="437" y="381" width="5" height="6" fill="#26828e"/>
<rect x="442" y="381" width="6" height="6" fill="#2b748e"/>
<rect x="448" y="381" width="17" height="6" fill="#26828e"/>
<rect x="465" y="381" width="6" height="6" fill="#2b748e"/>
<rect x="471" y="381" width="6" height="6" fill="#23a983"/>
<rect x="107" y="387" width="6" height="5" fill="#2b748e"/>
<rect x="113" y="387" width="6" height="5" fill="#31678e"/>
<rect x="119" y="387" width="5" height="5" fill="#443983"/>
<rect x="124" y="387" width="6" height="5" fill="#2b748e"/>
<rect x="130" y="387" width="6" height="5" fill="#32b67a"/>
<rect x="136" y="387" width="35" height="5" fill="#26828e"/>
<rect x="171" y="387" width="5" height="5" fill="#218f8d"/>
<rect x="176" y="387" width="6" height="5" fill="#2b748e"/>
<rect x="182" y="387" width="6" height="5" fill="#3e4989"/>
<rect x="188" y="387" width="6" height="5" fill="#26828e"/>
<rect x="194" y="387" width="5" height="5" fill="#440154"/>
<rect x="199" y="387" width="6" height="5" fill="#218f8d"/>
<rect x="205" y="387" width="6" height="5" fill="#31678e"/>
<rect x="211" y="387" width="6" height="5" fill="#443983"/>
<rect x="217" y="387" width="6" height="5" fill="#32b67a"/>
<rect x="223" y="387" width="5" height="5" fill="#218f8d"/>
<rect x="228" y="387" width="6" height="5" fill="#26828e"/>
<rect x="234" y="387" width="12" height="5" fill="#218f8d"/>
<rect x="246" y="387" width="17" height="5" fill="#26828e"/>
<rect x="263" y="387" width="6" height="5" fill="#218f8d"/>
<rect x="269" y="387" width="6" height="5" fill="#1e9c89"/>
<rect x="275" y="387" width="5" height="5" fill="#218f8d"/>
<rect x="280" y="387" width="6" height="5" fill="#443983"/>
<rect x="286" y="387" width="12" height="5" fill="#3e4989"/>
<rect x="298" y="387" width="6" height="5" fill="#2b748e"/>
<rect x="304" y="387" width="5" height="5" fill="#1e9c89"/>
<rect x="309" y="387" width="18" height="5" fill="#26828e"/>
<rect x="327" y="387" width="5" height="5" fill="#2b748e"/>
<rect x="332" y="387" width="35" height="5" fill="#26828e"/>
<rect x="367" y="387" width="6" height="5" fill="#218f8d"/>
<rect x="373" y="387" width="6" height="5" fill="#26828e"/>
<rect x="379" y="387" width="5" height="5" fill="#218f8d"/>
<rect x="384" y="387" width="18" height="5" fill="#26828e"/>
<rect x="402" y="387" width="11" height="5" fill="#2b748e"/>
<rect x="413" y="387" width="6" height="5" fill="#26828e"/>
<rect x="419" y="387" width="6" height="5" fill="#2b748e"/>
<rect x="425" y="387" width="17" height="5" fill="#26828e"/>
<rect x="442" y="387" width="6" height="5" fill="#2b748e"/>
<rect x="448" y="387" width="12" height="5" fill="#26828e"/>
<rect x="460" y="387" width="5" height="5" fill="#440154"/>
<rect x="465" y="387" width="6" height="5" fill="#218f8d"/>
<rect x="471" y="387" width="6" height="5" fill="#23a983"/>
<rect x="107" y="392" width="6" height="6" fill="#1e9c89"/>
<rect x="113" y="392" width="6" height="6" fill="#31678e"/>
<rect x="119" y="392" width="5" height="6" fill="#443983"/>
<rect x="124" y="392" width="6" height="6" fill="#440154"/>
<rect x="130" y="392" width="6" height="6" fill="#32b67a"/>
<rect x="136" y="392" width="6" height="6" fill="#218f8d"/>
<rect x="142" y="392" width="17" height="6" fill="#26828e"/>
<rect x="159" y="392" width="6" height="6" fill="#218f8d"/>
<rect x="165" y="392" width="6" height="6" fill="#2b748e"/>
<rect x="171" y="392" width="5" height="6" fill="#26828e"/>
<rect x="176" y="392" width="6" height="6" fill="#218f8d"/>
<rect x="182" y="392" width="6" height="6" fill="#2b748e"/>
<rect x="188" y="392" width="6" height="6" fill="#3e4989"/>
<rect x="194" y="392" width="5" height="6" fill="#26828e"/>
<rect x="199" y="392" width="6" height="6" fill="#1e9c89"/>
<rect x="205" y="392" width="6" height="6" fill="#3e4989"/>
<rect x="211" y="392" width="6" height="6" fill="#443983"/>
<rect x="217" y="392" width="6" height="6" fill="#1e9c89"/>
<rect x="223" y="392" width="11" height="6" fill="#218f8d"/>
<rect x="234" y="392" width="6" height="6" fill="#26828e"/>
<rect x="240" y="392" width="6" height="6" fill="#2b748e"/>
<rect x="246" y="392" width="6" height="6" fill="#26828e"/>
<rect x="252" y="392" width="5" height="6" fill="#2b748e"/>
<rect x="257" y="392" width="18" height="6" fill="#26828e"/>
<rect x="275" y="392" width="5" height="6" fill="#1e9c89"/>
<rect x="280" y="392" width="6" height="6" fill="#3e4989"/>
<rect x="286" y="392" width="6" height="6" fill="#31678e"/>
<rect x="292" y="392" width="6" height="6" fill="#3e4989"/>
<rect x="298" y="392" width="11" height="6" fill="#26828e"/>
<rect x="309" y="392" width="12" height="6" fill="#2b748e"/>
<rect x="321" y="392" width="6" height="6" fill="#218f8d"/>
<rect x="327" y="392" width="17" height="6" fill="#26828e"/>
<rect x="344" y="392" width="6" height="6" fill="#218f8d"/>
<rect x="350" y="392" width="6" height="6" fill="#31678e"/>
<rect x="356" y="392" width="11" height="6" fill="#2b748e"/>
<rect x="367" y="392" width="12" height="6" fill="#26828e"/>
<rect x="379" y="392" width="5" height="6" fill="#218f8d"/>
<rect x="384" y="392" width="6" height="6" fill="#2b748e"/>
<rect x="390" y="392" width="6" height="6" fill="#26828e"/>
<rect x="396" y="392" width="6" height="6" fill="#2b748e"/>
<rect x="402" y="392" width="6" height="6" fill="#218f8d"/>
<rect x="408" y="392" width="11" height="6" fill="#26828e"/>
<rect x="419" y="392" width="6" height="6" fill="#2b748e"/>
<rect x="425" y="392" width="12" height="6" fill="#26828e"/>
<rect x="437" y="392" width="5" height="6" fill="#440154"/>
<rect x="442" y="392" width="6" height="6" fill="#218f8d"/>
<rect x="448" y="392" width="6" height="6" fill="#440154"/>
<rect x="454" y="392" width="6" height="6" fill="#218f8d"/>
<rect x="460" y="392" width="5" height="6" fill="#440154"/>
<rect x="465" y="392" width="6" height="6" fill="#218f8d"/>
<rect x="471" y="392" width="6" height="6" fill="#23a983"/>
<rect x="107" y="398" width="6" height="6" fill="#218f8d"/>
<rect x="113" y="398" width="6" height="6" fill="#31678e"/>
<rect x="119" y="398" width="5" height="6" fill="#3e4989"/>
<rect x="124" y="398" width="6" height="6" fill="#443983"/>
<rect x="130" y="398" width="6" height="6" fill="#1e9c89"/>
<rect x="136" y="398" width="6" height="6" fill="#218f8d"/>
<rect x="142" y="398" width="23" height="6" fill="#26828e"/>
<rect x="165" y="398" width="6" height="6" fill="#2b748e"/>
<rect x="171" y="398" width="5" height="6" fill="#26828e"/>
<rect x="176" y="398" width="6" height="6" fill="#218f8d"/>
<rect x="182" y="398" width="12" height="6" fill="#2b748e"/>
<rect x="194" y="398" width="5" height="6" fill="#31678e"/>
<rect x="199" y="398" width="6" height="6" fill="#67cc5c"/>
<rect x="205" y="398" width="6" height="6" fill="#443983"/>
<rect x="211" y="398" width="6" height="6" fill="#3e4989"/>
<rect x="217" y="398" width="6" height="6" fill="#23a983"/>
<rect x="223" y="398" width="11" height="6" fill="#218f8d"/>
<rect x="234" y="398" width="6" height="6" fill="#26828e"/>
<rect x="240" y="398" width="12" height="6" fill="#2b748e"/>
<rect x="252" y="398" width="5" height="6" fill="#218f8d"/>
<rect x="257" y="398" width="18" height="6" fill="#26828e"/>
<rect x="275" y="398" width="5" height="6" fill="#218f8d"/>
<rect x="280" y="398" width="6" height="6" fill="#31678e"/>
<rect x="286" y="398" width="6" height="6" fill="#218f8d"/>
<rect x="292" y="398" width="6" height="6" fill="#1e9c89"/>
<rect x="298" y="398" width="6" height="6" fill="#218f8d"/>
<rect x="304" y="398" width="11" height="6" fill="#2b748e"/>
<rect x="315" y="398" width="6" height="6" fill="#26828e"/>
<rect x="321" y="398" width="6" height="6" fill="#218f8d"/>
<rect x="327" y="398" width="5" height="6" fill="#26828e"/>
<rect x="332" y="398" width="12" height="6" fill="#218f8d"/>
<rect x="344" y="398" width="6" height="6" fill="#1e9c89"/>
<rect x="350" y="398" width="6" height="6" fill="#31678e"/>
<rect x="356" y="398" width="5" height="6" fill="#26828e"/>
<rect x="361" y="398" width="12" height="6" fill="#218f8d"/>
<rect x="373" y="398" width="6" height="6" fill="#26828e"/>
<rect x="379" y="398" width="5" height="6" fill="#1e9c89"/>
<rect x="384" y="398" width="18" height="6" fill="#26828e"/>
<rect x="402" y="398" width="6" height="6" fill="#2b748e"/>
<rect x="408" y="398" width="11" height="6" fill="#26828e"/>
<rect x="419" y="398" width="6" height="6" fill="#2b748e"/>
<rect x="425" y="398" width="6" height="6" fill="#26828e"/>
<rect x="431" y="398" width="6" height="6" fill="#218f8d"/>
<rect x="437" y="398" width="34" height="6" fill="#440154"/>
<rect x="471" y="398" width="6" height="6" fill="#23a983"/>
<rect x="107" y="404" width="6" height="6" fill="#26828e"/>
<rect x="113" y="404" width="11" height="6" fill="#31678e"/>
<rect x="124" y="404" width="6" height="6" fill="#440154"/>
<rect x="130" y="404" width="6" height="6" fill="#26828e"/>
<rect x="136" y="404" width="6" height="6" fill="#32b67a"/>
<rect x="142" y="404" width="11" height="6" fill="#218f8d"/>
<rect x="153" y="404" width="12" height="6" fill="#2b748e"/>
<rect x="165" y="404" width="6" height="6" fill="#26828e"/>
<rect x="171" y="404" width="11" height="6" fill="#218f8d"/>
<rect x="182" y="404" width="12" height="6" fill="#2b748e"/>
<rect x="194" y="404" width="5" height="6" fill="#26828e"/>
<rect x="199" y="404" width="6" height="6" fill="#4ac16d"/>
<rect x="205" y="404" width="6" height="6" fill="#443983"/>
<rect x="211" y="404" width="6" height="6" fill="#26828e"/>
<rect x="217" y="404" width="6" height="6" fill="#218f8d"/>
<rect x="223" y="404" width="5" height="6" fill="#26828e"/>
<rect x="228" y="404" width="6" height="6" fill="#2b748e"/>
<rect x="234" y="404" width="6" height="6" fill="#26828e"/>
<rect x="240" y="404" width="6" height="6" fill="#218f8d"/>
<rect x="246" y="404" width="11" height="6" fill="#26828e"/>
<rect x="257" y="404" width="18" height="6" fill="#218f8d"/>
<rect x="275" y="404" width="5" height="6" fill="#26828e"/>
<rect x="280" y="404" width="6" height="6" fill="#2b748e"/>
<rect x="286" y="404" width="6" height="6" fill="#440154"/>
<rect x="292" y="404" width="6" height="6" fill="#1e9c89"/>
<rect x="298" y="404" width="11" height="6" fill="#26828e"/>
<rect x="309" y="404" width="6" height="6" fill="#218f8d"/>
<rect x="315" y="404" width="6" height="6" fill="#26828e"/>
<rect x="321" y="404" width="6" height="6" fill="#218f8d"/>
<rect x="327" y="404" width="11" height="6" fill="#26828e"/>
<rect x="338" y="404" width="12" height="6" fill="#218f8d"/>
<rect x="350" y="404" width="6" height="6" fill="#3e4989"/>
<rect x="356" y="404" width="5" height="6" fill="#2b748e"/>
<rect x="361" y="404" width="6" height="6" fill="#218f8d"/>
<rect x="367" y="404" width="6" height="6" fill="#26828e"/>
<rect x="373" y="404" width="6" height="6" fill="#218f8d"/>
<rect x="379" y="404" width="5" height="6" fill="#1e9c89"/>
<rect x="384" y="404" width="24" height="6" fill="#26828e"/>
<rect x="408" y="404" width="5" height="6" fill="#218f8d"/>
<rect x="413" y="404" width="12" height="6" fill="#26828e"/>
<rect x="425" y="404" width="6" height="6" fill="#218f8d"/>
<rect x="431" y="404" width="6" height="6" fill="#1e9c89"/>
<rect x="437" y="404" width="28" height="6" fill="#440154"/>
<rect x="465" y="404" width="6" height="6" fill="#1e9c89"/>
<rect x="471" y="404" width="6" height="6" fill="#32b67a"/>
<rect x="107" y="410" width="6" height="5" fill="#26828e"/>
<rect x="113" y="410" width="6" height="5" fill="#2b748e"/>
<rect x="119" y="410" width="5" height="5" fill="#3e4989"/>
<rect x="124" y="410" width="6" height="5" fill="#31678e"/>
<rect x="130" y="410" width="6" height="5" fill="#3e4989"/>
<rect x="136" y="410" width="6" height="5" fill="#26828e"/>
<rect x="142" y="410" width="5" height="5" fill="#1e9c89"/>
<rect x="147" y="410" width="6" height="5" fill="#440154"/>
<rect x="153" y="410" width="6" height="5" fill="#218f8d"/>
<rect x="159" y="410" width="17" height="5" fill="#26828e"/>
<rect x="176" y="410" width="6" height="5" fill="#218f8d"/>
<rect x="182" y="410" width="12" height="5" fill="#3e4989"/>
<rect x="194" y="410" width="5" height="5" fill="#26828e"/>
<rect x="199" y="410" width="6" height="5" fill="#23a983"/>
<rect x="205" y="410" width="6" height="5" fill="#443983"/>
<rect x="211" y="410" width="6" height="5" fill="#2b748e"/>
<rect x="217" y="410" width="6" height="5" fill="#67cc5c"/>
<rect x="223" y="410" width="5" height="5" fill="#218f8d"/>
<rect x="228" y="410" width="18" height="5" fill="#26828e"/>
<rect x="246" y="410" width="6" height="5" fill="#218f8d"/>
<rect x="252" y="410" width="11" height="5" fill="#26828e"/>
<rect x="263" y="410" width="12" height="5" fill="#218f8d"/>
<rect x="275" y="410" width="5" height="5" fill="#2b748e"/>
<rect x="280" y="410" width="12" height="5" fill="#440154"/>
<rect x="292" y="410" width="6" height="5" fill="#218f8d"/>
<rect x="298" y="410" width="6" height="5" fill="#26828e"/>
<rect x="304" y="410" width="5" height="5" fill="#2b748e"/>
<rect x="309" y="410" width="6" height="5" fill="#26828e"/>
<rect x="315" y="410" width="6" height="5" fill="#218f8d"/>
<rect x="321" y="410" width="23" height="5" fill="#26828e"/>
<rect x="344" y="410" width="12" height="5" fill="#218f8d"/>
<rect x="356" y="410" width="5" height="5" fill="#26828e"/>
<rect x="361" y="410" width="6" height="5" fill="#2b748e"/>
<rect x="367" y="410" width="12" height="5" fill="#218f8d"/>
<rect x="379" y="410" width="5" height="5" fill="#1e9c89"/>
<rect x="384" y="410" width="6" height="5" fill="#26828e"/>
<rect x="390" y="410" width="12" height="5" fill="#218f8d"/>
<rect x="402" y="410" width="17" height="5" fill="#26828e"/>
<rect x="419" y="410" width="6" height="5" fill="#218f8d"/>
<rect x="425" y="410" width="6" height="5" fill="#26828e"/>
<rect x="431" y="410" width="17" height="5" fill="#440154"/>
<rect x="448" y="410" width="6" height="5" fill="#3e4989"/>
<rect x="454" y="410" width="17" height="5" fill="#440154"/>
<rect x="471" y="410" width="6" height="5" fill="#32b67a"/>
<rect x="107" y="415" width="12" height="6" fill="#2b748e"/>
<rect x="119" y="415" width="5" height="6" fill="#26828e"/>
<rect x="124" y="415" width="6" height="6" fill="#440154"/>
<rect x="130" y="415" width="6" height="6" fill="#31678e"/>
<rect x="136" y="415" width="6" height="6" fill="#3e4989"/>
<rect x="142" y="415" width="5" height="6" fill="#1e9c89"/>
<rect x="147" y="415" width="6" height="6" fill="#440154"/>
<rect x="153" y="415" width="6" height="6" fill="#23a983"/>
<rect x="159" y="415" width="6" height="6" fill="#26828e"/>
<rect x="165" y="415" width="11" height="6" fill="#1e9c89"/>
<rect x="176" y="415" width="6" height="6" fill="#218f8d"/>
<rect x="182" y="415" width="6" height="6" fill="#26828e"/>
<rect x="188" y="415" width="6" height="6" fill="#2b748e"/>
<rect x="194" y="415" width="11" height="6" fill="#26828e"/>
<rect x="205" y="415" width="6" height="6" fill="#443983"/>
<rect x="211" y="415" width="6" height="6" fill="#3e4989"/>
<rect x="217" y="415" width="6" height="6" fill="#31678e"/>
<rect x="223" y="415" width="11" height="6" fill="#1e9c89"/>
<rect x="234" y="415" width="6" height="6" fill="#218f8d"/>
<rect x="240" y="415" width="17" height="6" fill="#26828e"/>
<rect x="257" y="415" width="12" height="6" fill="#218f8d"/>
<rect x="269" y="415" width="6" height="6" fill="#26828e"/>
<rect x="275" y="415" width="5" height="6" fill="#31678e"/>
<rect x="280" y="415" width="6" height="6" fill="#2b748e"/>
<rect x="286" y="415" width="6" height="6" fill="#26828e"/>
<rect x="292" y="415" width="12" height="6" fill="#1e9c89"/>
<rect x="304" y="415" width="5" height="6" fill="#26828e"/>
<rect x="309" y="415" width="6" height="6" fill="#1e9c89"/>
<rect x="315" y="415" width="17" height="6" fill="#218f8d"/>
<rect x="332" y="415" width="6" height="6" fill="#1e9c89"/>
<rect x="338" y="415" width="6" height="6" fill="#26828e"/>
<rect x="344" y="415" width="12" height="6" fill="#218f8d"/>
<rect x="356" y="415" width="5" height="6" fill="#26828e"/>
<rect x="361" y="415" width="12" height="6" fill="#218f8d"/>
<rect x="373" y="415" width="11" height="6" fill="#1e9c89"/>
<rect x="384" y="415" width="6" height="6" fill="#26828e"/>
<rect x="390" y="415" width="18" height="6" fill="#218f8d"/>
<rect x="408" y="415" width="5" height="6" fill="#26828e"/>
<rect x="413" y="415" width="6" height="6" fill="#218f8d"/>
<rect x="419" y="415" width="6" height="6" fill="#26828e"/>
<rect x="425" y="415" width="6" height="6" fill="#23a983"/>
<rect x="431" y="415" width="6" height="6" fill="#440154"/>
<rect x="437" y="415" width="5" height="6" fill="#218f8d"/>
<rect x="442" y="415" width="6" height="6" fill="#2b748e"/>
<rect x="448" y="415" width="6" height="6" fill="#1e9c89"/>
<rect x="454" y="415" width="17" height="6" fill="#440154"/>
<rect x="471" y="415" width="6" height="6" fill="#23a983"/>
<rect x="107" y="421" width="6" height="6" fill="#440154"/>
<rect x="113" y="421" width="23" height="6" fill="#2b748e"/>
<rect x="136" y="421" width="6" height="6" fill="#1e9c89"/>
<rect x="142" y="421" width="11" height="6" fill="#440154"/>
<rect x="153" y="421" width="12" height="6" fill="#1e9c89"/>
<rect x="165" y="421" width="34" height="6" fill="#440154"/>
<rect x="199" y="421" width="6" height="6" fill="#2b748e"/>
<rect x="205" y="421" width="6" height="6" fill="#3e4989"/>
<rect x="211" y="421" width="6" height="6" fill="#440154"/>
<rect x="217" y="421" width="6" height="6" fill="#2b748e"/>
<rect x="223" y="421" width="5" height="6" fill="#31678e"/>
<rect x="228" y="421" width="6" height="6" fill="#440154"/>
<rect x="234" y="421" width="6" height="6" fill="#218f8d"/>
<rect x="240" y="421" width="12" height="6" fill="#32b67a"/>
<rect x="252" y="421" width="11" height="6" fill="#23a983"/>
<rect x="263" y="421" width="6" height="6" fill="#67cc5c"/>
<rect x="269" y="421" width="6" height="6" fill="#440154"/>
<rect x="275" y="421" width="5" height="6" fill="#1e9c89"/>
<rect x="280" y="421" width="6" height="6" fill="#218f8d"/>
<rect x="286" y="421" width="6" height="6" fill="#26828e"/>
<rect x="292" y="421" width="12" height="6" fill="#4ac16d"/>
<rect x="304" y="421" width="11" height="6" fill="#67cc5c"/>
<rect x="315" y="421" width="12" height="6" fill="#4ac16d"/>
<rect x="327" y="421" width="5" height="6" fill="#67cc5c"/>
<rect x="332" y="421" width="6" height="6" fill="#32b67a"/>
<rect x="338" y="421" width="6" height="6" fill="#89d548"/>
<rect x="344" y="421" width="6" height="6" fill="#26828e"/>
<rect x="350" y="421" width="6" height="6" fill="#67cc5c"/>
<rect x="356" y="421" width="5" height="6" fill="#23a983"/>
<rect x="361" y="421" width="12" height="6" fill="#4ac16d"/>
<rect x="373" y="421" width="6" height="6" fill="#67cc5c"/>
<rect x="379" y="421" width="5" height="6" fill="#89d548"/>
<rect x="384" y="421" width="6" height="6" fill="#1e9c89"/>
<rect x="390" y="421" width="29" height="6" fill="#23a983"/>
<rect x="419" y="421" width="6" height="6" fill="#1e9c89"/>
<rect x="425" y="421" width="6" height="6" fill="#4ac16d"/>
<rect x="431" y="421" width="6" height="6" fill="#218f8d"/>
<rect x="437" y="421" width="11" height="6" fill="#3e4989"/>
<rect x="448" y="421" width="6" height="6" fill="#218f8d"/>
<rect x="454" y="421" width="11" height="6" fill="#23a983"/>
<rect x="465" y="421" width="12" height="6" fill="#32b67a"/>
</g>
<path d="M107.500 58.500H477.500V427.500H107.500Z" fill="none" stroke="#000" stroke-width="1.111" stroke-linecap="square"/>
<defs><linearGradient id="g" x1="0" y1="1" x2="0" y2="0"><stop offset="0.0000" stop-color="#440154"/><stop offset="0.0156" stop-color="#46075a"/><stop offset="0.0312" stop-color="#470d60"/><stop offset="0.0469" stop-color="#471365"/><stop offset="0.0625" stop-color="#48186a"/><stop offset="0.0781" stop-color="#481d6f"/><stop offset="0.0938" stop-color="#482374"/><stop offset="0.1094" stop-color="#482878"/><stop offset="0.1250" stop-color="#472d7b"/><stop offset="0.1406" stop-color="#46327e"/><stop offset="0.1562" stop-color="#453781"/><stop offset="0.1719" stop-color="#443b84"/><stop offset="0.1875" stop-color="#424086"/><stop offset="0.2031" stop-color="#404588"/><stop offset="0.2188" stop-color="#3e4989"/><stop offset="0.2344" stop-color="#3d4e8a"/><stop offset="0.2500" stop-color="#3b528b"/><stop offset="0.2656" stop-color="#39568c"/><stop offset="0.2812" stop-color="#375b8d"/><stop offset="0.2969" stop-color="#355f8d"/><stop offset="0.3125" stop-color="#33638d"/><stop offset="0.3281" stop-color="#31678e"/><stop offset="0.3438" stop-color="#2f6b8e"/><stop offset="0.3594" stop-color="#2e6f8e"/><stop offset="0.3750" stop-color="#2c728e"/><stop offset="0.3906" stop-color="#2a768e"/><stop offset="0.4062" stop-color="#297a8e"/><stop offset="0.4219" stop-color="#277e8e"/><stop offset="0.4375" stop-color="#26828e"/><stop offset="0.4531" stop-color="#25858e"/><stop offset="0.4688" stop-color="#23898e"/><stop offset="0.4844" stop-color="#228d8d"/><stop offset="0.5000" stop-color="#21918c"/><stop offset="0.5156" stop-color="#1f948c"/><stop offset="0.5312" stop-color="#1f988b"/><stop offset="0.5469" stop-color="#1e9c89"/><stop offset="0.5625" stop-color="#1fa088"/><stop offset="0.5781" stop-color="#20a386"/><stop offset="0.5938" stop-color="#22a785"/><stop offset="0.6094" stop-color="#25ab82"/><stop offset="0.6250" stop-color="#28ae80"/><stop offset="0.6406" stop-color="#2db27d"/><stop offset="0.6562" stop-color="#32b67a"/><stop offset="0.6719" stop-color="#38b977"/><stop offset="0.6875" stop-color="#3fbc73"/><stop offset="0.7031" stop-color="#46c06f"/><stop offset="0.7188" stop-color="#4ec36b"/><stop offset="0.7344" stop-color="#56c667"/><stop offset="0.7500" stop-color="#5ec962"/><stop offset="0.7656" stop-color="#67cc5c"/><stop offset="0.7812" stop-color="#70cf57"/><stop offset="0.7969" stop-color="#7ad151"/><stop offset="0.8125" stop-color="#84d44b"/><stop offset="0.8281" stop-color="#8ed645"/><stop offset="0.8438" stop-color="#98d83e"/><stop offset="0.8594" stop-color="#a2da37"/><stop offset="0.8750" stop-color="#addc30"/><stop offset="0.8906" stop-color="#b8de29"/><stop offset="0.9062" stop-color="#c2df23"/><stop offset="0.9219" stop-color="#cde11d"/><stop offset="0.9375" stop-color="#d8e219"/><stop offset="0.9531" stop-color="#e2e418"/><stop offset="0.9688" stop-color="#ece51b"/><stop offset="0.9844" stop-color="#f6e620"/><stop offset="1.0000" stop-color="#fde725"/></linearGradient></defs>
<rect x="501.600" y="74.400" width="16.800" height="336.000" fill="url(#g)"/>
<path d="M501.600 74.700L510.000 57.600L518.400 74.700Z" fill="#fde725"/>
<path d="M501.600 410.100L510.000 427.200L518.400 410.100Z" fill="#440154"/>
<path d="M501.600 74.400L510.000 57.600L518.400 74.400L518.400 410.400L510.000 427.200L501.600 410.400Z" fill="none" stroke="#000" stroke-width="1.111" stroke-linejoin="miter"/>
<path d="M110.500 427.000V432.500M108.000 424.500H102.500M168.500 427.000V432.500M108.000 367.500H102.500M226.500 427.000V432.500M108.000 309.500H102.500M283.500 427.000V432.500M108.000 251.500H102.500M341.500 427.000V432.500M108.000 193.500H102.500M399.500 427.000V432.500M108.000 136.500H102.500M457.500 427.000V432.500M108.000 78.500H102.500M518.000 410.500H523.500M518.000 337.500H523.500M518.000 263.500H523.500M518.000 189.500H523.500M518.000 116.500H523.500" stroke="#000" stroke-width="1.111" fill="none"/>
<g class="tx">
<text transform="translate(107.63 448.41) scale(0.9125 1)" font-size="14.60">0</text>
<text transform="translate(90.65 430.22) scale(0.9125 1)" font-size="14.60">0</text>
<text transform="translate(160.68 448.17) scale(0.9533 1)" font-size="14.60">10</text>
<text transform="translate(80.50 372.23) scale(0.9533 1)" font-size="14.60">10</text>
<text transform="translate(217.26 447.74) scale(1.0467 1)" font-size="14.60">20</text>
<text transform="translate(80.23 314.05) scale(1.0467 1)" font-size="14.60">20</text>
<text transform="translate(275.36 448.25) scale(1.0000 1)" font-size="14.60">30</text>
<text transform="translate(80.37 256.81) scale(1.0000 1)" font-size="14.60">30</text>
<text transform="translate(333.59 447.89) scale(0.9563 1)" font-size="14.60">40</text>
<text transform="translate(81.63 198.69) scale(0.9563 1)" font-size="14.60">40</text>
<text transform="translate(390.34 448.37) scale(1.0000 1)" font-size="14.60">50</text>
<text transform="translate(80.29 140.53) scale(1.0000 1)" font-size="14.60">50</text>
<text transform="translate(448.29 447.61) scale(1.0467 1)" font-size="14.60">60</text>
<text transform="translate(80.27 82.92) scale(1.0467 1)" font-size="14.60">60</text>
<text transform="translate(529.15 415.82) scale(1.0190 1)" font-size="14.60">0</text>
<text transform="translate(529.35 341.98) scale(1.0000 1)" font-size="14.60">100</text>
<text transform="translate(528.72 269.49) scale(1.0304 1)" font-size="14.60">200</text>
<text transform="translate(528.57 194.64) scale(1.0000 1)" font-size="14.60">300</text>
<text transform="translate(529.67 120.73) scale(0.9725 1)" font-size="14.60">400</text>
<text transform="translate(223.68 49.15) scale(1.1083 1)" font-size="16.60">Quadrant 1 DPH</text>
<text x="-9.14" y="22.34" font-size="17.30" textLength="15.93" lengthAdjust="spacingAndGlyphs" style="white-space:pre">n </text>
<text x="8.09" y="22.34" font-size="17.30" textLength="36.45" lengthAdjust="spacingAndGlyphs" style="white-space:pre">file: </text>
<text x="44.12" y="22.34" font-size="17.30" textLength="78.17" lengthAdjust="spacingAndGlyphs" style="white-space:pre">modeM0/</text>
<text x="121.50" y="22.34" font-size="17.30" textLength="73.82" lengthAdjust="spacingAndGlyphs" style="white-space:pre">AS1A13_</text>
<text x="196.33" y="22.34" font-size="17.30" textLength="71.82" lengthAdjust="spacingAndGlyphs" style="white-space:pre">049T04_</text>
<text x="267.54" y="22.34" font-size="17.30" textLength="114.83" lengthAdjust="spacingAndGlyphs" style="white-space:pre">9000006048_</text>
<text x="381.97" y="22.34" font-size="17.30" textLength="111.22" lengthAdjust="spacingAndGlyphs" style="white-space:pre">45156cztM0_</text>
<text x="492.59" y="22.34" font-size="17.30" textLength="58.80" lengthAdjust="spacingAndGlyphs" style="white-space:pre">level2_</text>
<text x="551.19" y="22.34" font-size="17.30" textLength="50.47" lengthAdjust="spacingAndGlyphs" style="white-space:pre">quad_</text>
<text x="600.66" y="22.34" font-size="17.30" textLength="50.32" lengthAdjust="spacingAndGlyphs" style="white-space:pre">clean.</text>
</g>
</svg></body></html>
